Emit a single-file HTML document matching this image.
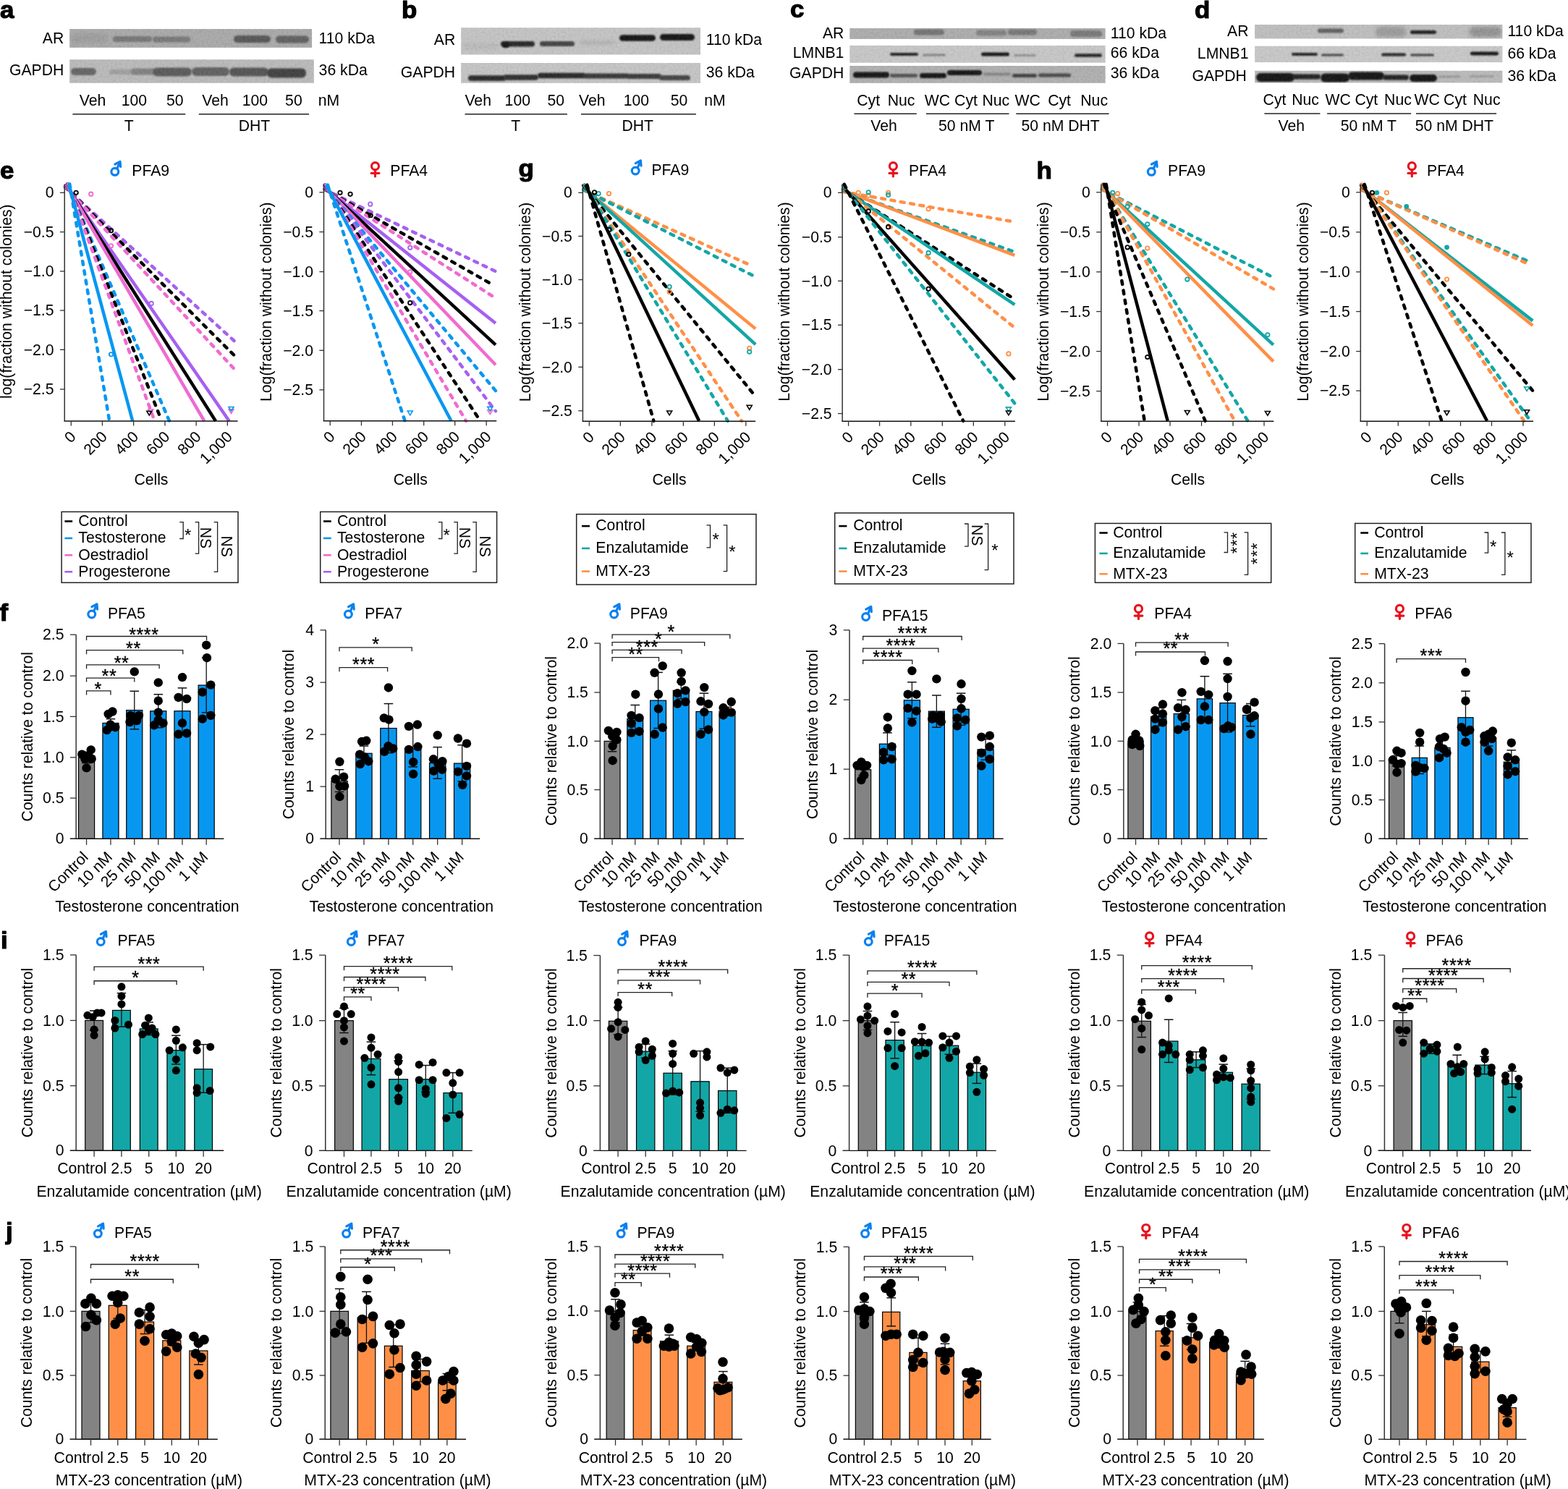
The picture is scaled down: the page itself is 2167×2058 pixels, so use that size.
<!DOCTYPE html>
<html><head><meta charset="utf-8"><title>Figure</title>
<style>html,body{margin:0;padding:0;background:#fff;}svg{display:block;}</style>
</head><body>
<svg xmlns="http://www.w3.org/2000/svg" width="2167" height="2058" viewBox="0 0 2167 2058" font-family="'Liberation Sans', Arial, Helvetica, sans-serif" font-size="20.5" fill="#000">
<rect width="100%" height="100%" fill="#fff"/>
<defs><filter id="b1" x="-30%" y="-80%" width="160%" height="260%"><feGaussianBlur stdDeviation="1.2"/></filter><filter id="b2" x="-30%" y="-80%" width="160%" height="260%"><feGaussianBlur stdDeviation="2.6"/></filter><filter id="nz" x="0" y="0" width="100%" height="100%"><feTurbulence type="fractalNoise" baseFrequency="0.35" numOctaves="2" seed="3"/><feColorMatrix type="matrix" values="1 0 0 0 0  1 0 0 0 0  1 0 0 0 0  0 0 0 0 1"/></filter></defs>
<g>
<rect x="96.2" y="40.1" width="334.9" height="25.7" fill="#a6a6a6"/>
<svg x="96.2" y="40.1" width="334.9" height="25.7" overflow="hidden">
<rect x="59.8" y="9.9" width="54" height="8" rx="4" fill="#6e6e6e" filter="url(#b1)"/>
<rect x="114.8" y="10.4" width="52" height="8" rx="4" fill="#707070" filter="url(#b1)"/>
<rect x="226.8" y="8.9" width="51" height="10" rx="5" fill="#4c4c4c" filter="url(#b1)"/>
<rect x="284.8" y="9.4" width="46" height="10" rx="5" fill="#555" filter="url(#b1)"/>
<rect x="1.8" y="5.9" width="51" height="14" rx="6" fill="#9a9a9a" filter="url(#b2)"/>
<rect width="100%" height="100%" filter="url(#nz)" opacity="0.14"/>
</svg></g>
<g>
<rect x="96.2" y="82.3" width="337.6" height="32.4" fill="#b9b9b9"/>
<svg x="96.2" y="82.3" width="337.6" height="32.4" overflow="hidden">
<rect x="1.8" y="11.7" width="35" height="10" rx="5" fill="#5a5a5a" filter="url(#b1)"/>
<rect x="54.8" y="13.7" width="38" height="7" rx="3.5" fill="#9a9a9a" filter="url(#b1)"/>
<rect x="84.8" y="12.2" width="34" height="9" rx="4.5" fill="#7a7a7a" filter="url(#b1)"/>
<rect x="114.8" y="11.2" width="54" height="12" rx="6" fill="#505050" filter="url(#b1)"/>
<rect x="168.8" y="10.7" width="52" height="12" rx="6" fill="#555" filter="url(#b1)"/>
<rect x="220.8" y="11.2" width="54" height="12" rx="6" fill="#474747" filter="url(#b1)"/>
<rect x="272.8" y="12.2" width="54" height="13" rx="6" fill="#333" filter="url(#b1)"/>
<rect width="100%" height="100%" filter="url(#nz)" opacity="0.14"/>
</svg></g>
<text x="88.3" y="60.2" font-size="21.2" text-anchor="end">AR</text>
<text x="440.6" y="60.2" font-size="21.2">110 kDa</text>
<text x="88.3" y="103.9" font-size="21.2" text-anchor="end">GAPDH</text>
<text x="440.6" y="103.9" font-size="21.2">36 kDa</text>
<text x="109.7" y="146.3" font-size="21.2">Veh</text>
<text x="167.7" y="146.3" font-size="21.2">100</text>
<text x="230" y="146.3" font-size="21.2">50</text>
<text x="279.3" y="146.3" font-size="21.2">Veh</text>
<text x="334.8" y="146.3" font-size="21.2">100</text>
<text x="394.1" y="146.3" font-size="21.2">50</text>
<text x="439.8" y="146.3" font-size="21.2">nM</text>
<line x1="100.4" y1="157.8" x2="256.2" y2="157.8" stroke="#222" stroke-width="1.5"/>
<line x1="274.8" y1="157.8" x2="427.1" y2="157.8" stroke="#222" stroke-width="1.5"/>
<text x="178.3" y="180.5" font-size="21.2" text-anchor="middle">T</text>
<text x="351.4" y="180.5" font-size="21.2" text-anchor="middle">DHT</text>
<g>
<rect x="637.1" y="38.3" width="330.9" height="37.2" fill="#c3c3c3"/>
<svg x="637.1" y="38.3" width="330.9" height="37.2" overflow="hidden">
<rect x="3.9" y="21.7" width="48" height="8" rx="4" fill="#b6b6b6" filter="url(#b2)"/>
<rect x="54.9" y="18.75" width="47" height="7.5" rx="3.75" fill="#151515" filter="url(#b1)"/>
<rect x="56.9" y="19.7" width="10" height="8" rx="4" fill="#000" filter="url(#b1)"/>
<rect x="108.9" y="18.7" width="48" height="7" rx="3.5" fill="#363636" filter="url(#b1)"/>
<rect x="163.9" y="18.7" width="48" height="4" rx="2" fill="#a6a6a6" filter="url(#b2)"/>
<rect x="218.9" y="9.95" width="50" height="8.5" rx="4.25" fill="#050505" filter="url(#b1)"/>
<rect x="274.9" y="8.7" width="48" height="9" rx="4.5" fill="#030303" filter="url(#b1)"/>
<rect width="100%" height="100%" filter="url(#nz)" opacity="0.14"/>
</svg></g>
<g>
<rect x="637.1" y="87" width="330.9" height="27.8" fill="#c4c4c4"/>
<svg x="637.1" y="87" width="330.9" height="27.8" overflow="hidden">
<rect x="9.9" y="17.25" width="52" height="7.5" rx="3.75" fill="#141414" filter="url(#b1)"/>
<rect x="58.9" y="16.25" width="48" height="7.5" rx="3.75" fill="#1c1c1c" filter="url(#b1)"/>
<rect x="105.9" y="13.75" width="66" height="7.5" rx="3.75" fill="#151515" filter="url(#b1)"/>
<rect x="168.9" y="14.5" width="63" height="7" rx="3.5" fill="#262626" filter="url(#b1)"/>
<rect x="228.9" y="15" width="48" height="7" rx="3.5" fill="#2a2a2a" filter="url(#b1)"/>
<rect x="273.9" y="17" width="43" height="7" rx="3.5" fill="#363636" filter="url(#b1)"/>
<rect width="100%" height="100%" filter="url(#nz)" opacity="0.14"/>
</svg></g>
<text x="629.2" y="61.5" font-size="21.2" text-anchor="end">AR</text>
<text x="975.7" y="61.5" font-size="21.2">110 kDa</text>
<text x="629.2" y="106.6" font-size="21.2" text-anchor="end">GAPDH</text>
<text x="975.7" y="106.6" font-size="21.2">36 kDa</text>
<text x="642.4" y="146.3" font-size="21.2">Veh</text>
<text x="697.6" y="146.3" font-size="21.2">100</text>
<text x="756.4" y="146.3" font-size="21.2">50</text>
<text x="800.1" y="146.3" font-size="21.2">Veh</text>
<text x="861.7" y="146.3" font-size="21.2">100</text>
<text x="926.7" y="146.3" font-size="21.2">50</text>
<text x="973.2" y="146.3" font-size="21.2">nM</text>
<line x1="642.5" y1="157.8" x2="783.9" y2="157.8" stroke="#222" stroke-width="1.5"/>
<line x1="803" y1="157.8" x2="961.9" y2="157.8" stroke="#222" stroke-width="1.5"/>
<text x="712.8" y="180.5" font-size="21.2" text-anchor="middle">T</text>
<text x="881.3" y="180.5" font-size="21.2" text-anchor="middle">DHT</text>
<g>
<rect x="1174.3" y="39.1" width="353.3" height="14.8" fill="#a9a9a9"/>
<svg x="1174.3" y="39.1" width="353.3" height="14.8" overflow="hidden">
<rect x="88.7" y="1.4" width="42" height="8" rx="4" fill="#6a6a6a" filter="url(#b1)"/>
<rect x="174.7" y="2.4" width="42" height="8" rx="4" fill="#7a7a7a" filter="url(#b1)"/>
<rect x="218.7" y="1.4" width="40" height="8" rx="4" fill="#6e6e6e" filter="url(#b1)"/>
<rect x="304.7" y="2.9" width="44" height="9" rx="4.5" fill="#707070" filter="url(#b1)"/>
<rect width="100%" height="100%" filter="url(#nz)" opacity="0.14"/>
</svg></g>
<g>
<rect x="1174.3" y="62.9" width="353.3" height="23.8" fill="#c6c6c6"/>
<svg x="1174.3" y="62.9" width="353.3" height="23.8" overflow="hidden">
<rect x="55.7" y="10.1" width="39" height="4" rx="2" fill="#0a0a0a" filter="url(#b1)"/>
<rect x="100.7" y="11.6" width="32" height="3" rx="1.5" fill="#7a7a7a" filter="url(#b1)"/>
<rect x="181.7" y="9.6" width="39" height="5" rx="2.5" fill="#000" filter="url(#b1)"/>
<rect x="226.7" y="12.1" width="31" height="3" rx="1.5" fill="#8a8a8a" filter="url(#b1)"/>
<rect x="310.7" y="11.35" width="38" height="4.5" rx="2.25" fill="#0d0d0d" filter="url(#b1)"/>
<rect width="100%" height="100%" filter="url(#nz)" opacity="0.14"/>
</svg></g>
<g>
<rect x="1174.3" y="91" width="353.3" height="23.8" fill="#adadad"/>
<svg x="1174.3" y="91" width="353.3" height="23.8" overflow="hidden">
<rect x="4.7" y="8.5" width="50" height="8" rx="4" fill="#000" filter="url(#b1)"/>
<rect x="55.7" y="11" width="38" height="5" rx="2.5" fill="#444" filter="url(#b1)"/>
<rect x="96.7" y="10" width="37" height="7" rx="3.5" fill="#050505" filter="url(#b1)"/>
<rect x="134.7" y="6" width="48" height="7" rx="3.5" fill="#000" filter="url(#b1)"/>
<rect x="184.7" y="9.5" width="38" height="4" rx="2" fill="#7a7a7a" filter="url(#b1)"/>
<rect x="224.7" y="11" width="34" height="5" rx="2.5" fill="#333" filter="url(#b1)"/>
<rect x="260.7" y="10.5" width="45" height="5" rx="2.5" fill="#3a3a3a" filter="url(#b1)"/>
<rect width="100%" height="100%" filter="url(#nz)" opacity="0.14"/>
</svg></g>
<text x="1166.4" y="52.8" font-size="21.2" text-anchor="end">AR</text>
<text x="1166.4" y="80.1" font-size="21.2" text-anchor="end">LMNB1</text>
<text x="1166.4" y="108" font-size="21.2" text-anchor="end">GAPDH</text>
<text x="1534.8" y="52.8" font-size="21.2">110 kDa</text>
<text x="1534.8" y="80.1" font-size="21.2">66 kDa</text>
<text x="1534.8" y="108" font-size="21.2">36 kDa</text>
<text x="1184.3" y="145.7" font-size="21.2">Cyt</text>
<text x="1226.7" y="145.7" font-size="21.2">Nuc</text>
<text x="1277.8" y="145.7" font-size="21.2">WC</text>
<text x="1319.1" y="145.7" font-size="21.2">Cyt</text>
<text x="1357.4" y="145.7" font-size="21.2">Nuc</text>
<text x="1402.5" y="145.7" font-size="21.2">WC</text>
<text x="1448.2" y="145.7" font-size="21.2">Cyt</text>
<text x="1493.3" y="145.7" font-size="21.2">Nuc</text>
<line x1="1180.4" y1="157.2" x2="1266.8" y2="157.2" stroke="#222" stroke-width="1.5"/>
<line x1="1279.9" y1="157.2" x2="1394.5" y2="157.2" stroke="#222" stroke-width="1.5"/>
<line x1="1404.3" y1="157.2" x2="1532.6" y2="157.2" stroke="#222" stroke-width="1.5"/>
<text x="1221.6" y="180.5" font-size="21.2" text-anchor="middle">Veh</text>
<text x="1335.7" y="180.5" font-size="21.2" text-anchor="middle">50 nM T</text>
<text x="1465.6" y="180.5" font-size="21.2" text-anchor="middle">50 nM DHT</text>
<g>
<rect x="1734.1" y="34.1" width="342.3" height="19.3" fill="#bdbdbd"/>
<svg x="1734.1" y="34.1" width="342.3" height="19.3" overflow="hidden">
<rect x="86.9" y="5.4" width="36" height="6" rx="3" fill="#555" filter="url(#b1)"/>
<rect x="166.9" y="2.9" width="42" height="14" rx="6" fill="#959595" filter="url(#b2)"/>
<rect x="214.9" y="7.9" width="36" height="5" rx="2.5" fill="#111" filter="url(#b1)"/>
<rect x="296.9" y="2.9" width="44" height="14" rx="6" fill="#8c8c8c" filter="url(#b2)"/>
<rect width="100%" height="100%" filter="url(#nz)" opacity="0.14"/>
</svg></g>
<g>
<rect x="1734.1" y="63.7" width="342.3" height="22.4" fill="#c8c8c8"/>
<svg x="1734.1" y="63.7" width="342.3" height="22.4" overflow="hidden">
<rect x="50.9" y="9.3" width="36" height="4" rx="2" fill="#0c0c0c" filter="url(#b1)"/>
<rect x="91.9" y="10.8" width="31" height="3" rx="1.5" fill="#333" filter="url(#b1)"/>
<rect x="174.9" y="9.8" width="34" height="4" rx="2" fill="#0c0c0c" filter="url(#b1)"/>
<rect x="214.9" y="10.8" width="33" height="3" rx="1.5" fill="#2a2a2a" filter="url(#b1)"/>
<rect x="297.9" y="7.8" width="39" height="5" rx="2.5" fill="#050505" filter="url(#b1)"/>
<rect width="100%" height="100%" filter="url(#nz)" opacity="0.14"/>
</svg></g>
<g>
<rect x="1734.1" y="97.8" width="342.3" height="16.6" fill="#b9b9b9"/>
<svg x="1734.1" y="97.8" width="342.3" height="16.6" overflow="hidden">
<rect x="1.9" y="3.2" width="53" height="12" rx="6" fill="#000" filter="url(#b1)"/>
<rect x="50.9" y="4.7" width="40" height="7" rx="3.5" fill="#080808" filter="url(#b1)"/>
<rect x="90.9" y="3.7" width="40" height="12" rx="6" fill="#000" filter="url(#b1)"/>
<rect x="128.9" y="1.7" width="50" height="11" rx="5.5" fill="#000" filter="url(#b1)"/>
<rect x="176.9" y="5.7" width="36" height="7" rx="3.5" fill="#0a0a0a" filter="url(#b1)"/>
<rect x="213.9" y="5.2" width="38" height="10" rx="5" fill="#000" filter="url(#b1)"/>
<rect x="253.9" y="6.95" width="31" height="2.5" rx="1.25" fill="#8a8a8a" filter="url(#b1)"/>
<rect x="296.9" y="6.45" width="34" height="2.5" rx="1.25" fill="#909090" filter="url(#b1)"/>
<rect width="100%" height="100%" filter="url(#nz)" opacity="0.14"/>
</svg></g>
<text x="1725.5" y="49.8" font-size="21.2" text-anchor="end">AR</text>
<text x="1725.5" y="80.9" font-size="21.2" text-anchor="end">LMNB1</text>
<text x="1722.8" y="111.6" font-size="21.2" text-anchor="end">GAPDH</text>
<text x="2083.4" y="49.8" font-size="21.2">110 kDa</text>
<text x="2083.4" y="80.9" font-size="21.2">66 kDa</text>
<text x="2083.4" y="111.6" font-size="21.2">36 kDa</text>
<text x="1745.6" y="145.4" font-size="21.2">Cyt</text>
<text x="1785.2" y="145.4" font-size="21.2">Nuc</text>
<text x="1831.4" y="145.4" font-size="21.2">WC</text>
<text x="1872.4" y="145.4" font-size="21.2">Cyt</text>
<text x="1913.1" y="145.4" font-size="21.2">Nuc</text>
<text x="1954.6" y="145.4" font-size="21.2">WC</text>
<text x="1995.1" y="145.4" font-size="21.2">Cyt</text>
<text x="2035.8" y="145.4" font-size="21.2">Nuc</text>
<line x1="1747.4" y1="157" x2="1824.4" y2="157" stroke="#222" stroke-width="1.5"/>
<line x1="1834.1" y1="157" x2="1950.1" y2="157" stroke="#222" stroke-width="1.5"/>
<line x1="1957" y1="157" x2="2068.1" y2="157" stroke="#222" stroke-width="1.5"/>
<text x="1784.8" y="180.8" font-size="21.2" text-anchor="middle">Veh</text>
<text x="1891.4" y="180.8" font-size="21.2" text-anchor="middle">50 nM T</text>
<text x="2009.9" y="180.8" font-size="21.2" text-anchor="middle">50 nM DHT</text>
<g fill="none" stroke-width="4.5">
<line x1="90.03" y1="258.82" x2="325.47" y2="472.78" stroke="#a660f0" stroke-dasharray="5.0 8.5" stroke-linecap="round"/>
<line x1="90.03" y1="258.09" x2="323.55" y2="491.01" stroke="#000" stroke-dasharray="5.0 8.5" stroke-linecap="round"/>
<line x1="90.03" y1="257.41" x2="323.55" y2="509.81" stroke="#f06ad0" stroke-dasharray="5.0 8.5" stroke-linecap="round"/>
<line x1="90.03" y1="254.42" x2="316.83" y2="581.97" stroke="#a660f0"/>
<line x1="90.72" y1="254.39" x2="298.02" y2="581.97" stroke="#000"/>
<line x1="91.32" y1="254.39" x2="282.29" y2="581.97" stroke="#f06ad0"/>
<line x1="93.13" y1="254.39" x2="234.12" y2="581.97" stroke="#0897f0" stroke-dasharray="5.0 8.5" stroke-linecap="round"/>
<line x1="93.53" y1="254.39" x2="220.69" y2="574.68" stroke="#000" stroke-dasharray="5.0 8.5" stroke-linecap="round"/>
<line x1="93.9" y1="254.39" x2="212.44" y2="578.32" stroke="#f06ad0" stroke-dasharray="5.0 8.5" stroke-linecap="round"/>
<line x1="95.05" y1="254.39" x2="183.27" y2="581.97" stroke="#0897f0"/>
<line x1="96.26" y1="254.39" x2="151.22" y2="581.97" stroke="#0897f0" stroke-dasharray="5.0 8.5" stroke-linecap="round"/>
</g>
<circle cx="105.16" cy="266.29" r="2.7" fill="none" stroke="#000" stroke-width="1.8"/>
<circle cx="153.52" cy="318.68" r="2.7" fill="none" stroke="#000" stroke-width="1.8"/>
<circle cx="125.7" cy="268.21" r="2.7" fill="none" stroke="#f06ad0" stroke-width="1.8"/>
<circle cx="153.52" cy="339.79" r="2.7" fill="none" stroke="#f06ad0" stroke-width="1.8"/>
<circle cx="209.17" cy="419.43" r="2.7" fill="none" stroke="#a660f0" stroke-width="1.8"/>
<circle cx="153.52" cy="489.86" r="2.7" fill="none" stroke="#0897f0" stroke-width="1.8"/>
<polygon points="204.71,565.74 211.71,565.74 208.21,571.54" fill="none" stroke="#f06ad0" stroke-width="1.6"/>
<polygon points="202.79,568.23 209.79,568.23 206.29,574.03" fill="none" stroke="#000" stroke-width="1.6"/>
<polygon points="316.02,565.74 323.02,565.74 319.52,571.54" fill="none" stroke="#f06ad0" stroke-width="1.6"/>
<polygon points="316.02,562.47 323.02,562.47 319.52,568.27" fill="none" stroke="#0897f0" stroke-width="1.6"/>
<line x1="89.23" y1="254.39" x2="89.23" y2="581.97" stroke="#333" stroke-width="1.5"/>
<line x1="88.53" y1="581.97" x2="328.54" y2="581.97" stroke="#111" stroke-width="1.5"/>
<line x1="82.9" y1="266.29" x2="89.23" y2="266.29" stroke="#333" stroke-width="1.3"/>
<text x="74.5" y="273.49" font-size="21.2" text-anchor="end">0</text>
<line x1="82.9" y1="320.6" x2="89.23" y2="320.6" stroke="#333" stroke-width="1.3"/>
<text x="74.5" y="327.8" font-size="21.2" text-anchor="end">−0.5</text>
<line x1="82.9" y1="374.91" x2="89.23" y2="374.91" stroke="#333" stroke-width="1.3"/>
<text x="74.5" y="382.11" font-size="21.2" text-anchor="end">−1.0</text>
<line x1="82.9" y1="429.02" x2="89.23" y2="429.02" stroke="#333" stroke-width="1.3"/>
<text x="74.5" y="436.22" font-size="21.2" text-anchor="end">−1.5</text>
<line x1="82.9" y1="483.33" x2="89.23" y2="483.33" stroke="#333" stroke-width="1.3"/>
<text x="74.5" y="490.53" font-size="21.2" text-anchor="end">−2.0</text>
<line x1="82.9" y1="538.02" x2="89.23" y2="538.02" stroke="#333" stroke-width="1.3"/>
<text x="74.5" y="545.22" font-size="21.2" text-anchor="end">−2.5</text>
<line x1="98.25" y1="581.97" x2="98.25" y2="588.47" stroke="#333" stroke-width="1.3"/>
<text x="106.15" y="604.97" font-size="21.2" text-anchor="end" transform="rotate(-45 106.15 604.97)">0</text>
<line x1="141.43" y1="581.97" x2="141.43" y2="588.47" stroke="#333" stroke-width="1.3"/>
<text x="149.33" y="604.97" font-size="21.2" text-anchor="end" transform="rotate(-45 149.33 604.97)">200</text>
<line x1="184.61" y1="581.97" x2="184.61" y2="588.47" stroke="#333" stroke-width="1.3"/>
<text x="192.51" y="604.97" font-size="21.2" text-anchor="end" transform="rotate(-45 192.51 604.97)">400</text>
<line x1="227.98" y1="581.97" x2="227.98" y2="588.47" stroke="#333" stroke-width="1.3"/>
<text x="235.88" y="604.97" font-size="21.2" text-anchor="end" transform="rotate(-45 235.88 604.97)">600</text>
<line x1="271.16" y1="581.97" x2="271.16" y2="588.47" stroke="#333" stroke-width="1.3"/>
<text x="279.06" y="604.97" font-size="21.2" text-anchor="end" transform="rotate(-45 279.06 604.97)">800</text>
<line x1="314.34" y1="581.97" x2="314.34" y2="588.47" stroke="#333" stroke-width="1.3"/>
<text x="322.24" y="604.97" font-size="21.2" text-anchor="end" transform="rotate(-45 322.24 604.97)">1,000</text>
<text x="208.93" y="669.5" font-size="21.2" text-anchor="middle">Cells</text>
<text x="16.43" y="416.68" font-size="21.2" text-anchor="middle" transform="rotate(-90 16.43 416.68)">log(fraction without colonies)</text>
<g fill="none" stroke="#0a80ef" stroke-width="3.2" stroke-linecap="round" stroke-linejoin="round">
<circle cx="158.8" cy="237.3" r="4.9"/>
<polyline points="161.8,233.1 165.6,223.8"/>
<polyline points="159,227 166,223.3 166.6,230.4"/>
</g>
<text x="182.3" y="242.8" font-size="21.2">PFA9</text>
<g fill="none" stroke-width="4.5">
<line x1="448.31" y1="262.01" x2="684.97" y2="375.05" stroke="#a660f0" stroke-dasharray="5.0 8.5" stroke-linecap="round"/>
<line x1="448.31" y1="261.29" x2="679.86" y2="392.96" stroke="#000" stroke-dasharray="5.0 8.5" stroke-linecap="round"/>
<line x1="448.31" y1="260.73" x2="684.97" y2="412.15" stroke="#f06ad0" stroke-dasharray="5.0 8.5" stroke-linecap="round"/>
<line x1="448.31" y1="259.54" x2="684.97" y2="446.69" stroke="#a660f0"/>
<line x1="448.31" y1="258.5" x2="684.97" y2="476.63" stroke="#000"/>
<line x1="448.31" y1="257.55" x2="684.97" y2="504.27" stroke="#f06ad0"/>
<line x1="448.31" y1="256.31" x2="684.97" y2="540.09" stroke="#0897f0" stroke-dasharray="5.0 8.5" stroke-linecap="round"/>
<line x1="448.47" y1="255.55" x2="684.97" y2="568.24" stroke="#a660f0" stroke-dasharray="5.0 8.5" stroke-linecap="round"/>
<line x1="449.49" y1="255.55" x2="659.9" y2="575.92" stroke="#000" stroke-dasharray="5.0 8.5" stroke-linecap="round"/>
<line x1="450.13" y1="255.55" x2="644.03" y2="581.8" stroke="#f06ad0" stroke-dasharray="5.0 8.5" stroke-linecap="round"/>
<line x1="450.79" y1="255.55" x2="623.56" y2="581.8" stroke="#0897f0"/>
<line x1="452.86" y1="255.55" x2="559.59" y2="581.8" stroke="#0897f0" stroke-dasharray="5.0 8.5" stroke-linecap="round"/>
</g>
<circle cx="470.03" cy="266.29" r="2.7" fill="none" stroke="#000" stroke-width="1.8"/>
<circle cx="484.1" cy="268.34" r="2.7" fill="none" stroke="#000" stroke-width="1.8"/>
<circle cx="566.76" cy="418.55" r="2.7" fill="none" stroke="#000" stroke-width="1.8"/>
<circle cx="511.74" cy="282.16" r="2.7" fill="none" stroke="#a660f0" stroke-width="1.8"/>
<circle cx="566.76" cy="342.29" r="2.7" fill="none" stroke="#a660f0" stroke-width="1.8"/>
<circle cx="566.76" cy="375.81" r="2.7" fill="none" stroke="#f06ad0" stroke-width="1.8"/>
<circle cx="512.25" cy="297.77" r="2.7" fill="none" stroke="#000" stroke-width="1.8"/>
<polygon points="563.26,568 570.26,568 566.76,573.8" fill="none" stroke="#0897f0" stroke-width="1.6"/>
<polygon points="673.8,566.72 680.8,566.72 677.3,572.52" fill="none" stroke="#f06ad0" stroke-width="1.6"/>
<polygon points="673.8,562.37 680.8,562.37 677.3,568.17" fill="none" stroke="#0897f0" stroke-width="1.6"/>
<line x1="447.51" y1="255.55" x2="447.51" y2="581.8" stroke="#333" stroke-width="1.5"/>
<line x1="446.81" y1="581.8" x2="686.25" y2="581.8" stroke="#111" stroke-width="1.5"/>
<line x1="441.37" y1="265.78" x2="447.51" y2="265.78" stroke="#333" stroke-width="1.3"/>
<text x="432.97" y="272.98" font-size="21.2" text-anchor="end">0</text>
<line x1="441.37" y1="320.54" x2="447.51" y2="320.54" stroke="#333" stroke-width="1.3"/>
<text x="432.97" y="327.74" font-size="21.2" text-anchor="end">−0.5</text>
<line x1="441.37" y1="375.56" x2="447.51" y2="375.56" stroke="#333" stroke-width="1.3"/>
<text x="432.97" y="382.76" font-size="21.2" text-anchor="end">−1.0</text>
<line x1="441.37" y1="429.55" x2="447.51" y2="429.55" stroke="#333" stroke-width="1.3"/>
<text x="432.97" y="436.75" font-size="21.2" text-anchor="end">−1.5</text>
<line x1="441.37" y1="484.31" x2="447.51" y2="484.31" stroke="#333" stroke-width="1.3"/>
<text x="432.97" y="491.51" font-size="21.2" text-anchor="end">−2.0</text>
<line x1="441.37" y1="538.81" x2="447.51" y2="538.81" stroke="#333" stroke-width="1.3"/>
<text x="432.97" y="546.01" font-size="21.2" text-anchor="end">−2.5</text>
<line x1="456.21" y1="581.8" x2="456.21" y2="588.3" stroke="#333" stroke-width="1.3"/>
<text x="464.11" y="604.8" font-size="21.2" text-anchor="end" transform="rotate(-45 464.11 604.8)">0</text>
<line x1="499.46" y1="581.8" x2="499.46" y2="588.3" stroke="#333" stroke-width="1.3"/>
<text x="507.36" y="604.8" font-size="21.2" text-anchor="end" transform="rotate(-45 507.36 604.8)">200</text>
<line x1="542.45" y1="581.8" x2="542.45" y2="588.3" stroke="#333" stroke-width="1.3"/>
<text x="550.35" y="604.8" font-size="21.2" text-anchor="end" transform="rotate(-45 550.35 604.8)">400</text>
<line x1="585.69" y1="581.8" x2="585.69" y2="588.3" stroke="#333" stroke-width="1.3"/>
<text x="593.59" y="604.8" font-size="21.2" text-anchor="end" transform="rotate(-45 593.59 604.8)">600</text>
<line x1="628.68" y1="581.8" x2="628.68" y2="588.3" stroke="#333" stroke-width="1.3"/>
<text x="636.58" y="604.8" font-size="21.2" text-anchor="end" transform="rotate(-45 636.58 604.8)">800</text>
<line x1="672.18" y1="581.8" x2="672.18" y2="588.3" stroke="#333" stroke-width="1.3"/>
<text x="680.08" y="604.8" font-size="21.2" text-anchor="end" transform="rotate(-45 680.08 604.8)">1,000</text>
<text x="567.21" y="669.5" font-size="21.2" text-anchor="middle">Cells</text>
<text x="374.71" y="417.17" font-size="21.2" text-anchor="middle" transform="rotate(-90 374.71 417.17)">Log(fraction without colonies)</text>
<g fill="none" stroke="#e8121e" stroke-width="3.2" stroke-linecap="round">
<circle cx="518.5" cy="229.7" r="5.0"/>
<line x1="518.5" y1="236.2" x2="518.5" y2="243.8"/>
<line x1="513.2" y1="239.4" x2="523.9" y2="239.4"/>
</g>
<text x="539.3" y="242.8" font-size="21.2">PFA4</text>
<g fill="none" stroke-width="4.5">
<line x1="806.22" y1="262.62" x2="1037.26" y2="366.6" stroke="#ff8f46" stroke-dasharray="5.0 8.5" stroke-linecap="round"/>
<line x1="806.22" y1="262.16" x2="1044.17" y2="382.72" stroke="#13a6a6" stroke-dasharray="5.0 8.5" stroke-linecap="round"/>
<line x1="806.22" y1="259.62" x2="1044.17" y2="454.37" stroke="#ff8f46"/>
<line x1="806.22" y1="258.85" x2="1044.17" y2="476.12" stroke="#13a6a6"/>
<line x1="806.22" y1="256.3" x2="1039.82" y2="542.65" stroke="#000" stroke-dasharray="5.0 8.5" stroke-linecap="round"/>
<line x1="807.21" y1="255.55" x2="1024.97" y2="581.8" stroke="#ff8f46" stroke-dasharray="5.0 8.5" stroke-linecap="round"/>
<line x1="807.86" y1="255.55" x2="1005.78" y2="581.8" stroke="#13a6a6" stroke-dasharray="5.0 8.5" stroke-linecap="round"/>
<line x1="809.21" y1="255.55" x2="966.12" y2="581.8" stroke="#000"/>
<line x1="811.35" y1="255.55" x2="903.43" y2="581.8" stroke="#000" stroke-dasharray="5.0 8.5" stroke-linecap="round"/>
</g>
<circle cx="841.5" cy="267.57" r="2.7" fill="none" stroke="#ff8f46" stroke-width="1.8"/>
<circle cx="827.18" cy="267.57" r="2.7" fill="none" stroke="#13a6a6" stroke-width="1.8"/>
<circle cx="821.55" cy="265.78" r="2.7" fill="none" stroke="#000" stroke-width="1.8"/>
<circle cx="842.02" cy="317.47" r="2.7" fill="none" stroke="#000" stroke-width="1.8"/>
<circle cx="868.88" cy="351.5" r="2.7" fill="none" stroke="#000" stroke-width="1.8"/>
<circle cx="925.18" cy="396.28" r="2.7" fill="none" stroke="#13a6a6" stroke-width="1.8"/>
<circle cx="925.18" cy="403.19" r="2.7" fill="none" stroke="#ff8f46" stroke-width="1.8"/>
<circle cx="1035.72" cy="481.24" r="2.7" fill="none" stroke="#ff8f46" stroke-width="1.8"/>
<circle cx="1035.72" cy="486.36" r="2.7" fill="none" stroke="#13a6a6" stroke-width="1.8"/>
<polygon points="921.68,568 928.68,568 925.18,573.8" fill="none" stroke="#000" stroke-width="1.6"/>
<polygon points="1032.22,560.32 1039.22,560.32 1035.72,566.12" fill="none" stroke="#000" stroke-width="1.6"/>
<line x1="805.42" y1="255.55" x2="805.42" y2="582.31" stroke="#333" stroke-width="1.5"/>
<line x1="804.72" y1="582.31" x2="1044.17" y2="582.31" stroke="#111" stroke-width="1.5"/>
<line x1="799.28" y1="266.29" x2="805.42" y2="266.29" stroke="#333" stroke-width="1.3"/>
<text x="790.88" y="273.49" font-size="21.2" text-anchor="end">0</text>
<line x1="799.28" y1="326.43" x2="805.42" y2="326.43" stroke="#333" stroke-width="1.3"/>
<text x="790.88" y="333.63" font-size="21.2" text-anchor="end">−0.5</text>
<line x1="799.28" y1="386.56" x2="805.42" y2="386.56" stroke="#333" stroke-width="1.3"/>
<text x="790.88" y="393.76" font-size="21.2" text-anchor="end">−1.0</text>
<line x1="799.28" y1="446.69" x2="805.42" y2="446.69" stroke="#333" stroke-width="1.3"/>
<text x="790.88" y="453.89" font-size="21.2" text-anchor="end">−1.5</text>
<line x1="799.28" y1="507.34" x2="805.42" y2="507.34" stroke="#333" stroke-width="1.3"/>
<text x="790.88" y="514.54" font-size="21.2" text-anchor="end">−2.0</text>
<line x1="799.28" y1="567.73" x2="805.42" y2="567.73" stroke="#333" stroke-width="1.3"/>
<text x="790.88" y="574.93" font-size="21.2" text-anchor="end">−2.5</text>
<line x1="814.38" y1="582.31" x2="814.38" y2="588.81" stroke="#333" stroke-width="1.3"/>
<text x="822.28" y="605.31" font-size="21.2" text-anchor="end" transform="rotate(-45 822.28 605.31)">0</text>
<line x1="857.37" y1="582.31" x2="857.37" y2="588.81" stroke="#333" stroke-width="1.3"/>
<text x="865.27" y="605.31" font-size="21.2" text-anchor="end" transform="rotate(-45 865.27 605.31)">200</text>
<line x1="900.87" y1="582.31" x2="900.87" y2="588.81" stroke="#333" stroke-width="1.3"/>
<text x="908.77" y="605.31" font-size="21.2" text-anchor="end" transform="rotate(-45 908.77 605.31)">400</text>
<line x1="944.37" y1="582.31" x2="944.37" y2="588.81" stroke="#333" stroke-width="1.3"/>
<text x="952.27" y="605.31" font-size="21.2" text-anchor="end" transform="rotate(-45 952.27 605.31)">600</text>
<line x1="987.36" y1="582.31" x2="987.36" y2="588.81" stroke="#333" stroke-width="1.3"/>
<text x="995.26" y="605.31" font-size="21.2" text-anchor="end" transform="rotate(-45 995.26 605.31)">800</text>
<line x1="1030.86" y1="582.31" x2="1030.86" y2="588.81" stroke="#333" stroke-width="1.3"/>
<text x="1038.76" y="605.31" font-size="21.2" text-anchor="end" transform="rotate(-45 1038.76 605.31)">1,000</text>
<text x="925.12" y="669.5" font-size="21.2" text-anchor="middle">Cells</text>
<text x="732.62" y="417.43" font-size="21.2" text-anchor="middle" transform="rotate(-90 732.62 417.43)">Log(fraction without colonies)</text>
<g fill="none" stroke="#0a80ef" stroke-width="3.2" stroke-linecap="round" stroke-linejoin="round">
<circle cx="878.2" cy="236" r="4.9"/>
<polyline points="881.2,231.8 885,222.5"/>
<polyline points="878.4,225.7 885.4,222 886,229.1"/>
</g>
<text x="900.4" y="241.5" font-size="21.2">PFA9</text>
<g fill="none" stroke-width="4.5">
<line x1="1164.95" y1="264.95" x2="1402.37" y2="306.72" stroke="#ff8f46" stroke-dasharray="5.0 8.5" stroke-linecap="round"/>
<line x1="1164.95" y1="263.57" x2="1402.37" y2="348.18" stroke="#13a6a6" stroke-dasharray="5.0 8.5" stroke-linecap="round"/>
<line x1="1164.95" y1="263.42" x2="1402.37" y2="352.78" stroke="#ff8f46"/>
<line x1="1164.95" y1="261.39" x2="1399.82" y2="412.15" stroke="#000" stroke-dasharray="5.0 8.5" stroke-linecap="round"/>
<line x1="1164.95" y1="261.14" x2="1402.37" y2="421.11" stroke="#13a6a6"/>
<line x1="1164.95" y1="260.08" x2="1402.37" y2="453.09" stroke="#ff8f46" stroke-dasharray="5.0 8.5" stroke-linecap="round"/>
<line x1="1164.95" y1="257.7" x2="1402.37" y2="524.74" stroke="#000"/>
<line x1="1164.95" y1="256.61" x2="1402.37" y2="557.49" stroke="#13a6a6" stroke-dasharray="5.0 8.5" stroke-linecap="round"/>
<line x1="1166.8" y1="254.78" x2="1331.24" y2="581.8" stroke="#000" stroke-dasharray="5.0 8.5" stroke-linecap="round"/>
</g>
<circle cx="1186.15" cy="266.29" r="2.7" fill="none" stroke="#ff8f46" stroke-width="1.8"/>
<circle cx="1200.23" cy="270.13" r="2.7" fill="none" stroke="#ff8f46" stroke-width="1.8"/>
<circle cx="1227.6" cy="266.29" r="2.7" fill="none" stroke="#ff8f46" stroke-width="1.8"/>
<circle cx="1283.13" cy="288.81" r="2.7" fill="none" stroke="#ff8f46" stroke-width="1.8"/>
<circle cx="1393.93" cy="488.92" r="2.7" fill="none" stroke="#ff8f46" stroke-width="1.8"/>
<circle cx="1200.23" cy="265.78" r="2.7" fill="none" stroke="#13a6a6" stroke-width="1.8"/>
<circle cx="1227.6" cy="269.37" r="2.7" fill="none" stroke="#13a6a6" stroke-width="1.8"/>
<circle cx="1283.13" cy="349.46" r="2.7" fill="none" stroke="#13a6a6" stroke-width="1.8"/>
<circle cx="1200.23" cy="291.88" r="2.7" fill="none" stroke="#000" stroke-width="1.8"/>
<circle cx="1227.6" cy="313.63" r="2.7" fill="none" stroke="#000" stroke-width="1.8"/>
<circle cx="1283.13" cy="399.36" r="2.7" fill="none" stroke="#000" stroke-width="1.8"/>
<polygon points="1390.43,562.88 1397.43,562.88 1393.93,568.68" fill="none" stroke="#13a6a6" stroke-width="1.6"/>
<polygon points="1390.43,568 1397.43,568 1393.93,573.8" fill="none" stroke="#000" stroke-width="1.6"/>
<line x1="1164.15" y1="254.78" x2="1164.15" y2="582.31" stroke="#333" stroke-width="1.5"/>
<line x1="1163.45" y1="582.31" x2="1402.89" y2="582.31" stroke="#111" stroke-width="1.5"/>
<line x1="1158" y1="266.29" x2="1164.15" y2="266.29" stroke="#333" stroke-width="1.3"/>
<text x="1149.6" y="273.49" font-size="21.2" text-anchor="end">0</text>
<line x1="1158" y1="327.71" x2="1164.15" y2="327.71" stroke="#333" stroke-width="1.3"/>
<text x="1149.6" y="334.91" font-size="21.2" text-anchor="end">−0.5</text>
<line x1="1158" y1="388.35" x2="1164.15" y2="388.35" stroke="#333" stroke-width="1.3"/>
<text x="1149.6" y="395.55" font-size="21.2" text-anchor="end">−1.0</text>
<line x1="1158" y1="449.25" x2="1164.15" y2="449.25" stroke="#333" stroke-width="1.3"/>
<text x="1149.6" y="456.45" font-size="21.2" text-anchor="end">−1.5</text>
<line x1="1158" y1="510.67" x2="1164.15" y2="510.67" stroke="#333" stroke-width="1.3"/>
<text x="1149.6" y="517.87" font-size="21.2" text-anchor="end">−2.0</text>
<line x1="1158" y1="571.57" x2="1164.15" y2="571.57" stroke="#333" stroke-width="1.3"/>
<text x="1149.6" y="578.77" font-size="21.2" text-anchor="end">−2.5</text>
<line x1="1172.59" y1="582.31" x2="1172.59" y2="588.81" stroke="#333" stroke-width="1.3"/>
<text x="1180.49" y="605.31" font-size="21.2" text-anchor="end" transform="rotate(-45 1180.49 605.31)">0</text>
<line x1="1215.58" y1="582.31" x2="1215.58" y2="588.81" stroke="#333" stroke-width="1.3"/>
<text x="1223.48" y="605.31" font-size="21.2" text-anchor="end" transform="rotate(-45 1223.48 605.31)">200</text>
<line x1="1258.82" y1="582.31" x2="1258.82" y2="588.81" stroke="#333" stroke-width="1.3"/>
<text x="1266.72" y="605.31" font-size="21.2" text-anchor="end" transform="rotate(-45 1266.72 605.31)">400</text>
<line x1="1302.32" y1="582.31" x2="1302.32" y2="588.81" stroke="#333" stroke-width="1.3"/>
<text x="1310.22" y="605.31" font-size="21.2" text-anchor="end" transform="rotate(-45 1310.22 605.31)">600</text>
<line x1="1345.31" y1="582.31" x2="1345.31" y2="588.81" stroke="#333" stroke-width="1.3"/>
<text x="1353.21" y="605.31" font-size="21.2" text-anchor="end" transform="rotate(-45 1353.21 605.31)">800</text>
<line x1="1388.81" y1="582.31" x2="1388.81" y2="588.81" stroke="#333" stroke-width="1.3"/>
<text x="1396.71" y="605.31" font-size="21.2" text-anchor="end" transform="rotate(-45 1396.71 605.31)">1,000</text>
<text x="1283.85" y="669.5" font-size="21.2" text-anchor="middle">Cells</text>
<text x="1091.35" y="417.05" font-size="21.2" text-anchor="middle" transform="rotate(-90 1091.35 417.05)">Log(fraction without colonies)</text>
<g fill="none" stroke="#e8121e" stroke-width="3.2" stroke-linecap="round">
<circle cx="1234.4" cy="229.7" r="5.0"/>
<line x1="1234.4" y1="236.2" x2="1234.4" y2="243.8"/>
<line x1="1229.1" y1="239.4" x2="1239.8" y2="239.4"/>
</g>
<text x="1256.1" y="242.8" font-size="21.2">PFA4</text>
<g fill="none" stroke-width="4.5">
<line x1="1522.64" y1="261.73" x2="1759.82" y2="383.49" stroke="#13a6a6" stroke-dasharray="5.0 8.5" stroke-linecap="round"/>
<line x1="1522.64" y1="261.18" x2="1759.82" y2="399.36" stroke="#ff8f46" stroke-dasharray="5.0 8.5" stroke-linecap="round"/>
<line x1="1522.64" y1="258.52" x2="1759.82" y2="476.63" stroke="#13a6a6"/>
<line x1="1522.64" y1="257.72" x2="1759.82" y2="499.66" stroke="#ff8f46"/>
<line x1="1523.79" y1="254.78" x2="1724.5" y2="581.8" stroke="#13a6a6" stroke-dasharray="5.0 8.5" stroke-linecap="round"/>
<line x1="1524.42" y1="254.78" x2="1704.54" y2="578.47" stroke="#ff8f46" stroke-dasharray="5.0 8.5" stroke-linecap="round"/>
<line x1="1525.84" y1="254.78" x2="1665.65" y2="581.8" stroke="#000" stroke-dasharray="5.0 8.5" stroke-linecap="round"/>
<line x1="1527.65" y1="254.78" x2="1613.71" y2="581.8" stroke="#000"/>
<line x1="1528.76" y1="254.78" x2="1581.72" y2="581.8" stroke="#000" stroke-dasharray="5.0 8.5" stroke-linecap="round"/>
</g>
<circle cx="1537.71" cy="266.29" r="2.7" fill="none" stroke="#13a6a6" stroke-width="1.8"/>
<circle cx="1544.62" cy="267.57" r="2.7" fill="none" stroke="#ff8f46" stroke-width="1.8"/>
<circle cx="1558.18" cy="285.49" r="2.7" fill="none" stroke="#13a6a6" stroke-width="1.8"/>
<circle cx="1585.81" cy="309.8" r="2.7" fill="none" stroke="#13a6a6" stroke-width="1.8"/>
<circle cx="1585.81" cy="343.06" r="2.7" fill="none" stroke="#ff8f46" stroke-width="1.8"/>
<circle cx="1558.18" cy="341.78" r="2.7" fill="none" stroke="#000" stroke-width="1.8"/>
<circle cx="1585.81" cy="493.52" r="2.7" fill="none" stroke="#000" stroke-width="1.8"/>
<circle cx="1640.83" cy="386.05" r="2.7" fill="none" stroke="#13a6a6" stroke-width="1.8"/>
<circle cx="1751.88" cy="462.81" r="2.7" fill="none" stroke="#13a6a6" stroke-width="1.8"/>
<polygon points="1637.33,567.49 1644.33,567.49 1640.83,573.29" fill="none" stroke="#000" stroke-width="1.6"/>
<polygon points="1748.38,568.51 1755.38,568.51 1751.88,574.31" fill="none" stroke="#000" stroke-width="1.6"/>
<line x1="1521.84" y1="254.78" x2="1521.84" y2="582.31" stroke="#333" stroke-width="1.5"/>
<line x1="1521.14" y1="582.31" x2="1760.33" y2="582.31" stroke="#111" stroke-width="1.5"/>
<line x1="1515.19" y1="265.78" x2="1521.84" y2="265.78" stroke="#333" stroke-width="1.3"/>
<text x="1506.79" y="272.98" font-size="21.2" text-anchor="end">0</text>
<line x1="1515.19" y1="320.8" x2="1521.84" y2="320.8" stroke="#333" stroke-width="1.3"/>
<text x="1506.79" y="328" font-size="21.2" text-anchor="end">−0.5</text>
<line x1="1515.19" y1="375.81" x2="1521.84" y2="375.81" stroke="#333" stroke-width="1.3"/>
<text x="1506.79" y="383.01" font-size="21.2" text-anchor="end">−1.0</text>
<line x1="1515.19" y1="430.57" x2="1521.84" y2="430.57" stroke="#333" stroke-width="1.3"/>
<text x="1506.79" y="437.77" font-size="21.2" text-anchor="end">−1.5</text>
<line x1="1515.19" y1="485.59" x2="1521.84" y2="485.59" stroke="#333" stroke-width="1.3"/>
<text x="1506.79" y="492.79" font-size="21.2" text-anchor="end">−2.0</text>
<line x1="1515.19" y1="540.6" x2="1521.84" y2="540.6" stroke="#333" stroke-width="1.3"/>
<text x="1506.79" y="547.8" font-size="21.2" text-anchor="end">−2.5</text>
<line x1="1530.54" y1="582.31" x2="1530.54" y2="588.81" stroke="#333" stroke-width="1.3"/>
<text x="1538.44" y="605.31" font-size="21.2" text-anchor="end" transform="rotate(-45 1538.44 605.31)">0</text>
<line x1="1574.04" y1="582.31" x2="1574.04" y2="588.81" stroke="#333" stroke-width="1.3"/>
<text x="1581.94" y="605.31" font-size="21.2" text-anchor="end" transform="rotate(-45 1581.94 605.31)">200</text>
<line x1="1617.03" y1="582.31" x2="1617.03" y2="588.81" stroke="#333" stroke-width="1.3"/>
<text x="1624.93" y="605.31" font-size="21.2" text-anchor="end" transform="rotate(-45 1624.93 605.31)">400</text>
<line x1="1660.53" y1="582.31" x2="1660.53" y2="588.81" stroke="#333" stroke-width="1.3"/>
<text x="1668.43" y="605.31" font-size="21.2" text-anchor="end" transform="rotate(-45 1668.43 605.31)">600</text>
<line x1="1704.03" y1="582.31" x2="1704.03" y2="588.81" stroke="#333" stroke-width="1.3"/>
<text x="1711.93" y="605.31" font-size="21.2" text-anchor="end" transform="rotate(-45 1711.93 605.31)">800</text>
<line x1="1747.02" y1="582.31" x2="1747.02" y2="588.81" stroke="#333" stroke-width="1.3"/>
<text x="1754.92" y="605.31" font-size="21.2" text-anchor="end" transform="rotate(-45 1754.92 605.31)">1,000</text>
<text x="1641.54" y="669.5" font-size="21.2" text-anchor="middle">Cells</text>
<text x="1449.04" y="417.05" font-size="21.2" text-anchor="middle" transform="rotate(-90 1449.04 417.05)">Log(fraction without colonies)</text>
<g fill="none" stroke="#0a80ef" stroke-width="3.2" stroke-linecap="round" stroke-linejoin="round">
<circle cx="1591.3" cy="237.3" r="4.9"/>
<polyline points="1594.3,233.1 1598.1,223.8"/>
<polyline points="1591.5,227 1598.5,223.3 1599.1,230.4"/>
</g>
<text x="1614.1" y="242.8" font-size="21.2">PFA9</text>
<g fill="none" stroke-width="4.5">
<line x1="1881.11" y1="262.29" x2="2116.49" y2="363.02" stroke="#13a6a6" stroke-dasharray="5.0 8.5" stroke-linecap="round"/>
<line x1="1881.11" y1="262.16" x2="2112.14" y2="364.81" stroke="#ff8f46" stroke-dasharray="5.0 8.5" stroke-linecap="round"/>
<line x1="1881.11" y1="259.46" x2="2118.28" y2="443.37" stroke="#13a6a6"/>
<line x1="1881.11" y1="259.22" x2="2118.28" y2="450.02" stroke="#ff8f46"/>
<line x1="1881.11" y1="256.01" x2="2118.28" y2="540.09" stroke="#000" stroke-dasharray="5.0 8.5" stroke-linecap="round"/>
<line x1="1881.4" y1="254.78" x2="2112.65" y2="578.47" stroke="#13a6a6" stroke-dasharray="5.0 8.5" stroke-linecap="round"/>
<line x1="1881.71" y1="254.78" x2="2106.25" y2="581.8" stroke="#ff8f46" stroke-dasharray="5.0 8.5" stroke-linecap="round"/>
<line x1="1883.49" y1="254.78" x2="2055.08" y2="581.8" stroke="#000"/>
<line x1="1885.67" y1="254.78" x2="1992.38" y2="581.8" stroke="#000" stroke-dasharray="5.0 8.5" stroke-linecap="round"/>
</g>
<circle cx="1902.82" cy="266.29" r="3.4" fill="#13a6a6"/>
<circle cx="1943.77" cy="285.49" r="3.4" fill="#13a6a6"/>
<circle cx="1999.55" cy="341.78" r="3.4" fill="#13a6a6"/>
<circle cx="1916.39" cy="266.29" r="2.7" fill="none" stroke="#ff8f46" stroke-width="1.8"/>
<circle cx="1999.55" cy="386.05" r="2.7" fill="none" stroke="#ff8f46" stroke-width="1.8"/>
<circle cx="1896.43" cy="266.29" r="2.7" fill="none" stroke="#000" stroke-width="1.8"/>
<polygon points="1996.05,568 2003.05,568 1999.55,573.8" fill="none" stroke="#000" stroke-width="1.6"/>
<polygon points="2106.59,566.72 2113.59,566.72 2110.09,572.52" fill="none" stroke="#000" stroke-width="1.6"/>
<polygon points="2106.59,534.73 2113.59,534.73 2110.09,540.53" fill="none" stroke="#13a6a6" stroke-width="1.6"/>
<line x1="1880.31" y1="254.78" x2="1880.31" y2="582.31" stroke="#333" stroke-width="1.5"/>
<line x1="1879.61" y1="582.31" x2="2119.05" y2="582.31" stroke="#111" stroke-width="1.5"/>
<line x1="1874.17" y1="265.78" x2="1880.31" y2="265.78" stroke="#333" stroke-width="1.3"/>
<text x="1865.77" y="272.98" font-size="21.2" text-anchor="end">0</text>
<line x1="1874.17" y1="320.8" x2="1880.31" y2="320.8" stroke="#333" stroke-width="1.3"/>
<text x="1865.77" y="328" font-size="21.2" text-anchor="end">−0.5</text>
<line x1="1874.17" y1="375.81" x2="1880.31" y2="375.81" stroke="#333" stroke-width="1.3"/>
<text x="1865.77" y="383.01" font-size="21.2" text-anchor="end">−1.0</text>
<line x1="1874.17" y1="430.57" x2="1880.31" y2="430.57" stroke="#333" stroke-width="1.3"/>
<text x="1865.77" y="437.77" font-size="21.2" text-anchor="end">−1.5</text>
<line x1="1874.17" y1="485.59" x2="1880.31" y2="485.59" stroke="#333" stroke-width="1.3"/>
<text x="1865.77" y="492.79" font-size="21.2" text-anchor="end">−2.0</text>
<line x1="1874.17" y1="540.09" x2="1880.31" y2="540.09" stroke="#333" stroke-width="1.3"/>
<text x="1865.77" y="547.29" font-size="21.2" text-anchor="end">−2.5</text>
<line x1="1889.26" y1="582.31" x2="1889.26" y2="588.81" stroke="#333" stroke-width="1.3"/>
<text x="1897.16" y="605.31" font-size="21.2" text-anchor="end" transform="rotate(-45 1897.16 605.31)">0</text>
<line x1="1932.25" y1="582.31" x2="1932.25" y2="588.81" stroke="#333" stroke-width="1.3"/>
<text x="1940.15" y="605.31" font-size="21.2" text-anchor="end" transform="rotate(-45 1940.15 605.31)">200</text>
<line x1="1975.24" y1="582.31" x2="1975.24" y2="588.81" stroke="#333" stroke-width="1.3"/>
<text x="1983.14" y="605.31" font-size="21.2" text-anchor="end" transform="rotate(-45 1983.14 605.31)">400</text>
<line x1="2018.49" y1="582.31" x2="2018.49" y2="588.81" stroke="#333" stroke-width="1.3"/>
<text x="2026.39" y="605.31" font-size="21.2" text-anchor="end" transform="rotate(-45 2026.39 605.31)">600</text>
<line x1="2061.47" y1="582.31" x2="2061.47" y2="588.81" stroke="#333" stroke-width="1.3"/>
<text x="2069.37" y="605.31" font-size="21.2" text-anchor="end" transform="rotate(-45 2069.37 605.31)">800</text>
<line x1="2104.97" y1="582.31" x2="2104.97" y2="588.81" stroke="#333" stroke-width="1.3"/>
<text x="2112.87" y="605.31" font-size="21.2" text-anchor="end" transform="rotate(-45 2112.87 605.31)">1,000</text>
<text x="2000.01" y="669.5" font-size="21.2" text-anchor="middle">Cells</text>
<text x="1807.51" y="417.05" font-size="21.2" text-anchor="middle" transform="rotate(-90 1807.51 417.05)">Log(fraction without colonies)</text>
<g fill="none" stroke="#e8121e" stroke-width="3.2" stroke-linecap="round">
<circle cx="1951.3" cy="229.7" r="5.0"/>
<line x1="1951.3" y1="236.2" x2="1951.3" y2="243.8"/>
<line x1="1946" y1="239.4" x2="1956.7" y2="239.4"/>
</g>
<text x="1972" y="242.8" font-size="21.2">PFA4</text>
<rect x="85.1" y="707.4" width="243.9" height="97.9" fill="none" stroke="#222" stroke-width="1.5"/>
<line x1="89.4" y1="720.5" x2="100.1" y2="720.5" stroke="#000" stroke-width="2.6"/>
<text x="108.3" y="726.8" font-size="21.2">Control</text>
<line x1="89.4" y1="743.9" x2="100.1" y2="743.9" stroke="#0897f0" stroke-width="2.6"/>
<text x="108.3" y="750.2" font-size="21.2">Testosterone</text>
<line x1="89.4" y1="767.3" x2="100.1" y2="767.3" stroke="#f06ad0" stroke-width="2.6"/>
<text x="108.3" y="773.6" font-size="21.2">Oestradiol</text>
<line x1="89.4" y1="790.3" x2="100.1" y2="790.3" stroke="#a660f0" stroke-width="2.6"/>
<text x="108.3" y="796.6" font-size="21.2">Progesterone</text>
<polyline points="248.2,721.7 253.2,721.7 253.2,744.5 248.2,744.5" fill="none" stroke="#222" stroke-width="1.3"/>
<text x="254.9" y="747.5" font-size="24">*</text>
<polyline points="269.6,721.7 274.6,721.7 274.6,765.2 269.6,765.2" fill="none" stroke="#222" stroke-width="1.3"/>
<text x="277.1" y="743.4" font-size="21.2" text-anchor="middle" transform="rotate(90 277.1 743.4)">NS</text>
<polyline points="295.6,721.7 300.6,721.7 300.6,790.3 295.6,790.3" fill="none" stroke="#222" stroke-width="1.3"/>
<text x="305.7" y="755.2" font-size="21.2" text-anchor="middle" transform="rotate(90 305.7 755.2)">NS</text>
<rect x="442.7" y="707.4" width="243.9" height="97.9" fill="none" stroke="#222" stroke-width="1.5"/>
<line x1="447" y1="720.5" x2="457.7" y2="720.5" stroke="#000" stroke-width="2.6"/>
<text x="465.9" y="726.8" font-size="21.2">Control</text>
<line x1="447" y1="743.9" x2="457.7" y2="743.9" stroke="#0897f0" stroke-width="2.6"/>
<text x="465.9" y="750.2" font-size="21.2">Testosterone</text>
<line x1="447" y1="767.3" x2="457.7" y2="767.3" stroke="#f06ad0" stroke-width="2.6"/>
<text x="465.9" y="773.6" font-size="21.2">Oestradiol</text>
<line x1="447" y1="790.3" x2="457.7" y2="790.3" stroke="#a660f0" stroke-width="2.6"/>
<text x="465.9" y="796.6" font-size="21.2">Progesterone</text>
<polyline points="605.8,721.7 610.8,721.7 610.8,744.5 605.8,744.5" fill="none" stroke="#222" stroke-width="1.3"/>
<text x="612.5" y="747.5" font-size="24">*</text>
<polyline points="627.2,721.7 632.2,721.7 632.2,765.2 627.2,765.2" fill="none" stroke="#222" stroke-width="1.3"/>
<text x="634.7" y="743.4" font-size="21.2" text-anchor="middle" transform="rotate(90 634.7 743.4)">NS</text>
<polyline points="653.2,721.7 658.2,721.7 658.2,790.3 653.2,790.3" fill="none" stroke="#222" stroke-width="1.3"/>
<text x="663.3" y="755.2" font-size="21.2" text-anchor="middle" transform="rotate(90 663.3 755.2)">NS</text>
<rect x="796.7" y="710.7" width="248.3" height="97.3" fill="none" stroke="#222" stroke-width="1.5"/>
<line x1="804" y1="727.1" x2="815" y2="727.1" stroke="#000" stroke-width="2.6"/>
<text x="823.3" y="733.4" font-size="21.2">Control</text>
<line x1="804" y1="757.9" x2="815" y2="757.9" stroke="#13a6a6" stroke-width="2.6"/>
<text x="823.3" y="764.2" font-size="21.2">Enzalutamide</text>
<line x1="804" y1="789.7" x2="815" y2="789.7" stroke="#ff8f46" stroke-width="2.6"/>
<text x="823.3" y="796" font-size="21.2">MTX-23</text>
<polyline points="976.5,725.8 981.5,725.8 981.5,756.8 976.5,756.8" fill="none" stroke="#222" stroke-width="1.3"/>
<text x="984.5" y="754.1" font-size="24">*</text>
<polyline points="999.6,725.8 1004.6,725.8 1004.6,789.6 999.6,789.6" fill="none" stroke="#222" stroke-width="1.3"/>
<text x="1007.3" y="770.8" font-size="24">*</text>
<rect x="1153.7" y="709" width="247.3" height="98" fill="none" stroke="#222" stroke-width="1.5"/>
<line x1="1159.3" y1="727.1" x2="1170.4" y2="727.1" stroke="#000" stroke-width="2.6"/>
<text x="1179.2" y="733.4" font-size="21.2">Control</text>
<line x1="1159.3" y1="757.9" x2="1170.4" y2="757.9" stroke="#13a6a6" stroke-width="2.6"/>
<text x="1179.2" y="764.2" font-size="21.2">Enzalutamide</text>
<line x1="1159.3" y1="789.7" x2="1170.4" y2="789.7" stroke="#ff8f46" stroke-width="2.6"/>
<text x="1179.2" y="796" font-size="21.2">MTX-23</text>
<polyline points="1333,724 1338,724 1338,755.2 1333,755.2" fill="none" stroke="#222" stroke-width="1.3"/>
<text x="1342.8" y="739.6" font-size="21.2" text-anchor="middle" transform="rotate(90 1342.8 739.6)">NS</text>
<polyline points="1360.6,724 1365.6,724 1365.6,787.6 1360.6,787.6" fill="none" stroke="#222" stroke-width="1.3"/>
<text x="1370.2" y="769.1" font-size="24">*</text>
<rect x="1513.4" y="723.4" width="243.3" height="81.9" fill="none" stroke="#222" stroke-width="1.5"/>
<line x1="1519.4" y1="736.5" x2="1530.7" y2="736.5" stroke="#000" stroke-width="2.6"/>
<text x="1538.2" y="742.8" font-size="21.2">Control</text>
<line x1="1519.4" y1="764.9" x2="1530.7" y2="764.9" stroke="#13a6a6" stroke-width="2.6"/>
<text x="1538.2" y="771.2" font-size="21.2">Enzalutamide</text>
<line x1="1519.4" y1="793.3" x2="1530.7" y2="793.3" stroke="#ff8f46" stroke-width="2.6"/>
<text x="1538.2" y="799.6" font-size="21.2">MTX-23</text>
<polyline points="1691.5,735.8 1696.5,735.8 1696.5,763.5 1691.5,763.5" fill="none" stroke="#222" stroke-width="1.3"/>
<text x="1705.4" y="752.9" font-size="24" text-anchor="middle" transform="rotate(-90 1705.4 740.6)">*</text>
<text x="1705.4" y="762.7" font-size="24" text-anchor="middle" transform="rotate(-90 1705.4 750.4)">*</text>
<text x="1705.4" y="772.9" font-size="24" text-anchor="middle" transform="rotate(-90 1705.4 760.6)">*</text>
<polyline points="1719.6,735.8 1724.6,735.8 1724.6,794.3 1719.6,794.3" fill="none" stroke="#222" stroke-width="1.3"/>
<text x="1733.4" y="767.3" font-size="24" text-anchor="middle" transform="rotate(-90 1733.4 755)">*</text>
<text x="1733.4" y="777.3" font-size="24" text-anchor="middle" transform="rotate(-90 1733.4 765)">*</text>
<text x="1733.4" y="787.9" font-size="24" text-anchor="middle" transform="rotate(-90 1733.4 775.6)">*</text>
<rect x="1872.7" y="723.4" width="243.3" height="81.9" fill="none" stroke="#222" stroke-width="1.5"/>
<line x1="1880.3" y1="736.5" x2="1891" y2="736.5" stroke="#000" stroke-width="2.6"/>
<text x="1899.2" y="742.8" font-size="21.2">Control</text>
<line x1="1880.3" y1="764.9" x2="1891" y2="764.9" stroke="#13a6a6" stroke-width="2.6"/>
<text x="1899.2" y="771.2" font-size="21.2">Enzalutamide</text>
<line x1="1880.3" y1="793.3" x2="1891" y2="793.3" stroke="#ff8f46" stroke-width="2.6"/>
<text x="1899.2" y="799.6" font-size="21.2">MTX-23</text>
<polyline points="2051.5,736 2056.5,736 2056.5,764.2 2051.5,764.2" fill="none" stroke="#222" stroke-width="1.3"/>
<text x="2059" y="764.1" font-size="24">*</text>
<polyline points="2074.9,736 2079.9,736 2079.9,794.3 2074.9,794.3" fill="none" stroke="#222" stroke-width="1.3"/>
<text x="2082.4" y="778.5" font-size="24">*</text>
<rect x="108.52" y="1047.02" width="22.07" height="112.26" fill="#838383" stroke="#000" stroke-width="1.2"/>
<rect x="141.91" y="999.43" width="22.07" height="159.85" fill="#0897f0" stroke="#000" stroke-width="1.2"/>
<rect x="174.73" y="981.58" width="22.07" height="177.7" fill="#0897f0" stroke="#000" stroke-width="1.2"/>
<rect x="207.73" y="982.73" width="22.07" height="176.55" fill="#0897f0" stroke="#000" stroke-width="1.2"/>
<rect x="240.93" y="982.73" width="22.07" height="176.55" fill="#0897f0" stroke="#000" stroke-width="1.2"/>
<rect x="274.13" y="947.04" width="22.07" height="212.24" fill="#0897f0" stroke="#000" stroke-width="1.2"/>
<line x1="119.55" y1="1039.34" x2="119.55" y2="1054.7" stroke="#111" stroke-width="1.3"/>
<line x1="113.25" y1="1039.34" x2="125.85" y2="1039.34" stroke="#111" stroke-width="1.5"/>
<line x1="113.25" y1="1054.7" x2="125.85" y2="1054.7" stroke="#111" stroke-width="1.5"/>
<line x1="152.95" y1="993.67" x2="152.95" y2="1005.19" stroke="#111" stroke-width="1.3"/>
<line x1="146.65" y1="993.67" x2="159.25" y2="993.67" stroke="#111" stroke-width="1.5"/>
<line x1="146.65" y1="1005.19" x2="159.25" y2="1005.19" stroke="#111" stroke-width="1.5"/>
<line x1="185.76" y1="955.29" x2="185.76" y2="1007.87" stroke="#111" stroke-width="1.3"/>
<line x1="179.46" y1="955.29" x2="192.06" y2="955.29" stroke="#111" stroke-width="1.5"/>
<line x1="179.46" y1="1007.87" x2="192.06" y2="1007.87" stroke="#111" stroke-width="1.5"/>
<line x1="218.77" y1="959.7" x2="218.77" y2="1005.76" stroke="#111" stroke-width="1.3"/>
<line x1="212.47" y1="959.7" x2="225.07" y2="959.7" stroke="#111" stroke-width="1.5"/>
<line x1="212.47" y1="1005.76" x2="225.07" y2="1005.76" stroke="#111" stroke-width="1.5"/>
<line x1="251.97" y1="950.88" x2="251.97" y2="1014.59" stroke="#111" stroke-width="1.3"/>
<line x1="245.67" y1="950.88" x2="258.27" y2="950.88" stroke="#111" stroke-width="1.5"/>
<line x1="245.67" y1="1014.59" x2="258.27" y2="1014.59" stroke="#111" stroke-width="1.5"/>
<line x1="285.17" y1="909.23" x2="285.17" y2="984.84" stroke="#111" stroke-width="1.3"/>
<line x1="278.87" y1="909.23" x2="291.47" y2="909.23" stroke="#111" stroke-width="1.5"/>
<line x1="278.87" y1="984.84" x2="291.47" y2="984.84" stroke="#111" stroke-width="1.5"/>
<g fill="#000">
<circle cx="113.22" cy="1042.61" r="6.2"/>
<circle cx="125.7" cy="1036.47" r="6.2"/>
<circle cx="117.44" cy="1048.75" r="6.2"/>
<circle cx="126.66" cy="1048.75" r="6.2"/>
<circle cx="119.55" cy="1061.41" r="6.2"/>
<circle cx="122.82" cy="1045.48" r="6.2"/>
<circle cx="149.68" cy="986.95" r="6.2"/>
<circle cx="155.44" cy="983.5" r="6.2"/>
<circle cx="147.76" cy="1009.02" r="6.2"/>
<circle cx="153.52" cy="1004.23" r="6.2"/>
<circle cx="159.28" cy="1005.19" r="6.2"/>
<circle cx="152.56" cy="1001.35" r="6.2"/>
<circle cx="185.76" cy="928.42" r="6.2"/>
<circle cx="180.39" cy="988.87" r="6.2"/>
<circle cx="191.9" cy="988.87" r="6.2"/>
<circle cx="179.43" cy="998.08" r="6.2"/>
<circle cx="189.02" cy="996.17" r="6.2"/>
<circle cx="184.23" cy="992.71" r="6.2"/>
<circle cx="218.77" cy="943.39" r="6.2"/>
<circle cx="218.77" cy="968.72" r="6.2"/>
<circle cx="218.77" cy="984.65" r="6.2"/>
<circle cx="213.01" cy="1002.31" r="6.2"/>
<circle cx="225.48" cy="999.43" r="6.2"/>
<circle cx="218.77" cy="995.01" r="6.2"/>
<circle cx="251.97" cy="936.1" r="6.2"/>
<circle cx="246.59" cy="963.93" r="6.2"/>
<circle cx="258.11" cy="965.85" r="6.2"/>
<circle cx="251.97" cy="999.43" r="6.2"/>
<circle cx="246.59" cy="1014.78" r="6.2"/>
<circle cx="258.11" cy="1013.44" r="6.2"/>
<circle cx="285.17" cy="891.58" r="6.2"/>
<circle cx="285.93" cy="909.23" r="6.2"/>
<circle cx="279.79" cy="956.63" r="6.2"/>
<circle cx="291.31" cy="946.66" r="6.2"/>
<circle cx="279.79" cy="993.67" r="6.2"/>
<circle cx="291.31" cy="988.87" r="6.2"/>
</g>
<line x1="105.16" y1="877.19" x2="105.16" y2="1159.28" stroke="#333" stroke-width="1.5"/>
<line x1="96.91" y1="1159.28" x2="309.35" y2="1159.28" stroke="#111" stroke-width="1.4"/>
<line x1="96.91" y1="877.19" x2="105.16" y2="877.19" stroke="#333" stroke-width="1.3"/>
<text x="88.51" y="884.39" font-size="21.2" text-anchor="end">2.5</text>
<line x1="96.91" y1="934.18" x2="105.16" y2="934.18" stroke="#333" stroke-width="1.3"/>
<text x="88.51" y="941.38" font-size="21.2" text-anchor="end">2.0</text>
<line x1="96.91" y1="990.41" x2="105.16" y2="990.41" stroke="#333" stroke-width="1.3"/>
<text x="88.51" y="997.61" font-size="21.2" text-anchor="end">1.5</text>
<line x1="96.91" y1="1046.83" x2="105.16" y2="1046.83" stroke="#333" stroke-width="1.3"/>
<text x="88.51" y="1054.03" font-size="21.2" text-anchor="end">1.0</text>
<line x1="96.91" y1="1103.06" x2="105.16" y2="1103.06" stroke="#333" stroke-width="1.3"/>
<text x="88.51" y="1110.26" font-size="21.2" text-anchor="end">0.5</text>
<line x1="96.91" y1="1159.28" x2="105.16" y2="1159.28" stroke="#333" stroke-width="1.3"/>
<text x="88.51" y="1166.48" font-size="21.2" text-anchor="end">0</text>
<line x1="119.55" y1="1159.28" x2="119.55" y2="1167.78" stroke="#333" stroke-width="1.3"/>
<line x1="152.95" y1="1159.28" x2="152.95" y2="1167.78" stroke="#333" stroke-width="1.3"/>
<line x1="185.76" y1="1159.28" x2="185.76" y2="1167.78" stroke="#333" stroke-width="1.3"/>
<line x1="218.77" y1="1159.28" x2="218.77" y2="1167.78" stroke="#333" stroke-width="1.3"/>
<line x1="251.97" y1="1159.28" x2="251.97" y2="1167.78" stroke="#333" stroke-width="1.3"/>
<line x1="285.17" y1="1159.28" x2="285.17" y2="1167.78" stroke="#333" stroke-width="1.3"/>
<polyline points="119.55,960.41 119.55,954.91 152.95,954.91 152.95,960.41" fill="none" stroke="#222" stroke-width="1.3"/>
<text x="135.55" y="961.31" font-size="25" text-anchor="middle" letter-spacing="0.6" stroke="#000" stroke-width="0.35">*</text>
<polyline points="119.55,942.56 119.55,937.06 185.76,937.06 185.76,942.56" fill="none" stroke="#222" stroke-width="1.3"/>
<text x="150.96" y="943.46" font-size="25" text-anchor="middle" letter-spacing="0.6" stroke="#000" stroke-width="0.35">**</text>
<polyline points="119.55,924.33 119.55,918.83 220.11,918.83 220.11,924.33" fill="none" stroke="#222" stroke-width="1.3"/>
<text x="168.13" y="925.23" font-size="25" text-anchor="middle" letter-spacing="0.6" stroke="#000" stroke-width="0.35">**</text>
<polyline points="119.55,904.18 119.55,898.68 252.73,898.68 252.73,904.18" fill="none" stroke="#222" stroke-width="1.3"/>
<text x="184.44" y="905.08" font-size="25" text-anchor="middle" letter-spacing="0.6" stroke="#000" stroke-width="0.35">**</text>
<polyline points="119.55,884.99 119.55,879.49 285.55,879.49 285.55,884.99" fill="none" stroke="#222" stroke-width="1.3"/>
<text x="198.85" y="885.89" font-size="25" text-anchor="middle" letter-spacing="0.6" stroke="#000" stroke-width="0.35">****</text>
<g fill="none" stroke="#0a80ef" stroke-width="3.2" stroke-linecap="round" stroke-linejoin="round">
<circle cx="126.74" cy="849" r="4.9"/>
<polyline points="129.74,844.8 133.54,835.5"/>
<polyline points="126.94,838.7 133.94,835 134.54,842.1"/>
</g>
<text x="148.94" y="854.5" font-size="21.2">PFA5</text>
<text x="44.66" y="1018.23" font-size="21.2" text-anchor="middle" transform="rotate(-90 44.66 1018.23)">Counts relative to control</text>
<text x="123.15" y="1185.88" font-size="21.2" text-anchor="end" transform="rotate(-45 123.15 1185.88)">Control</text>
<text x="156.55" y="1185.88" font-size="21.2" text-anchor="end" transform="rotate(-45 156.55 1185.88)">10 nM</text>
<text x="189.36" y="1185.88" font-size="21.2" text-anchor="end" transform="rotate(-45 189.36 1185.88)">25 nM</text>
<text x="222.37" y="1185.88" font-size="21.2" text-anchor="end" transform="rotate(-45 222.37 1185.88)">50 nM</text>
<text x="255.57" y="1185.88" font-size="21.2" text-anchor="end" transform="rotate(-45 255.57 1185.88)">100 nM</text>
<text x="288.77" y="1185.88" font-size="21.2" text-anchor="end" transform="rotate(-45 288.77 1185.88)">1 µM</text>
<text x="203.36" y="1259.5" font-size="21.2" text-anchor="middle">Testosterone concentration</text>
<rect x="457.87" y="1079.45" width="22.26" height="79.83" fill="#838383" stroke="#000" stroke-width="1.2"/>
<rect x="491.84" y="1041.26" width="22.26" height="118.02" fill="#0897f0" stroke="#000" stroke-width="1.2"/>
<rect x="525.8" y="1006.53" width="22.26" height="152.75" fill="#0897f0" stroke="#000" stroke-width="1.2"/>
<rect x="559.58" y="1035.31" width="22.26" height="123.97" fill="#0897f0" stroke="#000" stroke-width="1.2"/>
<rect x="593.54" y="1054.5" width="22.26" height="104.78" fill="#0897f0" stroke="#000" stroke-width="1.2"/>
<rect x="627.51" y="1055.08" width="22.26" height="104.2" fill="#0897f0" stroke="#000" stroke-width="1.2"/>
<line x1="469" y1="1063.72" x2="469" y2="1094.42" stroke="#111" stroke-width="1.3"/>
<line x1="462.7" y1="1063.72" x2="475.3" y2="1063.72" stroke="#111" stroke-width="1.5"/>
<line x1="462.7" y1="1094.42" x2="475.3" y2="1094.42" stroke="#111" stroke-width="1.5"/>
<line x1="502.97" y1="1031.09" x2="502.97" y2="1052.2" stroke="#111" stroke-width="1.3"/>
<line x1="496.67" y1="1031.09" x2="509.27" y2="1031.09" stroke="#111" stroke-width="1.5"/>
<line x1="496.67" y1="1052.2" x2="509.27" y2="1052.2" stroke="#111" stroke-width="1.5"/>
<line x1="536.93" y1="972.56" x2="536.93" y2="1040.69" stroke="#111" stroke-width="1.3"/>
<line x1="530.63" y1="972.56" x2="543.23" y2="972.56" stroke="#111" stroke-width="1.5"/>
<line x1="530.63" y1="1040.69" x2="543.23" y2="1040.69" stroke="#111" stroke-width="1.5"/>
<line x1="570.71" y1="1002.31" x2="570.71" y2="1059.88" stroke="#111" stroke-width="1.3"/>
<line x1="564.41" y1="1002.31" x2="577.01" y2="1002.31" stroke="#111" stroke-width="1.5"/>
<line x1="564.41" y1="1059.88" x2="577.01" y2="1059.88" stroke="#111" stroke-width="1.5"/>
<line x1="604.67" y1="1032.63" x2="604.67" y2="1076.19" stroke="#111" stroke-width="1.3"/>
<line x1="598.37" y1="1032.63" x2="610.97" y2="1032.63" stroke="#111" stroke-width="1.5"/>
<line x1="598.37" y1="1076.19" x2="610.97" y2="1076.19" stroke="#111" stroke-width="1.5"/>
<line x1="638.64" y1="1029.75" x2="638.64" y2="1080.03" stroke="#111" stroke-width="1.3"/>
<line x1="632.34" y1="1029.75" x2="644.94" y2="1029.75" stroke="#111" stroke-width="1.5"/>
<line x1="632.34" y1="1080.03" x2="644.94" y2="1080.03" stroke="#111" stroke-width="1.5"/>
<g fill="#000">
<circle cx="469.38" cy="1052.78" r="6.2"/>
<circle cx="463.63" cy="1076.76" r="6.2"/>
<circle cx="475.14" cy="1073.69" r="6.2"/>
<circle cx="469.38" cy="1086.74" r="6.2"/>
<circle cx="476.1" cy="1086.36" r="6.2"/>
<circle cx="469.38" cy="1101.14" r="6.2"/>
<circle cx="500.09" cy="1024.95" r="6.2"/>
<circle cx="506.23" cy="1023.8" r="6.2"/>
<circle cx="497.21" cy="1042.61" r="6.2"/>
<circle cx="503.93" cy="1046.44" r="6.2"/>
<circle cx="509.3" cy="1052.2" r="6.2"/>
<circle cx="497.79" cy="1056.04" r="6.2"/>
<circle cx="536.93" cy="950.49" r="6.2"/>
<circle cx="530.79" cy="992.33" r="6.2"/>
<circle cx="537.51" cy="994.63" r="6.2"/>
<circle cx="536.55" cy="1031.09" r="6.2"/>
<circle cx="531.18" cy="1038.77" r="6.2"/>
<circle cx="543.27" cy="1034.55" r="6.2"/>
<circle cx="564.95" cy="1003.84" r="6.2"/>
<circle cx="576.85" cy="1001.54" r="6.2"/>
<circle cx="564.95" cy="1035.89" r="6.2"/>
<circle cx="577.42" cy="1032.05" r="6.2"/>
<circle cx="571.09" cy="1053.16" r="6.2"/>
<circle cx="571.09" cy="1069.86" r="6.2"/>
<circle cx="604.67" cy="1016.12" r="6.2"/>
<circle cx="598.92" cy="1049.32" r="6.2"/>
<circle cx="611.39" cy="1052.2" r="6.2"/>
<circle cx="605.63" cy="1056.04" r="6.2"/>
<circle cx="599.3" cy="1065.63" r="6.2"/>
<circle cx="611.01" cy="1063.72" r="6.2"/>
<circle cx="632.88" cy="1020.54" r="6.2"/>
<circle cx="644.97" cy="1027.64" r="6.2"/>
<circle cx="644.97" cy="1058.92" r="6.2"/>
<circle cx="632.88" cy="1066.59" r="6.2"/>
<circle cx="644.97" cy="1072.35" r="6.2"/>
<circle cx="639.22" cy="1084.82" r="6.2"/>
</g>
<line x1="450.19" y1="870.85" x2="450.19" y2="1159.28" stroke="#333" stroke-width="1.5"/>
<line x1="442.52" y1="1159.28" x2="663.2" y2="1159.28" stroke="#111" stroke-width="1.4"/>
<line x1="442.52" y1="870.85" x2="450.19" y2="870.85" stroke="#333" stroke-width="1.3"/>
<text x="434.12" y="878.05" font-size="21.2" text-anchor="end">4</text>
<line x1="442.52" y1="943.2" x2="450.19" y2="943.2" stroke="#333" stroke-width="1.3"/>
<text x="434.12" y="950.4" font-size="21.2" text-anchor="end">3</text>
<line x1="442.52" y1="1015.16" x2="450.19" y2="1015.16" stroke="#333" stroke-width="1.3"/>
<text x="434.12" y="1022.36" font-size="21.2" text-anchor="end">2</text>
<line x1="442.52" y1="1087.13" x2="450.19" y2="1087.13" stroke="#333" stroke-width="1.3"/>
<text x="434.12" y="1094.33" font-size="21.2" text-anchor="end">1</text>
<line x1="442.52" y1="1159.28" x2="450.19" y2="1159.28" stroke="#333" stroke-width="1.3"/>
<text x="434.12" y="1166.48" font-size="21.2" text-anchor="end">0</text>
<line x1="469" y1="1159.28" x2="469" y2="1167.78" stroke="#333" stroke-width="1.3"/>
<line x1="502.97" y1="1159.28" x2="502.97" y2="1167.78" stroke="#333" stroke-width="1.3"/>
<line x1="536.93" y1="1159.28" x2="536.93" y2="1167.78" stroke="#333" stroke-width="1.3"/>
<line x1="570.71" y1="1159.28" x2="570.71" y2="1167.78" stroke="#333" stroke-width="1.3"/>
<line x1="604.67" y1="1159.28" x2="604.67" y2="1167.78" stroke="#333" stroke-width="1.3"/>
<line x1="638.64" y1="1159.28" x2="638.64" y2="1167.78" stroke="#333" stroke-width="1.3"/>
<polyline points="469,928.17 469,922.67 535.59,922.67 535.59,928.17" fill="none" stroke="#222" stroke-width="1.3"/>
<text x="502.6" y="927.12" font-size="25" text-anchor="middle" letter-spacing="0.6" stroke="#000" stroke-width="0.35">***</text>
<polyline points="469,900.34 469,894.84 569.17,894.84 569.17,900.34" fill="none" stroke="#222" stroke-width="1.3"/>
<text x="519.39" y="899.29" font-size="25" text-anchor="middle" letter-spacing="0.6" stroke="#000" stroke-width="0.35">*</text>
<g fill="none" stroke="#0a80ef" stroke-width="3.2" stroke-linecap="round" stroke-linejoin="round">
<circle cx="481.37" cy="849" r="4.9"/>
<polyline points="484.37,844.8 488.17,835.5"/>
<polyline points="481.57,838.7 488.57,835 489.17,842.1"/>
</g>
<text x="504.15" y="854.5" font-size="21.2">PFA7</text>
<text x="406.39" y="1015.07" font-size="21.2" text-anchor="middle" transform="rotate(-90 406.39 1015.07)">Counts relative to control</text>
<text x="472.6" y="1185.88" font-size="21.2" text-anchor="end" transform="rotate(-45 472.6 1185.88)">Control</text>
<text x="506.57" y="1185.88" font-size="21.2" text-anchor="end" transform="rotate(-45 506.57 1185.88)">10 nM</text>
<text x="540.53" y="1185.88" font-size="21.2" text-anchor="end" transform="rotate(-45 540.53 1185.88)">25 nM</text>
<text x="574.31" y="1185.88" font-size="21.2" text-anchor="end" transform="rotate(-45 574.31 1185.88)">50 nM</text>
<text x="608.27" y="1185.88" font-size="21.2" text-anchor="end" transform="rotate(-45 608.27 1185.88)">100 nM</text>
<text x="642.24" y="1185.88" font-size="21.2" text-anchor="end" transform="rotate(-45 642.24 1185.88)">1 µM</text>
<text x="554.82" y="1259.5" font-size="21.2" text-anchor="middle">Testosterone concentration</text>
<rect x="835.14" y="1024.38" width="21.88" height="134.91" fill="#838383" stroke="#000" stroke-width="1.2"/>
<rect x="866.8" y="993.67" width="21.88" height="165.61" fill="#0897f0" stroke="#000" stroke-width="1.2"/>
<rect x="898.66" y="968.15" width="21.88" height="191.13" fill="#0897f0" stroke="#000" stroke-width="1.2"/>
<rect x="930.32" y="954.33" width="21.88" height="204.95" fill="#0897f0" stroke="#000" stroke-width="1.2"/>
<rect x="961.99" y="983.5" width="21.88" height="175.78" fill="#0897f0" stroke="#000" stroke-width="1.2"/>
<rect x="994.04" y="983.12" width="21.88" height="176.17" fill="#0897f0" stroke="#000" stroke-width="1.2"/>
<line x1="846.08" y1="1011.9" x2="846.08" y2="1038.77" stroke="#111" stroke-width="1.3"/>
<line x1="839.78" y1="1011.9" x2="852.38" y2="1011.9" stroke="#111" stroke-width="1.5"/>
<line x1="839.78" y1="1038.77" x2="852.38" y2="1038.77" stroke="#111" stroke-width="1.5"/>
<line x1="877.74" y1="974.48" x2="877.74" y2="1011.9" stroke="#111" stroke-width="1.3"/>
<line x1="871.44" y1="974.48" x2="884.04" y2="974.48" stroke="#111" stroke-width="1.5"/>
<line x1="871.44" y1="1011.9" x2="884.04" y2="1011.9" stroke="#111" stroke-width="1.5"/>
<line x1="909.6" y1="929.38" x2="909.6" y2="1006.53" stroke="#111" stroke-width="1.3"/>
<line x1="903.3" y1="929.38" x2="915.9" y2="929.38" stroke="#111" stroke-width="1.5"/>
<line x1="903.3" y1="1006.53" x2="915.9" y2="1006.53" stroke="#111" stroke-width="1.5"/>
<line x1="941.26" y1="942.82" x2="941.26" y2="965.85" stroke="#111" stroke-width="1.3"/>
<line x1="934.96" y1="942.82" x2="947.56" y2="942.82" stroke="#111" stroke-width="1.5"/>
<line x1="934.96" y1="965.85" x2="947.56" y2="965.85" stroke="#111" stroke-width="1.5"/>
<line x1="972.93" y1="958.17" x2="972.93" y2="1007.1" stroke="#111" stroke-width="1.3"/>
<line x1="966.63" y1="958.17" x2="979.23" y2="958.17" stroke="#111" stroke-width="1.5"/>
<line x1="966.63" y1="1007.1" x2="979.23" y2="1007.1" stroke="#111" stroke-width="1.5"/>
<line x1="1004.97" y1="977.36" x2="1004.97" y2="988.87" stroke="#111" stroke-width="1.3"/>
<line x1="998.67" y1="977.36" x2="1011.27" y2="977.36" stroke="#111" stroke-width="1.5"/>
<line x1="998.67" y1="988.87" x2="1011.27" y2="988.87" stroke="#111" stroke-width="1.5"/>
<g fill="#000">
<circle cx="840.9" cy="1009.98" r="6.2"/>
<circle cx="852.41" cy="1011.9" r="6.2"/>
<circle cx="846.27" cy="1017.66" r="6.2"/>
<circle cx="852.41" cy="1022.46" r="6.2"/>
<circle cx="846.66" cy="1031.09" r="6.2"/>
<circle cx="846.66" cy="1051.24" r="6.2"/>
<circle cx="878.32" cy="959.7" r="6.2"/>
<circle cx="872.56" cy="988.87" r="6.2"/>
<circle cx="883.5" cy="992.14" r="6.2"/>
<circle cx="872.56" cy="1000" r="6.2"/>
<circle cx="872.56" cy="1012.86" r="6.2"/>
<circle cx="883.5" cy="1010.94" r="6.2"/>
<circle cx="904.61" cy="929.77" r="6.2"/>
<circle cx="915.74" cy="920.36" r="6.2"/>
<circle cx="909.98" cy="959.51" r="6.2"/>
<circle cx="909.98" cy="979.66" r="6.2"/>
<circle cx="915.74" cy="1005.57" r="6.2"/>
<circle cx="904.61" cy="1014.78" r="6.2"/>
<circle cx="941.65" cy="929.77" r="6.2"/>
<circle cx="941.65" cy="941.86" r="6.2"/>
<circle cx="936.27" cy="958.17" r="6.2"/>
<circle cx="947.4" cy="954.33" r="6.2"/>
<circle cx="936.27" cy="972.56" r="6.2"/>
<circle cx="947.4" cy="970.07" r="6.2"/>
<circle cx="973.31" cy="950.11" r="6.2"/>
<circle cx="968.51" cy="969.3" r="6.2"/>
<circle cx="979.07" cy="972.95" r="6.2"/>
<circle cx="973.31" cy="984.08" r="6.2"/>
<circle cx="979.07" cy="1008.45" r="6.2"/>
<circle cx="968.51" cy="1014.78" r="6.2"/>
<circle cx="1010.73" cy="970.07" r="6.2"/>
<circle cx="999.6" cy="978.32" r="6.2"/>
<circle cx="1004.97" cy="984.08" r="6.2"/>
<circle cx="1010.73" cy="984.65" r="6.2"/>
<circle cx="999.6" cy="988.49" r="6.2"/>
<circle cx="1001.14" cy="981.2" r="6.2"/>
</g>
<line x1="829.38" y1="889.08" x2="829.38" y2="1159.28" stroke="#333" stroke-width="1.5"/>
<line x1="821.32" y1="1159.28" x2="1028" y2="1159.28" stroke="#111" stroke-width="1.4"/>
<line x1="821.32" y1="889.08" x2="829.38" y2="889.08" stroke="#333" stroke-width="1.3"/>
<text x="812.92" y="896.28" font-size="21.2" text-anchor="end">2.0</text>
<line x1="821.32" y1="957.02" x2="829.38" y2="957.02" stroke="#333" stroke-width="1.3"/>
<text x="812.92" y="964.22" font-size="21.2" text-anchor="end">1.5</text>
<line x1="821.32" y1="1024.38" x2="829.38" y2="1024.38" stroke="#333" stroke-width="1.3"/>
<text x="812.92" y="1031.58" font-size="21.2" text-anchor="end">1.0</text>
<line x1="821.32" y1="1091.54" x2="829.38" y2="1091.54" stroke="#333" stroke-width="1.3"/>
<text x="812.92" y="1098.74" font-size="21.2" text-anchor="end">0.5</text>
<line x1="821.32" y1="1159.28" x2="829.38" y2="1159.28" stroke="#333" stroke-width="1.3"/>
<text x="812.92" y="1166.48" font-size="21.2" text-anchor="end">0</text>
<line x1="846.08" y1="1159.28" x2="846.08" y2="1167.78" stroke="#333" stroke-width="1.3"/>
<line x1="877.74" y1="1159.28" x2="877.74" y2="1167.78" stroke="#333" stroke-width="1.3"/>
<line x1="909.6" y1="1159.28" x2="909.6" y2="1167.78" stroke="#333" stroke-width="1.3"/>
<line x1="941.26" y1="1159.28" x2="941.26" y2="1167.78" stroke="#333" stroke-width="1.3"/>
<line x1="972.93" y1="1159.28" x2="972.93" y2="1167.78" stroke="#333" stroke-width="1.3"/>
<line x1="1004.97" y1="1159.28" x2="1004.97" y2="1167.78" stroke="#333" stroke-width="1.3"/>
<polyline points="846.08,914.16 846.08,908.66 910.56,908.66 910.56,914.16" fill="none" stroke="#222" stroke-width="1.3"/>
<text x="878.62" y="913.11" font-size="25" text-anchor="middle" letter-spacing="0.6" stroke="#000" stroke-width="0.35">**</text>
<polyline points="846.08,903.8 846.08,898.3 942.03,898.3 942.03,903.8" fill="none" stroke="#222" stroke-width="1.3"/>
<text x="894.35" y="902.75" font-size="25" text-anchor="middle" letter-spacing="0.6" stroke="#000" stroke-width="0.35">***</text>
<polyline points="846.08,893.05 846.08,887.55 973.69,887.55 973.69,893.05" fill="none" stroke="#222" stroke-width="1.3"/>
<text x="910.19" y="892" font-size="25" text-anchor="middle" letter-spacing="0.6" stroke="#000" stroke-width="0.35">*</text>
<polyline points="846.08,882.69 846.08,877.19 1008.81,877.19 1008.81,882.69" fill="none" stroke="#222" stroke-width="1.3"/>
<text x="927.75" y="881.64" font-size="25" text-anchor="middle" letter-spacing="0.6" stroke="#000" stroke-width="0.35">*</text>
<g fill="none" stroke="#0a80ef" stroke-width="3.2" stroke-linecap="round" stroke-linejoin="round">
<circle cx="848.66" cy="849" r="4.9"/>
<polyline points="851.66,844.8 855.46,835.5"/>
<polyline points="848.86,838.7 855.86,835 856.46,842.1"/>
</g>
<text x="870.86" y="854.5" font-size="21.2">PFA9</text>
<text x="768.88" y="1024.18" font-size="21.2" text-anchor="middle" transform="rotate(-90 768.88 1024.18)">Counts relative to control</text>
<text x="849.68" y="1185.88" font-size="21.2" text-anchor="end" transform="rotate(-45 849.68 1185.88)">Control</text>
<text x="881.34" y="1185.88" font-size="21.2" text-anchor="end" transform="rotate(-45 881.34 1185.88)">10 nM</text>
<text x="913.2" y="1185.88" font-size="21.2" text-anchor="end" transform="rotate(-45 913.2 1185.88)">25 nM</text>
<text x="944.86" y="1185.88" font-size="21.2" text-anchor="end" transform="rotate(-45 944.86 1185.88)">50 nM</text>
<text x="976.53" y="1185.88" font-size="21.2" text-anchor="end" transform="rotate(-45 976.53 1185.88)">100 nM</text>
<text x="1008.57" y="1185.88" font-size="21.2" text-anchor="end" transform="rotate(-45 1008.57 1185.88)">1 µM</text>
<text x="926.53" y="1259.5" font-size="21.2" text-anchor="middle">Testosterone concentration</text>
<rect x="1181.61" y="1063.72" width="22.07" height="95.57" fill="#838383" stroke="#000" stroke-width="1.2"/>
<rect x="1215.39" y="1028.21" width="22.07" height="131.07" fill="#0897f0" stroke="#000" stroke-width="1.2"/>
<rect x="1249.35" y="967.76" width="22.07" height="191.52" fill="#0897f0" stroke="#000" stroke-width="1.2"/>
<rect x="1283.32" y="983.12" width="22.07" height="176.17" fill="#0897f0" stroke="#000" stroke-width="1.2"/>
<rect x="1317.09" y="980.24" width="22.07" height="179.04" fill="#0897f0" stroke="#000" stroke-width="1.2"/>
<rect x="1351.06" y="1035.89" width="22.07" height="123.39" fill="#0897f0" stroke="#000" stroke-width="1.2"/>
<line x1="1192.65" y1="1056.04" x2="1192.65" y2="1071.39" stroke="#111" stroke-width="1.3"/>
<line x1="1186.35" y1="1056.04" x2="1198.95" y2="1056.04" stroke="#111" stroke-width="1.5"/>
<line x1="1186.35" y1="1071.39" x2="1198.95" y2="1071.39" stroke="#111" stroke-width="1.5"/>
<line x1="1226.42" y1="1012.86" x2="1226.42" y2="1043.57" stroke="#111" stroke-width="1.3"/>
<line x1="1220.12" y1="1012.86" x2="1232.72" y2="1012.86" stroke="#111" stroke-width="1.5"/>
<line x1="1220.12" y1="1043.57" x2="1232.72" y2="1043.57" stroke="#111" stroke-width="1.5"/>
<line x1="1260.39" y1="942.82" x2="1260.39" y2="992.71" stroke="#111" stroke-width="1.3"/>
<line x1="1254.09" y1="942.82" x2="1266.69" y2="942.82" stroke="#111" stroke-width="1.5"/>
<line x1="1254.09" y1="992.71" x2="1266.69" y2="992.71" stroke="#111" stroke-width="1.5"/>
<line x1="1294.35" y1="961.05" x2="1294.35" y2="1005.19" stroke="#111" stroke-width="1.3"/>
<line x1="1288.05" y1="961.05" x2="1300.65" y2="961.05" stroke="#111" stroke-width="1.5"/>
<line x1="1288.05" y1="1005.19" x2="1300.65" y2="1005.19" stroke="#111" stroke-width="1.5"/>
<line x1="1328.13" y1="958.17" x2="1328.13" y2="1002.31" stroke="#111" stroke-width="1.3"/>
<line x1="1321.83" y1="958.17" x2="1334.43" y2="958.17" stroke="#111" stroke-width="1.5"/>
<line x1="1321.83" y1="1002.31" x2="1334.43" y2="1002.31" stroke="#111" stroke-width="1.5"/>
<line x1="1362.1" y1="1021.5" x2="1362.1" y2="1050.28" stroke="#111" stroke-width="1.3"/>
<line x1="1355.8" y1="1021.5" x2="1368.4" y2="1021.5" stroke="#111" stroke-width="1.5"/>
<line x1="1355.8" y1="1050.28" x2="1368.4" y2="1050.28" stroke="#111" stroke-width="1.5"/>
<g fill="#000">
<circle cx="1190.34" cy="1053.16" r="6.2"/>
<circle cx="1184.59" cy="1057.96" r="6.2"/>
<circle cx="1198.02" cy="1057.96" r="6.2"/>
<circle cx="1194.18" cy="1071.39" r="6.2"/>
<circle cx="1190.34" cy="1078.11" r="6.2"/>
<circle cx="1193.22" cy="1059.88" r="6.2"/>
<circle cx="1226.8" cy="991.18" r="6.2"/>
<circle cx="1226.8" cy="1006.53" r="6.2"/>
<circle cx="1232.56" cy="1032.05" r="6.2"/>
<circle cx="1221.05" cy="1039.73" r="6.2"/>
<circle cx="1221.05" cy="1050.28" r="6.2"/>
<circle cx="1232.56" cy="1049.32" r="6.2"/>
<circle cx="1260.39" cy="927.08" r="6.2"/>
<circle cx="1254.63" cy="959.7" r="6.2"/>
<circle cx="1266.53" cy="959.7" r="6.2"/>
<circle cx="1254.63" cy="978.89" r="6.2"/>
<circle cx="1266.53" cy="982.73" r="6.2"/>
<circle cx="1260.39" cy="998.47" r="6.2"/>
<circle cx="1294.35" cy="938.4" r="6.2"/>
<circle cx="1289.17" cy="988.87" r="6.2"/>
<circle cx="1299.73" cy="988.87" r="6.2"/>
<circle cx="1288.21" cy="993.67" r="6.2"/>
<circle cx="1300.69" cy="997.51" r="6.2"/>
<circle cx="1294.35" cy="992.71" r="6.2"/>
<circle cx="1328.51" cy="945.31" r="6.2"/>
<circle cx="1328.51" cy="965.85" r="6.2"/>
<circle cx="1328.51" cy="979.28" r="6.2"/>
<circle cx="1322.76" cy="992.33" r="6.2"/>
<circle cx="1334.27" cy="995.01" r="6.2"/>
<circle cx="1322.76" cy="1003.27" r="6.2"/>
<circle cx="1356.34" cy="1018.62" r="6.2"/>
<circle cx="1367.85" cy="1016.7" r="6.2"/>
<circle cx="1367.85" cy="1032.05" r="6.2"/>
<circle cx="1356.34" cy="1040.69" r="6.2"/>
<circle cx="1367.85" cy="1049.32" r="6.2"/>
<circle cx="1356.34" cy="1058.53" r="6.2"/>
</g>
<line x1="1174.03" y1="870.85" x2="1174.03" y2="1159.28" stroke="#333" stroke-width="1.5"/>
<line x1="1165.78" y1="1159.28" x2="1386.66" y2="1159.28" stroke="#111" stroke-width="1.4"/>
<line x1="1165.78" y1="870.85" x2="1174.03" y2="870.85" stroke="#333" stroke-width="1.3"/>
<text x="1157.38" y="878.05" font-size="21.2" text-anchor="end">3</text>
<line x1="1165.78" y1="967.19" x2="1174.03" y2="967.19" stroke="#333" stroke-width="1.3"/>
<text x="1157.38" y="974.39" font-size="21.2" text-anchor="end">2</text>
<line x1="1165.78" y1="1063.14" x2="1174.03" y2="1063.14" stroke="#333" stroke-width="1.3"/>
<text x="1157.38" y="1070.34" font-size="21.2" text-anchor="end">1</text>
<line x1="1165.78" y1="1159.28" x2="1174.03" y2="1159.28" stroke="#333" stroke-width="1.3"/>
<text x="1157.38" y="1166.48" font-size="21.2" text-anchor="end">0</text>
<line x1="1192.65" y1="1159.28" x2="1192.65" y2="1167.78" stroke="#333" stroke-width="1.3"/>
<line x1="1226.42" y1="1159.28" x2="1226.42" y2="1167.78" stroke="#333" stroke-width="1.3"/>
<line x1="1260.39" y1="1159.28" x2="1260.39" y2="1167.78" stroke="#333" stroke-width="1.3"/>
<line x1="1294.35" y1="1159.28" x2="1294.35" y2="1167.78" stroke="#333" stroke-width="1.3"/>
<line x1="1328.13" y1="1159.28" x2="1328.13" y2="1167.78" stroke="#333" stroke-width="1.3"/>
<line x1="1362.1" y1="1159.28" x2="1362.1" y2="1167.78" stroke="#333" stroke-width="1.3"/>
<polyline points="1192.65,918 1192.65,912.5 1260.77,912.5 1260.77,918" fill="none" stroke="#222" stroke-width="1.3"/>
<text x="1227.01" y="916.95" font-size="25" text-anchor="middle" letter-spacing="0.6" stroke="#000" stroke-width="0.35">****</text>
<polyline points="1192.65,901.68 1192.65,896.18 1296.85,896.18 1296.85,901.68" fill="none" stroke="#222" stroke-width="1.3"/>
<text x="1245.05" y="900.63" font-size="25" text-anchor="middle" letter-spacing="0.6" stroke="#000" stroke-width="0.35">****</text>
<polyline points="1192.65,884.99 1192.65,879.49 1329.09,879.49 1329.09,884.99" fill="none" stroke="#222" stroke-width="1.3"/>
<text x="1261.17" y="883.94" font-size="25" text-anchor="middle" letter-spacing="0.6" stroke="#000" stroke-width="0.35">****</text>
<g fill="none" stroke="#0a80ef" stroke-width="3.2" stroke-linecap="round" stroke-linejoin="round">
<circle cx="1196.57" cy="852.5" r="4.9"/>
<polyline points="1199.57,848.3 1203.37,839"/>
<polyline points="1196.77,842.2 1203.77,838.5 1204.37,845.6"/>
</g>
<text x="1218.96" y="858" font-size="21.2">PFA15</text>
<text x="1130.23" y="1015.07" font-size="21.2" text-anchor="middle" transform="rotate(-90 1130.23 1015.07)">Counts relative to control</text>
<text x="1196.25" y="1185.88" font-size="21.2" text-anchor="end" transform="rotate(-45 1196.25 1185.88)">Control</text>
<text x="1230.02" y="1185.88" font-size="21.2" text-anchor="end" transform="rotate(-45 1230.02 1185.88)">10 nM</text>
<text x="1263.99" y="1185.88" font-size="21.2" text-anchor="end" transform="rotate(-45 1263.99 1185.88)">25 nM</text>
<text x="1297.95" y="1185.88" font-size="21.2" text-anchor="end" transform="rotate(-45 1297.95 1185.88)">50 nM</text>
<text x="1331.73" y="1185.88" font-size="21.2" text-anchor="end" transform="rotate(-45 1331.73 1185.88)">100 nM</text>
<text x="1365.7" y="1185.88" font-size="21.2" text-anchor="end" transform="rotate(-45 1365.7 1185.88)">1 µM</text>
<text x="1278.37" y="1259.5" font-size="21.2" text-anchor="middle">Testosterone concentration</text>
<rect x="1558.88" y="1024.38" width="21.3" height="134.91" fill="#838383" stroke="#000" stroke-width="1.2"/>
<rect x="1590.55" y="990.79" width="21.3" height="168.49" fill="#0897f0" stroke="#000" stroke-width="1.2"/>
<rect x="1622.21" y="986.57" width="21.3" height="172.71" fill="#0897f0" stroke="#000" stroke-width="1.2"/>
<rect x="1654.26" y="965.85" width="21.3" height="193.44" fill="#0897f0" stroke="#000" stroke-width="1.2"/>
<rect x="1685.92" y="971.6" width="21.3" height="187.68" fill="#0897f0" stroke="#000" stroke-width="1.2"/>
<rect x="1717.59" y="988.49" width="21.3" height="170.79" fill="#0897f0" stroke="#000" stroke-width="1.2"/>
<line x1="1569.53" y1="1019.58" x2="1569.53" y2="1029.17" stroke="#111" stroke-width="1.3"/>
<line x1="1563.23" y1="1019.58" x2="1575.83" y2="1019.58" stroke="#111" stroke-width="1.5"/>
<line x1="1563.23" y1="1029.17" x2="1575.83" y2="1029.17" stroke="#111" stroke-width="1.5"/>
<line x1="1601.2" y1="978.32" x2="1601.2" y2="1003.27" stroke="#111" stroke-width="1.3"/>
<line x1="1594.9" y1="978.32" x2="1607.5" y2="978.32" stroke="#111" stroke-width="1.5"/>
<line x1="1594.9" y1="1003.27" x2="1607.5" y2="1003.27" stroke="#111" stroke-width="1.5"/>
<line x1="1632.86" y1="967.38" x2="1632.86" y2="1006.14" stroke="#111" stroke-width="1.3"/>
<line x1="1626.56" y1="967.38" x2="1639.16" y2="967.38" stroke="#111" stroke-width="1.5"/>
<line x1="1626.56" y1="1006.14" x2="1639.16" y2="1006.14" stroke="#111" stroke-width="1.5"/>
<line x1="1664.91" y1="934.76" x2="1664.91" y2="996.55" stroke="#111" stroke-width="1.3"/>
<line x1="1658.61" y1="934.76" x2="1671.21" y2="934.76" stroke="#111" stroke-width="1.5"/>
<line x1="1658.61" y1="996.55" x2="1671.21" y2="996.55" stroke="#111" stroke-width="1.5"/>
<line x1="1696.57" y1="931.3" x2="1696.57" y2="1011.9" stroke="#111" stroke-width="1.3"/>
<line x1="1690.27" y1="931.3" x2="1702.87" y2="931.3" stroke="#111" stroke-width="1.5"/>
<line x1="1690.27" y1="1011.9" x2="1702.87" y2="1011.9" stroke="#111" stroke-width="1.5"/>
<line x1="1728.24" y1="972.56" x2="1728.24" y2="1003.84" stroke="#111" stroke-width="1.3"/>
<line x1="1721.94" y1="972.56" x2="1734.54" y2="972.56" stroke="#111" stroke-width="1.5"/>
<line x1="1721.94" y1="1003.84" x2="1734.54" y2="1003.84" stroke="#111" stroke-width="1.5"/>
<g fill="#000">
<circle cx="1569.53" cy="1014.78" r="6.2"/>
<circle cx="1564.74" cy="1022.46" r="6.2"/>
<circle cx="1574.33" cy="1023.42" r="6.2"/>
<circle cx="1564.74" cy="1029.17" r="6.2"/>
<circle cx="1575.29" cy="1031.09" r="6.2"/>
<circle cx="1568.57" cy="1027.25" r="6.2"/>
<circle cx="1596.4" cy="982.16" r="6.2"/>
<circle cx="1606.95" cy="973.52" r="6.2"/>
<circle cx="1596.4" cy="993.67" r="6.2"/>
<circle cx="1606.95" cy="986.57" r="6.2"/>
<circle cx="1596.4" cy="1008.45" r="6.2"/>
<circle cx="1606.95" cy="998.47" r="6.2"/>
<circle cx="1633.44" cy="957.21" r="6.2"/>
<circle cx="1628.06" cy="978.32" r="6.2"/>
<circle cx="1638.62" cy="980.81" r="6.2"/>
<circle cx="1633.44" cy="990.79" r="6.2"/>
<circle cx="1628.06" cy="1008.45" r="6.2"/>
<circle cx="1638.62" cy="1004.23" r="6.2"/>
<circle cx="1659.73" cy="955.87" r="6.2"/>
<circle cx="1670.28" cy="960.09" r="6.2"/>
<circle cx="1664.91" cy="976.4" r="6.2"/>
<circle cx="1659.73" cy="995.01" r="6.2"/>
<circle cx="1670.28" cy="995.01" r="6.2"/>
<circle cx="1664.91" cy="913.07" r="6.2"/>
<circle cx="1696.57" cy="914.03" r="6.2"/>
<circle cx="1696.57" cy="938.02" r="6.2"/>
<circle cx="1696.57" cy="962.97" r="6.2"/>
<circle cx="1691.39" cy="1007.1" r="6.2"/>
<circle cx="1697.15" cy="1003.27" r="6.2"/>
<circle cx="1701.95" cy="1005.19" r="6.2"/>
<circle cx="1733.61" cy="970.64" r="6.2"/>
<circle cx="1723.06" cy="980.81" r="6.2"/>
<circle cx="1728.43" cy="992.33" r="6.2"/>
<circle cx="1733.61" cy="989.26" r="6.2"/>
<circle cx="1728.43" cy="1014.78" r="6.2"/>
<circle cx="1723.06" cy="980.24" r="6.2"/>
</g>
<line x1="1552.84" y1="889.47" x2="1552.84" y2="1159.28" stroke="#333" stroke-width="1.5"/>
<line x1="1544.59" y1="1159.28" x2="1751.26" y2="1159.28" stroke="#111" stroke-width="1.4"/>
<line x1="1544.59" y1="889.47" x2="1552.84" y2="889.47" stroke="#333" stroke-width="1.3"/>
<text x="1536.19" y="896.67" font-size="21.2" text-anchor="end">2.0</text>
<line x1="1544.59" y1="957.02" x2="1552.84" y2="957.02" stroke="#333" stroke-width="1.3"/>
<text x="1536.19" y="964.22" font-size="21.2" text-anchor="end">1.5</text>
<line x1="1544.59" y1="1024.38" x2="1552.84" y2="1024.38" stroke="#333" stroke-width="1.3"/>
<text x="1536.19" y="1031.58" font-size="21.2" text-anchor="end">1.0</text>
<line x1="1544.59" y1="1091.54" x2="1552.84" y2="1091.54" stroke="#333" stroke-width="1.3"/>
<text x="1536.19" y="1098.74" font-size="21.2" text-anchor="end">0.5</text>
<line x1="1544.59" y1="1159.28" x2="1552.84" y2="1159.28" stroke="#333" stroke-width="1.3"/>
<text x="1536.19" y="1166.48" font-size="21.2" text-anchor="end">0</text>
<line x1="1569.53" y1="1159.28" x2="1569.53" y2="1167.78" stroke="#333" stroke-width="1.3"/>
<line x1="1601.2" y1="1159.28" x2="1601.2" y2="1167.78" stroke="#333" stroke-width="1.3"/>
<line x1="1632.86" y1="1159.28" x2="1632.86" y2="1167.78" stroke="#333" stroke-width="1.3"/>
<line x1="1664.91" y1="1159.28" x2="1664.91" y2="1167.78" stroke="#333" stroke-width="1.3"/>
<line x1="1696.57" y1="1159.28" x2="1696.57" y2="1167.78" stroke="#333" stroke-width="1.3"/>
<line x1="1728.24" y1="1159.28" x2="1728.24" y2="1167.78" stroke="#333" stroke-width="1.3"/>
<polyline points="1569.53,906.48 1569.53,900.98 1665.48,900.98 1665.48,906.48" fill="none" stroke="#222" stroke-width="1.3"/>
<text x="1617.81" y="905.43" font-size="25" text-anchor="middle" letter-spacing="0.6" stroke="#000" stroke-width="0.35">**</text>
<polyline points="1569.53,893.63 1569.53,888.13 1697.15,888.13 1697.15,893.63" fill="none" stroke="#222" stroke-width="1.3"/>
<text x="1633.64" y="892.58" font-size="25" text-anchor="middle" letter-spacing="0.6" stroke="#000" stroke-width="0.35">**</text>
<g fill="none" stroke="#e8121e" stroke-width="3.2" stroke-linecap="round">
<circle cx="1573.46" cy="841.4" r="5.0"/>
<line x1="1573.46" y1="847.9" x2="1573.46" y2="855.5"/>
<line x1="1568.16" y1="851.1" x2="1578.86" y2="851.1"/>
</g>
<text x="1595.28" y="854.5" font-size="21.2">PFA4</text>
<text x="1492.34" y="1024.38" font-size="21.2" text-anchor="middle" transform="rotate(-90 1492.34 1024.38)">Counts relative to control</text>
<text x="1573.13" y="1185.88" font-size="21.2" text-anchor="end" transform="rotate(-45 1573.13 1185.88)">Control</text>
<text x="1604.8" y="1185.88" font-size="21.2" text-anchor="end" transform="rotate(-45 1604.8 1185.88)">10 nM</text>
<text x="1636.46" y="1185.88" font-size="21.2" text-anchor="end" transform="rotate(-45 1636.46 1185.88)">25 nM</text>
<text x="1668.51" y="1185.88" font-size="21.2" text-anchor="end" transform="rotate(-45 1668.51 1185.88)">50 nM</text>
<text x="1700.17" y="1185.88" font-size="21.2" text-anchor="end" transform="rotate(-45 1700.17 1185.88)">100 nM</text>
<text x="1731.84" y="1185.88" font-size="21.2" text-anchor="end" transform="rotate(-45 1731.84 1185.88)">1 µM</text>
<text x="1649.89" y="1259.5" font-size="21.2" text-anchor="middle">Testosterone concentration</text>
<rect x="1919.55" y="1051.63" width="21.11" height="107.66" fill="#838383" stroke="#000" stroke-width="1.2"/>
<rect x="1951.22" y="1047.4" width="21.11" height="111.88" fill="#0897f0" stroke="#000" stroke-width="1.2"/>
<rect x="1982.88" y="1033.39" width="21.11" height="125.89" fill="#0897f0" stroke="#000" stroke-width="1.2"/>
<rect x="2014.93" y="991.75" width="21.11" height="167.53" fill="#0897f0" stroke="#000" stroke-width="1.2"/>
<rect x="2046.59" y="1019.58" width="21.11" height="139.7" fill="#0897f0" stroke="#000" stroke-width="1.2"/>
<rect x="2078.26" y="1053.16" width="21.11" height="106.12" fill="#0897f0" stroke="#000" stroke-width="1.2"/>
<line x1="1930.11" y1="1044.53" x2="1930.11" y2="1058.92" stroke="#111" stroke-width="1.3"/>
<line x1="1923.81" y1="1044.53" x2="1936.41" y2="1044.53" stroke="#111" stroke-width="1.5"/>
<line x1="1923.81" y1="1058.92" x2="1936.41" y2="1058.92" stroke="#111" stroke-width="1.5"/>
<line x1="1961.77" y1="1031.09" x2="1961.77" y2="1069.47" stroke="#111" stroke-width="1.3"/>
<line x1="1955.47" y1="1031.09" x2="1968.07" y2="1031.09" stroke="#111" stroke-width="1.5"/>
<line x1="1955.47" y1="1069.47" x2="1968.07" y2="1069.47" stroke="#111" stroke-width="1.5"/>
<line x1="1993.44" y1="1021.5" x2="1993.44" y2="1044.53" stroke="#111" stroke-width="1.3"/>
<line x1="1987.14" y1="1021.5" x2="1999.74" y2="1021.5" stroke="#111" stroke-width="1.5"/>
<line x1="1987.14" y1="1044.53" x2="1999.74" y2="1044.53" stroke="#111" stroke-width="1.5"/>
<line x1="2025.48" y1="955.29" x2="2025.48" y2="1028.21" stroke="#111" stroke-width="1.3"/>
<line x1="2019.18" y1="955.29" x2="2031.78" y2="955.29" stroke="#111" stroke-width="1.5"/>
<line x1="2019.18" y1="1028.21" x2="2031.78" y2="1028.21" stroke="#111" stroke-width="1.5"/>
<line x1="2057.15" y1="1011.9" x2="2057.15" y2="1031.09" stroke="#111" stroke-width="1.3"/>
<line x1="2050.85" y1="1011.9" x2="2063.45" y2="1011.9" stroke="#111" stroke-width="1.5"/>
<line x1="2050.85" y1="1031.09" x2="2063.45" y2="1031.09" stroke="#111" stroke-width="1.5"/>
<line x1="2088.81" y1="1036.85" x2="2088.81" y2="1069.47" stroke="#111" stroke-width="1.3"/>
<line x1="2082.51" y1="1036.85" x2="2095.11" y2="1036.85" stroke="#111" stroke-width="1.5"/>
<line x1="2082.51" y1="1069.47" x2="2095.11" y2="1069.47" stroke="#111" stroke-width="1.5"/>
<g fill="#000">
<circle cx="1930.49" cy="1037.81" r="6.2"/>
<circle cx="1936.63" cy="1040.69" r="6.2"/>
<circle cx="1924.74" cy="1050.28" r="6.2"/>
<circle cx="1936.63" cy="1055.08" r="6.2"/>
<circle cx="1930.49" cy="1056.04" r="6.2"/>
<circle cx="1930.49" cy="1067.55" r="6.2"/>
<circle cx="1962.16" cy="1012.86" r="6.2"/>
<circle cx="1962.16" cy="1025.72" r="6.2"/>
<circle cx="1956.4" cy="1057.96" r="6.2"/>
<circle cx="1962.16" cy="1060.84" r="6.2"/>
<circle cx="1968.49" cy="1061.8" r="6.2"/>
<circle cx="1956.4" cy="1066.59" r="6.2"/>
<circle cx="1989.98" cy="1021.11" r="6.2"/>
<circle cx="1996.7" cy="1018.62" r="6.2"/>
<circle cx="1989.02" cy="1032.05" r="6.2"/>
<circle cx="1999.58" cy="1040.69" r="6.2"/>
<circle cx="1989.02" cy="1047.4" r="6.2"/>
<circle cx="1994.78" cy="1034.93" r="6.2"/>
<circle cx="2025.48" cy="929" r="6.2"/>
<circle cx="2025.48" cy="968.72" r="6.2"/>
<circle cx="2019.73" cy="1005.19" r="6.2"/>
<circle cx="2031.24" cy="1009.02" r="6.2"/>
<circle cx="2025.48" cy="1011.9" r="6.2"/>
<circle cx="2025.48" cy="1025.72" r="6.2"/>
<circle cx="2051.39" cy="1017.27" r="6.2"/>
<circle cx="2062.91" cy="1010.56" r="6.2"/>
<circle cx="2057.15" cy="1014.78" r="6.2"/>
<circle cx="2061.95" cy="1021.11" r="6.2"/>
<circle cx="2051.39" cy="1025.72" r="6.2"/>
<circle cx="2057.15" cy="1037.81" r="6.2"/>
<circle cx="2088.81" cy="1026.68" r="6.2"/>
<circle cx="2083.63" cy="1046.44" r="6.2"/>
<circle cx="2094.19" cy="1050.28" r="6.2"/>
<circle cx="2083.63" cy="1058.92" r="6.2"/>
<circle cx="2094.19" cy="1066.21" r="6.2"/>
<circle cx="2083.63" cy="1070.43" r="6.2"/>
</g>
<line x1="1913.61" y1="889.66" x2="1913.61" y2="1159.28" stroke="#333" stroke-width="1.5"/>
<line x1="1905.55" y1="1159.28" x2="2111.84" y2="1159.28" stroke="#111" stroke-width="1.4"/>
<line x1="1905.55" y1="889.66" x2="1913.61" y2="889.66" stroke="#333" stroke-width="1.3"/>
<text x="1897.15" y="896.86" font-size="21.2" text-anchor="end">2.5</text>
<line x1="1905.55" y1="943.78" x2="1913.61" y2="943.78" stroke="#333" stroke-width="1.3"/>
<text x="1897.15" y="950.98" font-size="21.2" text-anchor="end">2.0</text>
<line x1="1905.55" y1="997.89" x2="1913.61" y2="997.89" stroke="#333" stroke-width="1.3"/>
<text x="1897.15" y="1005.09" font-size="21.2" text-anchor="end">1.5</text>
<line x1="1905.55" y1="1051.63" x2="1913.61" y2="1051.63" stroke="#333" stroke-width="1.3"/>
<text x="1897.15" y="1058.83" font-size="21.2" text-anchor="end">1.0</text>
<line x1="1905.55" y1="1105.55" x2="1913.61" y2="1105.55" stroke="#333" stroke-width="1.3"/>
<text x="1897.15" y="1112.75" font-size="21.2" text-anchor="end">0.5</text>
<line x1="1905.55" y1="1159.28" x2="1913.61" y2="1159.28" stroke="#333" stroke-width="1.3"/>
<text x="1897.15" y="1166.48" font-size="21.2" text-anchor="end">0</text>
<line x1="1930.11" y1="1159.28" x2="1930.11" y2="1167.78" stroke="#333" stroke-width="1.3"/>
<line x1="1961.77" y1="1159.28" x2="1961.77" y2="1167.78" stroke="#333" stroke-width="1.3"/>
<line x1="1993.44" y1="1159.28" x2="1993.44" y2="1167.78" stroke="#333" stroke-width="1.3"/>
<line x1="2025.48" y1="1159.28" x2="2025.48" y2="1167.78" stroke="#333" stroke-width="1.3"/>
<line x1="2057.15" y1="1159.28" x2="2057.15" y2="1167.78" stroke="#333" stroke-width="1.3"/>
<line x1="2088.81" y1="1159.28" x2="2088.81" y2="1167.78" stroke="#333" stroke-width="1.3"/>
<polyline points="1930.11,916.08 1930.11,910.58 2025.48,910.58 2025.48,916.08" fill="none" stroke="#222" stroke-width="1.3"/>
<text x="1978.1" y="915.03" font-size="25" text-anchor="middle" letter-spacing="0.6" stroke="#000" stroke-width="0.35">***</text>
<g fill="none" stroke="#e8121e" stroke-width="3.2" stroke-linecap="round">
<circle cx="1934.41" cy="841.4" r="5.0"/>
<line x1="1934.41" y1="847.9" x2="1934.41" y2="855.5"/>
<line x1="1929.11" y1="851.1" x2="1939.81" y2="851.1"/>
</g>
<text x="1955.28" y="854.5" font-size="21.2">PFA6</text>
<text x="1853.11" y="1024.47" font-size="21.2" text-anchor="middle" transform="rotate(-90 1853.11 1024.47)">Counts relative to control</text>
<text x="1933.71" y="1185.88" font-size="21.2" text-anchor="end" transform="rotate(-45 1933.71 1185.88)">Control</text>
<text x="1965.37" y="1185.88" font-size="21.2" text-anchor="end" transform="rotate(-45 1965.37 1185.88)">10 nM</text>
<text x="1997.04" y="1185.88" font-size="21.2" text-anchor="end" transform="rotate(-45 1997.04 1185.88)">25 nM</text>
<text x="2029.08" y="1185.88" font-size="21.2" text-anchor="end" transform="rotate(-45 2029.08 1185.88)">50 nM</text>
<text x="2060.75" y="1185.88" font-size="21.2" text-anchor="end" transform="rotate(-45 2060.75 1185.88)">100 nM</text>
<text x="2092.41" y="1185.88" font-size="21.2" text-anchor="end" transform="rotate(-45 2092.41 1185.88)">1 µM</text>
<text x="2010.46" y="1259.5" font-size="21.2" text-anchor="middle">Testosterone concentration</text>
<rect x="117.73" y="1410.43" width="24.76" height="179.81" fill="#838383" stroke="#000" stroke-width="1.2"/>
<rect x="155.54" y="1396.42" width="24.76" height="193.82" fill="#13a6a6" stroke="#000" stroke-width="1.2"/>
<rect x="193.34" y="1421.95" width="24.76" height="168.3" fill="#13a6a6" stroke="#000" stroke-width="1.2"/>
<rect x="230.95" y="1451.69" width="24.76" height="138.55" fill="#13a6a6" stroke="#000" stroke-width="1.2"/>
<rect x="268.76" y="1477.6" width="24.76" height="112.65" fill="#13a6a6" stroke="#000" stroke-width="1.2"/>
<line x1="130.11" y1="1397" x2="130.11" y2="1423.86" stroke="#111" stroke-width="1.3"/>
<line x1="123.81" y1="1397" x2="136.41" y2="1397" stroke="#111" stroke-width="1.5"/>
<line x1="123.81" y1="1423.86" x2="136.41" y2="1423.86" stroke="#111" stroke-width="1.5"/>
<line x1="167.91" y1="1372.63" x2="167.91" y2="1419.07" stroke="#111" stroke-width="1.3"/>
<line x1="161.61" y1="1372.63" x2="174.21" y2="1372.63" stroke="#111" stroke-width="1.5"/>
<line x1="161.61" y1="1419.07" x2="174.21" y2="1419.07" stroke="#111" stroke-width="1.5"/>
<line x1="205.72" y1="1412.93" x2="205.72" y2="1430.58" stroke="#111" stroke-width="1.3"/>
<line x1="199.42" y1="1412.93" x2="212.02" y2="1412.93" stroke="#111" stroke-width="1.5"/>
<line x1="199.42" y1="1430.58" x2="212.02" y2="1430.58" stroke="#111" stroke-width="1.5"/>
<line x1="243.33" y1="1431.16" x2="243.33" y2="1470.88" stroke="#111" stroke-width="1.3"/>
<line x1="237.03" y1="1431.16" x2="249.63" y2="1431.16" stroke="#111" stroke-width="1.5"/>
<line x1="237.03" y1="1470.88" x2="249.63" y2="1470.88" stroke="#111" stroke-width="1.5"/>
<line x1="281.14" y1="1443.63" x2="281.14" y2="1510.22" stroke="#111" stroke-width="1.3"/>
<line x1="274.84" y1="1443.63" x2="287.44" y2="1443.63" stroke="#111" stroke-width="1.5"/>
<line x1="274.84" y1="1510.22" x2="287.44" y2="1510.22" stroke="#111" stroke-width="1.5"/>
<g fill="#000">
<circle cx="120.9" cy="1403.33" r="5.5"/>
<circle cx="128.19" cy="1405.63" r="5.5"/>
<circle cx="134.33" cy="1399.88" r="5.5"/>
<circle cx="140.09" cy="1399.88" r="5.5"/>
<circle cx="130.11" cy="1422.91" r="5.5"/>
<circle cx="130.11" cy="1430.97" r="5.5"/>
<circle cx="167.91" cy="1363.8" r="5.5"/>
<circle cx="167.91" cy="1376.85" r="5.5"/>
<circle cx="167.91" cy="1387.98" r="5.5"/>
<circle cx="158.89" cy="1410.43" r="5.5"/>
<circle cx="177.51" cy="1416.19" r="5.5"/>
<circle cx="158.89" cy="1420.99" r="5.5"/>
<circle cx="205.33" cy="1406.98" r="5.5"/>
<circle cx="200.54" cy="1417.15" r="5.5"/>
<circle cx="210.13" cy="1420.99" r="5.5"/>
<circle cx="196.7" cy="1429.62" r="5.5"/>
<circle cx="214.93" cy="1429.62" r="5.5"/>
<circle cx="205.33" cy="1424.82" r="5.5"/>
<circle cx="243.33" cy="1422.91" r="5.5"/>
<circle cx="243.33" cy="1438.26" r="5.5"/>
<circle cx="234.12" cy="1451.69" r="5.5"/>
<circle cx="252.35" cy="1447.85" r="5.5"/>
<circle cx="243.33" cy="1464.16" r="5.5"/>
<circle cx="243.33" cy="1479.52" r="5.5"/>
<circle cx="272.12" cy="1441.71" r="5.5"/>
<circle cx="290.73" cy="1446.89" r="5.5"/>
<circle cx="272.12" cy="1451.69" r="5.5"/>
<circle cx="272.12" cy="1503.7" r="5.5"/>
<circle cx="290.16" cy="1507.53" r="5.5"/>
<circle cx="272.12" cy="1510.41" r="5.5"/>
</g>
<line x1="105.16" y1="1319.85" x2="105.16" y2="1590.24" stroke="#333" stroke-width="1.5"/>
<line x1="96.91" y1="1590.24" x2="309.15" y2="1590.24" stroke="#111" stroke-width="1.4"/>
<line x1="96.91" y1="1319.85" x2="105.16" y2="1319.85" stroke="#333" stroke-width="1.3"/>
<text x="88.51" y="1327.05" font-size="21.2" text-anchor="end">1.5</text>
<line x1="96.91" y1="1410.43" x2="105.16" y2="1410.43" stroke="#333" stroke-width="1.3"/>
<text x="88.51" y="1417.63" font-size="21.2" text-anchor="end">1.0</text>
<line x1="96.91" y1="1500.63" x2="105.16" y2="1500.63" stroke="#333" stroke-width="1.3"/>
<text x="88.51" y="1507.83" font-size="21.2" text-anchor="end">0.5</text>
<line x1="96.91" y1="1590.24" x2="105.16" y2="1590.24" stroke="#333" stroke-width="1.3"/>
<text x="88.51" y="1597.44" font-size="21.2" text-anchor="end">0</text>
<line x1="130.11" y1="1590.24" x2="130.11" y2="1598.74" stroke="#333" stroke-width="1.3"/>
<line x1="167.91" y1="1590.24" x2="167.91" y2="1598.74" stroke="#333" stroke-width="1.3"/>
<line x1="205.72" y1="1590.24" x2="205.72" y2="1598.74" stroke="#333" stroke-width="1.3"/>
<line x1="243.33" y1="1590.24" x2="243.33" y2="1598.74" stroke="#333" stroke-width="1.3"/>
<line x1="281.14" y1="1590.24" x2="281.14" y2="1598.74" stroke="#333" stroke-width="1.3"/>
<polyline points="130.11,1361.24 130.11,1355.74 244.1,1355.74 244.1,1361.24" fill="none" stroke="#222" stroke-width="1.3"/>
<text x="187.4" y="1360.19" font-size="25" text-anchor="middle" letter-spacing="0.6" stroke="#000" stroke-width="0.35">*</text>
<polyline points="130.11,1341.67 130.11,1336.17 281.14,1336.17 281.14,1341.67" fill="none" stroke="#222" stroke-width="1.3"/>
<text x="205.92" y="1340.62" font-size="25" text-anchor="middle" letter-spacing="0.6" stroke="#000" stroke-width="0.35">***</text>
<g fill="none" stroke="#0a80ef" stroke-width="3.2" stroke-linecap="round" stroke-linejoin="round">
<circle cx="139.21" cy="1301.5" r="4.9"/>
<polyline points="142.21,1297.3 146.01,1288"/>
<polyline points="139.41,1291.2 146.41,1287.5 147.01,1294.6"/>
</g>
<text x="162.38" y="1307" font-size="21.2">PFA5</text>
<text x="44.66" y="1455.05" font-size="21.2" text-anchor="middle" transform="rotate(-90 44.66 1455.05)">Counts relative to control</text>
<text x="147.51" y="1622.3" font-size="21.2" text-anchor="end">Control</text>
<text x="167.91" y="1622.3" font-size="21.2" text-anchor="middle">2.5</text>
<text x="205.72" y="1622.3" font-size="21.2" text-anchor="middle">5</text>
<text x="243.33" y="1622.3" font-size="21.2" text-anchor="middle">10</text>
<text x="281.14" y="1622.3" font-size="21.2" text-anchor="middle">20</text>
<text x="206.12" y="1653.6" font-size="21.2" text-anchor="middle">Enzalutamide concentration (µM)</text>
<rect x="462.61" y="1410.67" width="25.73" height="179.7" fill="#838383" stroke="#000" stroke-width="1.2"/>
<rect x="500.09" y="1463.35" width="25.73" height="127.03" fill="#13a6a6" stroke="#000" stroke-width="1.2"/>
<rect x="537.78" y="1491.71" width="25.73" height="98.66" fill="#13a6a6" stroke="#000" stroke-width="1.2"/>
<rect x="575.46" y="1491.71" width="25.73" height="98.66" fill="#13a6a6" stroke="#000" stroke-width="1.2"/>
<rect x="612.94" y="1510.55" width="25.73" height="79.82" fill="#13a6a6" stroke="#000" stroke-width="1.2"/>
<line x1="475.48" y1="1393.45" x2="475.48" y2="1427.49" stroke="#111" stroke-width="1.3"/>
<line x1="469.18" y1="1393.45" x2="481.78" y2="1393.45" stroke="#111" stroke-width="1.5"/>
<line x1="469.18" y1="1427.49" x2="481.78" y2="1427.49" stroke="#111" stroke-width="1.5"/>
<line x1="512.96" y1="1440.05" x2="512.96" y2="1485.63" stroke="#111" stroke-width="1.3"/>
<line x1="506.66" y1="1440.05" x2="519.26" y2="1440.05" stroke="#111" stroke-width="1.5"/>
<line x1="506.66" y1="1485.63" x2="519.26" y2="1485.63" stroke="#111" stroke-width="1.5"/>
<line x1="550.64" y1="1465.98" x2="550.64" y2="1517.03" stroke="#111" stroke-width="1.3"/>
<line x1="544.34" y1="1465.98" x2="556.94" y2="1465.98" stroke="#111" stroke-width="1.5"/>
<line x1="544.34" y1="1517.03" x2="556.94" y2="1517.03" stroke="#111" stroke-width="1.5"/>
<line x1="588.32" y1="1472.46" x2="588.32" y2="1508.93" stroke="#111" stroke-width="1.3"/>
<line x1="582.02" y1="1472.46" x2="594.62" y2="1472.46" stroke="#111" stroke-width="1.5"/>
<line x1="582.02" y1="1508.93" x2="594.62" y2="1508.93" stroke="#111" stroke-width="1.5"/>
<line x1="625.8" y1="1482.59" x2="625.8" y2="1538.31" stroke="#111" stroke-width="1.3"/>
<line x1="619.5" y1="1482.59" x2="632.1" y2="1482.59" stroke="#111" stroke-width="1.5"/>
<line x1="619.5" y1="1538.31" x2="632.1" y2="1538.31" stroke="#111" stroke-width="1.5"/>
<g fill="#000">
<circle cx="475.48" cy="1391.02" r="5.5"/>
<circle cx="465.75" cy="1401.56" r="5.5"/>
<circle cx="485.2" cy="1401.56" r="5.5"/>
<circle cx="475.48" cy="1410.67" r="5.5"/>
<circle cx="475.48" cy="1419.79" r="5.5"/>
<circle cx="475.48" cy="1439.04" r="5.5"/>
<circle cx="512.96" cy="1433.97" r="5.5"/>
<circle cx="512.96" cy="1448.15" r="5.5"/>
<circle cx="503.84" cy="1462.33" r="5.5"/>
<circle cx="522.07" cy="1457.27" r="5.5"/>
<circle cx="512.96" cy="1475.5" r="5.5"/>
<circle cx="512.96" cy="1498.8" r="5.5"/>
<circle cx="550.64" cy="1461.32" r="5.5"/>
<circle cx="550.64" cy="1467.4" r="5.5"/>
<circle cx="550.64" cy="1481.58" r="5.5"/>
<circle cx="550.64" cy="1503.87" r="5.5"/>
<circle cx="550.64" cy="1517.03" r="5.5"/>
<circle cx="550.64" cy="1522.1" r="5.5"/>
<circle cx="579.21" cy="1471.45" r="5.5"/>
<circle cx="598.05" cy="1468.41" r="5.5"/>
<circle cx="579.21" cy="1492.72" r="5.5"/>
<circle cx="598.05" cy="1492.72" r="5.5"/>
<circle cx="588.32" cy="1504.88" r="5.5"/>
<circle cx="588.32" cy="1511.97" r="5.5"/>
<circle cx="616.89" cy="1482.59" r="5.5"/>
<circle cx="635.12" cy="1482.59" r="5.5"/>
<circle cx="625.8" cy="1496.77" r="5.5"/>
<circle cx="625.8" cy="1512.98" r="5.5"/>
<circle cx="616.89" cy="1545.4" r="5.5"/>
<circle cx="635.12" cy="1540.33" r="5.5"/>
</g>
<line x1="449.75" y1="1320.11" x2="449.75" y2="1590.37" stroke="#333" stroke-width="1.5"/>
<line x1="441.04" y1="1590.37" x2="652.75" y2="1590.37" stroke="#111" stroke-width="1.4"/>
<line x1="441.04" y1="1320.11" x2="449.75" y2="1320.11" stroke="#333" stroke-width="1.3"/>
<text x="432.64" y="1327.31" font-size="21.2" text-anchor="end">1.5</text>
<line x1="441.04" y1="1410.67" x2="449.75" y2="1410.67" stroke="#333" stroke-width="1.3"/>
<text x="432.64" y="1417.87" font-size="21.2" text-anchor="end">1.0</text>
<line x1="441.04" y1="1500.83" x2="449.75" y2="1500.83" stroke="#333" stroke-width="1.3"/>
<text x="432.64" y="1508.03" font-size="21.2" text-anchor="end">0.5</text>
<line x1="441.04" y1="1590.37" x2="449.75" y2="1590.37" stroke="#333" stroke-width="1.3"/>
<text x="432.64" y="1597.57" font-size="21.2" text-anchor="end">0</text>
<line x1="475.48" y1="1590.37" x2="475.48" y2="1598.87" stroke="#333" stroke-width="1.3"/>
<line x1="512.96" y1="1590.37" x2="512.96" y2="1598.87" stroke="#333" stroke-width="1.3"/>
<line x1="550.64" y1="1590.37" x2="550.64" y2="1598.87" stroke="#333" stroke-width="1.3"/>
<line x1="588.32" y1="1590.37" x2="588.32" y2="1598.87" stroke="#333" stroke-width="1.3"/>
<line x1="625.8" y1="1590.37" x2="625.8" y2="1598.87" stroke="#333" stroke-width="1.3"/>
<polyline points="475.48,1383.35 475.48,1377.85 512.96,1377.85 512.96,1383.35" fill="none" stroke="#222" stroke-width="1.3"/>
<text x="494.52" y="1382.3" font-size="25" text-anchor="middle" letter-spacing="0.6" stroke="#000" stroke-width="0.35">**</text>
<polyline points="475.48,1370.18 475.48,1364.68 550.44,1364.68 550.44,1370.18" fill="none" stroke="#222" stroke-width="1.3"/>
<text x="513.26" y="1369.13" font-size="25" text-anchor="middle" letter-spacing="0.6" stroke="#000" stroke-width="0.35">****</text>
<polyline points="475.48,1356 475.48,1350.5 587.92,1350.5 587.92,1356" fill="none" stroke="#222" stroke-width="1.3"/>
<text x="532" y="1354.95" font-size="25" text-anchor="middle" letter-spacing="0.6" stroke="#000" stroke-width="0.35">****</text>
<polyline points="475.48,1341.21 475.48,1335.71 624.79,1335.71 624.79,1341.21" fill="none" stroke="#222" stroke-width="1.3"/>
<text x="550.43" y="1340.16" font-size="25" text-anchor="middle" letter-spacing="0.6" stroke="#000" stroke-width="0.35">****</text>
<g fill="none" stroke="#0a80ef" stroke-width="3.2" stroke-linecap="round" stroke-linejoin="round">
<circle cx="485.32" cy="1301.5" r="4.9"/>
<polyline points="488.32,1297.3 492.12,1288"/>
<polyline points="485.52,1291.2 492.52,1287.5 493.12,1294.6"/>
</g>
<text x="507.81" y="1307" font-size="21.2">PFA7</text>
<text x="389.25" y="1455.24" font-size="21.2" text-anchor="middle" transform="rotate(-90 389.25 1455.24)">Counts relative to control</text>
<text x="492.88" y="1622.3" font-size="21.2" text-anchor="end">Control</text>
<text x="512.96" y="1622.3" font-size="21.2" text-anchor="middle">2.5</text>
<text x="550.64" y="1622.3" font-size="21.2" text-anchor="middle">5</text>
<text x="588.32" y="1622.3" font-size="21.2" text-anchor="middle">10</text>
<text x="625.8" y="1622.3" font-size="21.2" text-anchor="middle">20</text>
<text x="551.14" y="1653.6" font-size="21.2" text-anchor="middle">Enzalutamide concentration (µM)</text>
<rect x="841.45" y="1411.28" width="25.32" height="179.09" fill="#838383" stroke="#000" stroke-width="1.2"/>
<rect x="879.54" y="1453.22" width="25.32" height="137.16" fill="#13a6a6" stroke="#000" stroke-width="1.2"/>
<rect x="917.02" y="1483.2" width="25.32" height="107.17" fill="#13a6a6" stroke="#000" stroke-width="1.2"/>
<rect x="954.91" y="1494.75" width="25.32" height="95.62" fill="#13a6a6" stroke="#000" stroke-width="1.2"/>
<rect x="992.59" y="1507.51" width="25.32" height="82.86" fill="#13a6a6" stroke="#000" stroke-width="1.2"/>
<line x1="854.12" y1="1392.44" x2="854.12" y2="1429.92" stroke="#111" stroke-width="1.3"/>
<line x1="847.82" y1="1392.44" x2="860.42" y2="1392.44" stroke="#111" stroke-width="1.5"/>
<line x1="847.82" y1="1429.92" x2="860.42" y2="1429.92" stroke="#111" stroke-width="1.5"/>
<line x1="892.2" y1="1443.09" x2="892.2" y2="1462.33" stroke="#111" stroke-width="1.3"/>
<line x1="885.9" y1="1443.09" x2="898.5" y2="1443.09" stroke="#111" stroke-width="1.5"/>
<line x1="885.9" y1="1462.33" x2="898.5" y2="1462.33" stroke="#111" stroke-width="1.5"/>
<line x1="929.68" y1="1452.61" x2="929.68" y2="1512.98" stroke="#111" stroke-width="1.3"/>
<line x1="923.38" y1="1452.61" x2="935.98" y2="1452.61" stroke="#111" stroke-width="1.5"/>
<line x1="923.38" y1="1512.98" x2="935.98" y2="1512.98" stroke="#111" stroke-width="1.5"/>
<line x1="967.57" y1="1452.61" x2="967.57" y2="1536.28" stroke="#111" stroke-width="1.3"/>
<line x1="961.27" y1="1452.61" x2="973.87" y2="1452.61" stroke="#111" stroke-width="1.5"/>
<line x1="961.27" y1="1536.28" x2="973.87" y2="1536.28" stroke="#111" stroke-width="1.5"/>
<line x1="1005.25" y1="1476.11" x2="1005.25" y2="1538.31" stroke="#111" stroke-width="1.3"/>
<line x1="998.95" y1="1476.11" x2="1011.55" y2="1476.11" stroke="#111" stroke-width="1.5"/>
<line x1="998.95" y1="1538.31" x2="1011.55" y2="1538.31" stroke="#111" stroke-width="1.5"/>
<g fill="#000">
<circle cx="854.12" cy="1385.35" r="5.5"/>
<circle cx="854.12" cy="1392.44" r="5.5"/>
<circle cx="854.12" cy="1412.7" r="5.5"/>
<circle cx="844.59" cy="1421.82" r="5.5"/>
<circle cx="863.84" cy="1423.44" r="5.5"/>
<circle cx="854.12" cy="1432.96" r="5.5"/>
<circle cx="892.2" cy="1439.04" r="5.5"/>
<circle cx="883.09" cy="1447.14" r="5.5"/>
<circle cx="901.32" cy="1450.18" r="5.5"/>
<circle cx="883.09" cy="1453.82" r="5.5"/>
<circle cx="901.32" cy="1459.29" r="5.5"/>
<circle cx="892.2" cy="1465.37" r="5.5"/>
<circle cx="929.68" cy="1442.48" r="5.5"/>
<circle cx="929.68" cy="1456.26" r="5.5"/>
<circle cx="929.68" cy="1470.44" r="5.5"/>
<circle cx="920.57" cy="1510.96" r="5.5"/>
<circle cx="929.68" cy="1507.92" r="5.5"/>
<circle cx="938.8" cy="1509.94" r="5.5"/>
<circle cx="958.65" cy="1456.26" r="5.5"/>
<circle cx="976.89" cy="1453.82" r="5.5"/>
<circle cx="976.89" cy="1460.92" r="5.5"/>
<circle cx="967.57" cy="1524.12" r="5.5"/>
<circle cx="967.57" cy="1531.62" r="5.5"/>
<circle cx="967.57" cy="1541.75" r="5.5"/>
<circle cx="995.93" cy="1476.11" r="5.5"/>
<circle cx="1014.77" cy="1478.95" r="5.5"/>
<circle cx="1005.25" cy="1482.59" r="5.5"/>
<circle cx="995.93" cy="1538.31" r="5.5"/>
<circle cx="1005.25" cy="1533.24" r="5.5"/>
<circle cx="1014.77" cy="1534.86" r="5.5"/>
</g>
<line x1="829.4" y1="1320.52" x2="829.4" y2="1590.37" stroke="#333" stroke-width="1.5"/>
<line x1="820.28" y1="1590.37" x2="1031.59" y2="1590.37" stroke="#111" stroke-width="1.4"/>
<line x1="820.28" y1="1320.52" x2="829.4" y2="1320.52" stroke="#333" stroke-width="1.3"/>
<text x="811.88" y="1327.72" font-size="21.2" text-anchor="end">1.5</text>
<line x1="820.28" y1="1410.67" x2="829.4" y2="1410.67" stroke="#333" stroke-width="1.3"/>
<text x="811.88" y="1417.87" font-size="21.2" text-anchor="end">1.0</text>
<line x1="820.28" y1="1500.83" x2="829.4" y2="1500.83" stroke="#333" stroke-width="1.3"/>
<text x="811.88" y="1508.03" font-size="21.2" text-anchor="end">0.5</text>
<line x1="820.28" y1="1590.37" x2="829.4" y2="1590.37" stroke="#333" stroke-width="1.3"/>
<text x="811.88" y="1597.57" font-size="21.2" text-anchor="end">0</text>
<line x1="854.12" y1="1590.37" x2="854.12" y2="1598.87" stroke="#333" stroke-width="1.3"/>
<line x1="892.2" y1="1590.37" x2="892.2" y2="1598.87" stroke="#333" stroke-width="1.3"/>
<line x1="929.68" y1="1590.37" x2="929.68" y2="1598.87" stroke="#333" stroke-width="1.3"/>
<line x1="967.57" y1="1590.37" x2="967.57" y2="1598.87" stroke="#333" stroke-width="1.3"/>
<line x1="1005.25" y1="1590.37" x2="1005.25" y2="1598.87" stroke="#333" stroke-width="1.3"/>
<polyline points="854.12,1377.07 854.12,1371.57 928.67,1371.57 928.67,1377.07" fill="none" stroke="#222" stroke-width="1.3"/>
<text x="891.69" y="1376.02" font-size="25" text-anchor="middle" letter-spacing="0.6" stroke="#000" stroke-width="0.35">**</text>
<polyline points="854.12,1360.46 854.12,1354.96 967.57,1354.96 967.57,1360.46" fill="none" stroke="#222" stroke-width="1.3"/>
<text x="911.14" y="1359.41" font-size="25" text-anchor="middle" letter-spacing="0.6" stroke="#000" stroke-width="0.35">***</text>
<polyline points="854.12,1345.67 854.12,1340.17 1005.66,1340.17 1005.66,1345.67" fill="none" stroke="#222" stroke-width="1.3"/>
<text x="930.19" y="1344.62" font-size="25" text-anchor="middle" letter-spacing="0.6" stroke="#000" stroke-width="0.35">****</text>
<g fill="none" stroke="#0a80ef" stroke-width="3.2" stroke-linecap="round" stroke-linejoin="round">
<circle cx="859.5" cy="1301.5" r="4.9"/>
<polyline points="862.5,1297.3 866.3,1288"/>
<polyline points="859.7,1291.2 866.7,1287.5 867.3,1294.6"/>
</g>
<text x="883.41" y="1307" font-size="21.2">PFA9</text>
<text x="768.9" y="1455.45" font-size="21.2" text-anchor="middle" transform="rotate(-90 768.9 1455.45)">Counts relative to control</text>
<text x="871.52" y="1622.3" font-size="21.2" text-anchor="end">Control</text>
<text x="892.2" y="1622.3" font-size="21.2" text-anchor="middle">2.5</text>
<text x="929.68" y="1622.3" font-size="21.2" text-anchor="middle">5</text>
<text x="967.57" y="1622.3" font-size="21.2" text-anchor="middle">10</text>
<text x="1005.25" y="1622.3" font-size="21.2" text-anchor="middle">20</text>
<text x="930.18" y="1653.6" font-size="21.2" text-anchor="middle">Enzalutamide concentration (µM)</text>
<rect x="1186.26" y="1410.67" width="25.32" height="179.7" fill="#838383" stroke="#000" stroke-width="1.2"/>
<rect x="1223.94" y="1437.62" width="25.32" height="152.76" fill="#13a6a6" stroke="#000" stroke-width="1.2"/>
<rect x="1261.42" y="1445.11" width="25.32" height="145.26" fill="#13a6a6" stroke="#000" stroke-width="1.2"/>
<rect x="1299.31" y="1445.11" width="25.32" height="145.26" fill="#13a6a6" stroke="#000" stroke-width="1.2"/>
<rect x="1337.19" y="1482.19" width="25.32" height="108.18" fill="#13a6a6" stroke="#000" stroke-width="1.2"/>
<line x1="1198.92" y1="1397.5" x2="1198.92" y2="1423.44" stroke="#111" stroke-width="1.3"/>
<line x1="1192.62" y1="1397.5" x2="1205.22" y2="1397.5" stroke="#111" stroke-width="1.5"/>
<line x1="1192.62" y1="1423.44" x2="1205.22" y2="1423.44" stroke="#111" stroke-width="1.5"/>
<line x1="1236.6" y1="1412.7" x2="1236.6" y2="1462.74" stroke="#111" stroke-width="1.3"/>
<line x1="1230.3" y1="1412.7" x2="1242.9" y2="1412.7" stroke="#111" stroke-width="1.5"/>
<line x1="1230.3" y1="1462.74" x2="1242.9" y2="1462.74" stroke="#111" stroke-width="1.5"/>
<line x1="1274.08" y1="1428.5" x2="1274.08" y2="1458.28" stroke="#111" stroke-width="1.3"/>
<line x1="1267.78" y1="1428.5" x2="1280.38" y2="1428.5" stroke="#111" stroke-width="1.5"/>
<line x1="1267.78" y1="1458.28" x2="1280.38" y2="1458.28" stroke="#111" stroke-width="1.5"/>
<line x1="1311.97" y1="1432.35" x2="1311.97" y2="1457.27" stroke="#111" stroke-width="1.3"/>
<line x1="1305.67" y1="1432.35" x2="1318.27" y2="1432.35" stroke="#111" stroke-width="1.5"/>
<line x1="1305.67" y1="1457.27" x2="1318.27" y2="1457.27" stroke="#111" stroke-width="1.5"/>
<line x1="1349.85" y1="1470.03" x2="1349.85" y2="1497.38" stroke="#111" stroke-width="1.3"/>
<line x1="1343.55" y1="1470.03" x2="1356.15" y2="1470.03" stroke="#111" stroke-width="1.5"/>
<line x1="1343.55" y1="1497.38" x2="1356.15" y2="1497.38" stroke="#111" stroke-width="1.5"/>
<g fill="#000">
<circle cx="1198.92" cy="1391.02" r="5.5"/>
<circle cx="1189.4" cy="1409.05" r="5.5"/>
<circle cx="1198.92" cy="1403.99" r="5.5"/>
<circle cx="1208.65" cy="1410.67" r="5.5"/>
<circle cx="1198.92" cy="1417.76" r="5.5"/>
<circle cx="1198.92" cy="1427.89" r="5.5"/>
<circle cx="1236.6" cy="1401.56" r="5.5"/>
<circle cx="1226.88" cy="1425.46" r="5.5"/>
<circle cx="1246.13" cy="1426.88" r="5.5"/>
<circle cx="1226.88" cy="1448.56" r="5.5"/>
<circle cx="1246.13" cy="1448.56" r="5.5"/>
<circle cx="1236.6" cy="1473.48" r="5.5"/>
<circle cx="1274.08" cy="1419.38" r="5.5"/>
<circle cx="1264.36" cy="1439.64" r="5.5"/>
<circle cx="1274.08" cy="1440.05" r="5.5"/>
<circle cx="1283.61" cy="1441.06" r="5.5"/>
<circle cx="1269.42" cy="1459.29" r="5.5"/>
<circle cx="1278.95" cy="1455.85" r="5.5"/>
<circle cx="1302.85" cy="1431.94" r="5.5"/>
<circle cx="1321.49" cy="1431.94" r="5.5"/>
<circle cx="1311.97" cy="1441.06" r="5.5"/>
<circle cx="1302.85" cy="1447.75" r="5.5"/>
<circle cx="1321.49" cy="1453.22" r="5.5"/>
<circle cx="1311.97" cy="1462.33" r="5.5"/>
<circle cx="1349.85" cy="1464.76" r="5.5"/>
<circle cx="1340.33" cy="1474.08" r="5.5"/>
<circle cx="1359.58" cy="1477.53" r="5.5"/>
<circle cx="1340.33" cy="1482.59" r="5.5"/>
<circle cx="1359.58" cy="1486.24" r="5.5"/>
<circle cx="1349.85" cy="1509.34" r="5.5"/>
</g>
<line x1="1173.6" y1="1320.11" x2="1173.6" y2="1590.37" stroke="#333" stroke-width="1.5"/>
<line x1="1164.68" y1="1590.37" x2="1376.8" y2="1590.37" stroke="#111" stroke-width="1.4"/>
<line x1="1164.68" y1="1320.11" x2="1173.6" y2="1320.11" stroke="#333" stroke-width="1.3"/>
<text x="1156.28" y="1327.31" font-size="21.2" text-anchor="end">1.5</text>
<line x1="1164.68" y1="1410.67" x2="1173.6" y2="1410.67" stroke="#333" stroke-width="1.3"/>
<text x="1156.28" y="1417.87" font-size="21.2" text-anchor="end">1.0</text>
<line x1="1164.68" y1="1500.83" x2="1173.6" y2="1500.83" stroke="#333" stroke-width="1.3"/>
<text x="1156.28" y="1508.03" font-size="21.2" text-anchor="end">0.5</text>
<line x1="1164.68" y1="1590.37" x2="1173.6" y2="1590.37" stroke="#333" stroke-width="1.3"/>
<text x="1156.28" y="1597.57" font-size="21.2" text-anchor="end">0</text>
<line x1="1198.92" y1="1590.37" x2="1198.92" y2="1598.87" stroke="#333" stroke-width="1.3"/>
<line x1="1236.6" y1="1590.37" x2="1236.6" y2="1598.87" stroke="#333" stroke-width="1.3"/>
<line x1="1274.08" y1="1590.37" x2="1274.08" y2="1598.87" stroke="#333" stroke-width="1.3"/>
<line x1="1311.97" y1="1590.37" x2="1311.97" y2="1598.87" stroke="#333" stroke-width="1.3"/>
<line x1="1349.85" y1="1590.37" x2="1349.85" y2="1598.87" stroke="#333" stroke-width="1.3"/>
<polyline points="1198.92,1378.69 1198.92,1373.19 1274.08,1373.19 1274.08,1378.69" fill="none" stroke="#222" stroke-width="1.3"/>
<text x="1236.8" y="1377.64" font-size="25" text-anchor="middle" letter-spacing="0.6" stroke="#000" stroke-width="0.35">*</text>
<polyline points="1198.92,1362.89 1198.92,1357.39 1311.97,1357.39 1311.97,1362.89" fill="none" stroke="#222" stroke-width="1.3"/>
<text x="1255.75" y="1361.84" font-size="25" text-anchor="middle" letter-spacing="0.6" stroke="#000" stroke-width="0.35">**</text>
<polyline points="1198.92,1347.29 1198.92,1341.79 1349.85,1341.79 1349.85,1347.29" fill="none" stroke="#222" stroke-width="1.3"/>
<text x="1274.69" y="1346.24" font-size="25" text-anchor="middle" letter-spacing="0.6" stroke="#000" stroke-width="0.35">****</text>
<g fill="none" stroke="#0a80ef" stroke-width="3.2" stroke-linecap="round" stroke-linejoin="round">
<circle cx="1200.25" cy="1301.5" r="4.9"/>
<polyline points="1203.25,1297.3 1207.05,1288"/>
<polyline points="1200.45,1291.2 1207.45,1287.5 1208.05,1294.6"/>
</g>
<text x="1221.74" y="1307" font-size="21.2">PFA15</text>
<text x="1113.1" y="1455.24" font-size="21.2" text-anchor="middle" transform="rotate(-90 1113.1 1455.24)">Counts relative to control</text>
<text x="1216.32" y="1622.3" font-size="21.2" text-anchor="end">Control</text>
<text x="1236.6" y="1622.3" font-size="21.2" text-anchor="middle">2.5</text>
<text x="1274.08" y="1622.3" font-size="21.2" text-anchor="middle">5</text>
<text x="1311.97" y="1622.3" font-size="21.2" text-anchor="middle">10</text>
<text x="1349.85" y="1622.3" font-size="21.2" text-anchor="middle">20</text>
<text x="1274.89" y="1653.6" font-size="21.2" text-anchor="middle">Enzalutamide concentration (µM)</text>
<rect x="1565.1" y="1411.28" width="25.32" height="179.09" fill="#838383" stroke="#000" stroke-width="1.2"/>
<rect x="1602.58" y="1439.04" width="25.32" height="151.34" fill="#13a6a6" stroke="#000" stroke-width="1.2"/>
<rect x="1640.47" y="1464.76" width="25.32" height="125.61" fill="#13a6a6" stroke="#000" stroke-width="1.2"/>
<rect x="1678.15" y="1482.19" width="25.32" height="108.18" fill="#13a6a6" stroke="#000" stroke-width="1.2"/>
<rect x="1716.03" y="1498.19" width="25.32" height="92.18" fill="#13a6a6" stroke="#000" stroke-width="1.2"/>
<line x1="1577.76" y1="1388.39" x2="1577.76" y2="1433.57" stroke="#111" stroke-width="1.3"/>
<line x1="1571.46" y1="1388.39" x2="1584.06" y2="1388.39" stroke="#111" stroke-width="1.5"/>
<line x1="1571.46" y1="1433.57" x2="1584.06" y2="1433.57" stroke="#111" stroke-width="1.5"/>
<line x1="1615.24" y1="1409.25" x2="1615.24" y2="1468.41" stroke="#111" stroke-width="1.3"/>
<line x1="1608.94" y1="1409.25" x2="1621.54" y2="1409.25" stroke="#111" stroke-width="1.5"/>
<line x1="1608.94" y1="1468.41" x2="1621.54" y2="1468.41" stroke="#111" stroke-width="1.5"/>
<line x1="1653.13" y1="1453.82" x2="1653.13" y2="1475.5" stroke="#111" stroke-width="1.3"/>
<line x1="1646.83" y1="1453.82" x2="1659.43" y2="1453.82" stroke="#111" stroke-width="1.5"/>
<line x1="1646.83" y1="1475.5" x2="1659.43" y2="1475.5" stroke="#111" stroke-width="1.5"/>
<line x1="1690.81" y1="1471.05" x2="1690.81" y2="1491.71" stroke="#111" stroke-width="1.3"/>
<line x1="1684.51" y1="1471.05" x2="1697.11" y2="1471.05" stroke="#111" stroke-width="1.5"/>
<line x1="1684.51" y1="1491.71" x2="1697.11" y2="1491.71" stroke="#111" stroke-width="1.5"/>
<line x1="1728.7" y1="1476.92" x2="1728.7" y2="1519.06" stroke="#111" stroke-width="1.3"/>
<line x1="1722.4" y1="1476.92" x2="1735" y2="1476.92" stroke="#111" stroke-width="1.5"/>
<line x1="1722.4" y1="1519.06" x2="1735" y2="1519.06" stroke="#111" stroke-width="1.5"/>
<g fill="#000">
<circle cx="1577.76" cy="1384.94" r="5.5"/>
<circle cx="1577.76" cy="1395.88" r="5.5"/>
<circle cx="1568.65" cy="1408.65" r="5.5"/>
<circle cx="1587.49" cy="1403.58" r="5.5"/>
<circle cx="1577.76" cy="1421.41" r="5.5"/>
<circle cx="1577.76" cy="1450.58" r="5.5"/>
<circle cx="1615.24" cy="1379.88" r="5.5"/>
<circle cx="1606.53" cy="1441.06" r="5.5"/>
<circle cx="1615.24" cy="1445.11" r="5.5"/>
<circle cx="1615.24" cy="1451.8" r="5.5"/>
<circle cx="1606.53" cy="1457.27" r="5.5"/>
<circle cx="1624.76" cy="1457.27" r="5.5"/>
<circle cx="1644.21" cy="1457.27" r="5.5"/>
<circle cx="1662.45" cy="1451.8" r="5.5"/>
<circle cx="1644.21" cy="1464.76" r="5.5"/>
<circle cx="1662.45" cy="1459.29" r="5.5"/>
<circle cx="1644.21" cy="1478.54" r="5.5"/>
<circle cx="1662.45" cy="1475.5" r="5.5"/>
<circle cx="1690.81" cy="1462.74" r="5.5"/>
<circle cx="1690.81" cy="1476.92" r="5.5"/>
<circle cx="1681.49" cy="1485.02" r="5.5"/>
<circle cx="1700.33" cy="1489.68" r="5.5"/>
<circle cx="1681.49" cy="1492.72" r="5.5"/>
<circle cx="1690.81" cy="1488.67" r="5.5"/>
<circle cx="1728.7" cy="1471.45" r="5.5"/>
<circle cx="1728.7" cy="1479.55" r="5.5"/>
<circle cx="1728.7" cy="1493.74" r="5.5"/>
<circle cx="1728.7" cy="1503.87" r="5.5"/>
<circle cx="1728.7" cy="1516.02" r="5.5"/>
<circle cx="1728.7" cy="1523.11" r="5.5"/>
</g>
<line x1="1552.44" y1="1320.11" x2="1552.44" y2="1590.37" stroke="#333" stroke-width="1.5"/>
<line x1="1543.73" y1="1590.37" x2="1755.64" y2="1590.37" stroke="#111" stroke-width="1.4"/>
<line x1="1543.73" y1="1320.11" x2="1552.44" y2="1320.11" stroke="#333" stroke-width="1.3"/>
<text x="1535.33" y="1327.31" font-size="21.2" text-anchor="end">1.5</text>
<line x1="1543.73" y1="1410.67" x2="1552.44" y2="1410.67" stroke="#333" stroke-width="1.3"/>
<text x="1535.33" y="1417.87" font-size="21.2" text-anchor="end">1.0</text>
<line x1="1543.73" y1="1500.83" x2="1552.44" y2="1500.83" stroke="#333" stroke-width="1.3"/>
<text x="1535.33" y="1508.03" font-size="21.2" text-anchor="end">0.5</text>
<line x1="1543.73" y1="1590.37" x2="1552.44" y2="1590.37" stroke="#333" stroke-width="1.3"/>
<text x="1535.33" y="1597.57" font-size="21.2" text-anchor="end">0</text>
<line x1="1577.76" y1="1590.37" x2="1577.76" y2="1598.87" stroke="#333" stroke-width="1.3"/>
<line x1="1615.24" y1="1590.37" x2="1615.24" y2="1598.87" stroke="#333" stroke-width="1.3"/>
<line x1="1653.13" y1="1590.37" x2="1653.13" y2="1598.87" stroke="#333" stroke-width="1.3"/>
<line x1="1690.81" y1="1590.37" x2="1690.81" y2="1598.87" stroke="#333" stroke-width="1.3"/>
<line x1="1728.7" y1="1590.37" x2="1728.7" y2="1598.87" stroke="#333" stroke-width="1.3"/>
<polyline points="1577.76,1373.63 1577.76,1368.13 1652.32,1368.13 1652.32,1373.63" fill="none" stroke="#222" stroke-width="1.3"/>
<text x="1615.34" y="1372.58" font-size="25" text-anchor="middle" letter-spacing="0.6" stroke="#000" stroke-width="0.35">***</text>
<polyline points="1577.76,1358.03 1577.76,1352.53 1691.22,1352.53 1691.22,1358.03" fill="none" stroke="#222" stroke-width="1.3"/>
<text x="1634.79" y="1356.98" font-size="25" text-anchor="middle" letter-spacing="0.6" stroke="#000" stroke-width="0.35">****</text>
<polyline points="1577.76,1340.2 1577.76,1334.7 1730.32,1334.7 1730.32,1340.2" fill="none" stroke="#222" stroke-width="1.3"/>
<text x="1654.34" y="1339.15" font-size="25" text-anchor="middle" letter-spacing="0.6" stroke="#000" stroke-width="0.35">****</text>
<g fill="none" stroke="#e8121e" stroke-width="3.2" stroke-linecap="round">
<circle cx="1588.62" cy="1293.9" r="5.0"/>
<line x1="1588.62" y1="1300.4" x2="1588.62" y2="1308"/>
<line x1="1583.32" y1="1303.6" x2="1594.02" y2="1303.6"/>
</g>
<text x="1610.1" y="1307" font-size="21.2">PFA4</text>
<text x="1491.94" y="1455.24" font-size="21.2" text-anchor="middle" transform="rotate(-90 1491.94 1455.24)">Counts relative to control</text>
<text x="1595.16" y="1622.3" font-size="21.2" text-anchor="end">Control</text>
<text x="1615.24" y="1622.3" font-size="21.2" text-anchor="middle">2.5</text>
<text x="1653.13" y="1622.3" font-size="21.2" text-anchor="middle">5</text>
<text x="1690.81" y="1622.3" font-size="21.2" text-anchor="middle">10</text>
<text x="1728.7" y="1622.3" font-size="21.2" text-anchor="middle">20</text>
<text x="1653.73" y="1653.6" font-size="21.2" text-anchor="middle">Enzalutamide concentration (µM)</text>
<rect x="1926.09" y="1410.65" width="25.32" height="179.66" fill="#838383" stroke="#000" stroke-width="1.2"/>
<rect x="1963.56" y="1443.05" width="25.32" height="147.26" fill="#13a6a6" stroke="#000" stroke-width="1.2"/>
<rect x="2001.03" y="1472.02" width="25.32" height="118.29" fill="#13a6a6" stroke="#000" stroke-width="1.2"/>
<rect x="2038.91" y="1472.02" width="25.32" height="118.29" fill="#13a6a6" stroke="#000" stroke-width="1.2"/>
<rect x="2076.99" y="1497.74" width="25.32" height="92.57" fill="#13a6a6" stroke="#000" stroke-width="1.2"/>
<line x1="1938.75" y1="1399.51" x2="1938.75" y2="1432.32" stroke="#111" stroke-width="1.3"/>
<line x1="1932.45" y1="1399.51" x2="1945.05" y2="1399.51" stroke="#111" stroke-width="1.5"/>
<line x1="1932.45" y1="1432.32" x2="1945.05" y2="1432.32" stroke="#111" stroke-width="1.5"/>
<line x1="1976.22" y1="1443.05" x2="1976.22" y2="1456.22" stroke="#111" stroke-width="1.3"/>
<line x1="1969.92" y1="1443.05" x2="1982.52" y2="1443.05" stroke="#111" stroke-width="1.5"/>
<line x1="1969.92" y1="1456.22" x2="1982.52" y2="1456.22" stroke="#111" stroke-width="1.5"/>
<line x1="2013.69" y1="1458.25" x2="2013.69" y2="1485.59" stroke="#111" stroke-width="1.3"/>
<line x1="2007.39" y1="1458.25" x2="2019.99" y2="1458.25" stroke="#111" stroke-width="1.5"/>
<line x1="2007.39" y1="1485.59" x2="2019.99" y2="1485.59" stroke="#111" stroke-width="1.5"/>
<line x1="2051.57" y1="1460.27" x2="2051.57" y2="1484.58" stroke="#111" stroke-width="1.3"/>
<line x1="2045.27" y1="1460.27" x2="2057.87" y2="1460.27" stroke="#111" stroke-width="1.5"/>
<line x1="2045.27" y1="1484.58" x2="2057.87" y2="1484.58" stroke="#111" stroke-width="1.5"/>
<line x1="2089.65" y1="1480.53" x2="2089.65" y2="1516.58" stroke="#111" stroke-width="1.3"/>
<line x1="2083.35" y1="1480.53" x2="2095.95" y2="1480.53" stroke="#111" stroke-width="1.5"/>
<line x1="2083.35" y1="1516.58" x2="2095.95" y2="1516.58" stroke="#111" stroke-width="1.5"/>
<g fill="#000">
<circle cx="1929.63" cy="1390.39" r="5.5"/>
<circle cx="1938.75" cy="1392.42" r="5.5"/>
<circle cx="1948.27" cy="1390.39" r="5.5"/>
<circle cx="1933.68" cy="1423.41" r="5.5"/>
<circle cx="1943.81" cy="1424.22" r="5.5"/>
<circle cx="1938.75" cy="1441.03" r="5.5"/>
<circle cx="1967.71" cy="1441.03" r="5.5"/>
<circle cx="1985.94" cy="1444.07" r="5.5"/>
<circle cx="1976.22" cy="1449.13" r="5.5"/>
<circle cx="1967.71" cy="1456.22" r="5.5"/>
<circle cx="1985.94" cy="1453.18" r="5.5"/>
<circle cx="1976.22" cy="1450.14" r="5.5"/>
<circle cx="2014.3" cy="1447.11" r="5.5"/>
<circle cx="2004.98" cy="1470.4" r="5.5"/>
<circle cx="2022.81" cy="1470.4" r="5.5"/>
<circle cx="2014.3" cy="1474.45" r="5.5"/>
<circle cx="2009.64" cy="1483.56" r="5.5"/>
<circle cx="2018.76" cy="1481.54" r="5.5"/>
<circle cx="2052.18" cy="1453.79" r="5.5"/>
<circle cx="2052.18" cy="1463.92" r="5.5"/>
<circle cx="2042.05" cy="1477.49" r="5.5"/>
<circle cx="2061.29" cy="1475.46" r="5.5"/>
<circle cx="2042.05" cy="1483.56" r="5.5"/>
<circle cx="2061.29" cy="1482.55" r="5.5"/>
<circle cx="2089.65" cy="1474.86" r="5.5"/>
<circle cx="2080.53" cy="1486.6" r="5.5"/>
<circle cx="2098.76" cy="1491.06" r="5.5"/>
<circle cx="2080.53" cy="1494.71" r="5.5"/>
<circle cx="2098.76" cy="1501.19" r="5.5"/>
<circle cx="2089.65" cy="1533.19" r="5.5"/>
</g>
<line x1="1913.43" y1="1320.11" x2="1913.43" y2="1590.31" stroke="#333" stroke-width="1.5"/>
<line x1="1904.72" y1="1590.31" x2="2115.98" y2="1590.31" stroke="#111" stroke-width="1.4"/>
<line x1="1904.72" y1="1320.11" x2="1913.43" y2="1320.11" stroke="#333" stroke-width="1.3"/>
<text x="1896.32" y="1327.31" font-size="21.2" text-anchor="end">1.5</text>
<line x1="1904.72" y1="1410.65" x2="1913.43" y2="1410.65" stroke="#333" stroke-width="1.3"/>
<text x="1896.32" y="1417.85" font-size="21.2" text-anchor="end">1.0</text>
<line x1="1904.72" y1="1500.78" x2="1913.43" y2="1500.78" stroke="#333" stroke-width="1.3"/>
<text x="1896.32" y="1507.98" font-size="21.2" text-anchor="end">0.5</text>
<line x1="1904.72" y1="1590.31" x2="1913.43" y2="1590.31" stroke="#333" stroke-width="1.3"/>
<text x="1896.32" y="1597.51" font-size="21.2" text-anchor="end">0</text>
<line x1="1938.75" y1="1590.31" x2="1938.75" y2="1598.81" stroke="#333" stroke-width="1.3"/>
<line x1="1976.22" y1="1590.31" x2="1976.22" y2="1598.81" stroke="#333" stroke-width="1.3"/>
<line x1="2013.69" y1="1590.31" x2="2013.69" y2="1598.81" stroke="#333" stroke-width="1.3"/>
<line x1="2051.57" y1="1590.31" x2="2051.57" y2="1598.81" stroke="#333" stroke-width="1.3"/>
<line x1="2089.65" y1="1590.31" x2="2089.65" y2="1598.81" stroke="#333" stroke-width="1.3"/>
<polyline points="1938.75,1385.76 1938.75,1380.26 1971.76,1380.26 1971.76,1385.76" fill="none" stroke="#222" stroke-width="1.3"/>
<text x="1955.56" y="1384.71" font-size="25" text-anchor="middle" letter-spacing="0.6" stroke="#000" stroke-width="0.35">**</text>
<polyline points="1938.75,1372.19 1938.75,1366.69 2012.68,1366.69 2012.68,1372.19" fill="none" stroke="#222" stroke-width="1.3"/>
<text x="1976.01" y="1371.14" font-size="25" text-anchor="middle" letter-spacing="0.6" stroke="#000" stroke-width="0.35">****</text>
<polyline points="1938.75,1358.01 1938.75,1352.51 2050.15,1352.51 2050.15,1358.01" fill="none" stroke="#222" stroke-width="1.3"/>
<text x="1994.75" y="1356.96" font-size="25" text-anchor="middle" letter-spacing="0.6" stroke="#000" stroke-width="0.35">****</text>
<polyline points="1938.75,1344.24 1938.75,1338.74 2087.22,1338.74 2087.22,1344.24" fill="none" stroke="#222" stroke-width="1.3"/>
<text x="2013.28" y="1343.19" font-size="25" text-anchor="middle" letter-spacing="0.6" stroke="#000" stroke-width="0.35">****</text>
<g fill="none" stroke="#e8121e" stroke-width="3.2" stroke-linecap="round">
<circle cx="1949.6" cy="1293.9" r="5.0"/>
<line x1="1949.6" y1="1300.4" x2="1949.6" y2="1308"/>
<line x1="1944.3" y1="1303.6" x2="1955" y2="1303.6"/>
</g>
<text x="1970.47" y="1307" font-size="21.2">PFA6</text>
<text x="1852.93" y="1455.21" font-size="21.2" text-anchor="middle" transform="rotate(-90 1852.93 1455.21)">Counts relative to control</text>
<text x="1956.15" y="1622.3" font-size="21.2" text-anchor="end">Control</text>
<text x="1976.22" y="1622.3" font-size="21.2" text-anchor="middle">2.5</text>
<text x="2013.69" y="1622.3" font-size="21.2" text-anchor="middle">5</text>
<text x="2051.57" y="1622.3" font-size="21.2" text-anchor="middle">10</text>
<text x="2089.65" y="1622.3" font-size="21.2" text-anchor="middle">20</text>
<text x="2014.7" y="1653.6" font-size="21.2" text-anchor="middle">Enzalutamide concentration (µM)</text>
<rect x="113.01" y="1812.35" width="24.98" height="176.87" fill="#838383" stroke="#000" stroke-width="1.2"/>
<rect x="150.28" y="1804.29" width="24.98" height="184.93" fill="#ff8f46" stroke="#000" stroke-width="1.2"/>
<rect x="187.55" y="1827.06" width="24.98" height="162.17" fill="#ff8f46" stroke="#000" stroke-width="1.2"/>
<rect x="224.82" y="1852.84" width="24.98" height="136.38" fill="#ff8f46" stroke="#000" stroke-width="1.2"/>
<rect x="261.89" y="1866.95" width="24.98" height="122.28" fill="#ff8f46" stroke="#000" stroke-width="1.2"/>
<line x1="125.5" y1="1796.84" x2="125.5" y2="1828.07" stroke="#111" stroke-width="1.3"/>
<line x1="119.2" y1="1796.84" x2="131.8" y2="1796.84" stroke="#111" stroke-width="1.5"/>
<line x1="119.2" y1="1828.07" x2="131.8" y2="1828.07" stroke="#111" stroke-width="1.5"/>
<line x1="162.77" y1="1796.84" x2="162.77" y2="1822.02" stroke="#111" stroke-width="1.3"/>
<line x1="156.47" y1="1796.84" x2="169.07" y2="1796.84" stroke="#111" stroke-width="1.5"/>
<line x1="156.47" y1="1822.02" x2="169.07" y2="1822.02" stroke="#111" stroke-width="1.5"/>
<line x1="200.04" y1="1810.54" x2="200.04" y2="1843.58" stroke="#111" stroke-width="1.3"/>
<line x1="193.74" y1="1810.54" x2="206.34" y2="1810.54" stroke="#111" stroke-width="1.5"/>
<line x1="193.74" y1="1843.58" x2="206.34" y2="1843.58" stroke="#111" stroke-width="1.5"/>
<line x1="237.31" y1="1845.19" x2="237.31" y2="1859.29" stroke="#111" stroke-width="1.3"/>
<line x1="231.01" y1="1845.19" x2="243.61" y2="1845.19" stroke="#111" stroke-width="1.5"/>
<line x1="231.01" y1="1859.29" x2="243.61" y2="1859.29" stroke="#111" stroke-width="1.5"/>
<line x1="274.38" y1="1857.28" x2="274.38" y2="1886.08" stroke="#111" stroke-width="1.3"/>
<line x1="268.08" y1="1857.28" x2="280.68" y2="1857.28" stroke="#111" stroke-width="1.5"/>
<line x1="268.08" y1="1886.08" x2="280.68" y2="1886.08" stroke="#111" stroke-width="1.5"/>
<g fill="#000">
<circle cx="125.91" cy="1794.42" r="6.8"/>
<circle cx="117.85" cy="1801.88" r="6.8"/>
<circle cx="133.36" cy="1801.88" r="6.8"/>
<circle cx="125.91" cy="1817.39" r="6.8"/>
<circle cx="133.36" cy="1824.64" r="6.8"/>
<circle cx="118.45" cy="1833.51" r="6.8"/>
<circle cx="155.12" cy="1791.2" r="6.8"/>
<circle cx="162.77" cy="1789.79" r="6.8"/>
<circle cx="170.83" cy="1791.2" r="6.8"/>
<circle cx="162.77" cy="1800.47" r="6.8"/>
<circle cx="166.2" cy="1822.02" r="6.8"/>
<circle cx="159.15" cy="1830.08" r="6.8"/>
<circle cx="192.39" cy="1813.96" r="6.8"/>
<circle cx="207.09" cy="1806.91" r="6.8"/>
<circle cx="207.09" cy="1819.61" r="6.8"/>
<circle cx="192.39" cy="1830.08" r="6.8"/>
<circle cx="207.09" cy="1836.73" r="6.8"/>
<circle cx="200.04" cy="1853.25" r="6.8"/>
<circle cx="229.65" cy="1844.79" r="6.8"/>
<circle cx="237.31" cy="1843.17" r="6.8"/>
<circle cx="244.76" cy="1846.8" r="6.8"/>
<circle cx="237.31" cy="1854.25" r="6.8"/>
<circle cx="244.76" cy="1862.31" r="6.8"/>
<circle cx="229.65" cy="1867.75" r="6.8"/>
<circle cx="267.93" cy="1847.2" r="6.8"/>
<circle cx="282.03" cy="1851.64" r="6.8"/>
<circle cx="274.38" cy="1856.27" r="6.8"/>
<circle cx="270.35" cy="1870.98" r="6.8"/>
<circle cx="278" cy="1876.41" r="6.8"/>
<circle cx="274.38" cy="1899.58" r="6.8"/>
</g>
<line x1="104.75" y1="1722.91" x2="104.75" y2="1989.23" stroke="#333" stroke-width="1.5"/>
<line x1="96.7" y1="1989.23" x2="300.77" y2="1989.23" stroke="#111" stroke-width="1.4"/>
<line x1="96.7" y1="1722.91" x2="104.75" y2="1722.91" stroke="#333" stroke-width="1.3"/>
<text x="88.3" y="1730.11" font-size="21.2" text-anchor="end">1.5</text>
<line x1="96.7" y1="1812.35" x2="104.75" y2="1812.35" stroke="#333" stroke-width="1.3"/>
<text x="88.3" y="1819.55" font-size="21.2" text-anchor="end">1.0</text>
<line x1="96.7" y1="1900.99" x2="104.75" y2="1900.99" stroke="#333" stroke-width="1.3"/>
<text x="88.3" y="1908.19" font-size="21.2" text-anchor="end">0.5</text>
<line x1="96.7" y1="1989.23" x2="104.75" y2="1989.23" stroke="#333" stroke-width="1.3"/>
<text x="88.3" y="1996.43" font-size="21.2" text-anchor="end">0</text>
<line x1="125.5" y1="1989.23" x2="125.5" y2="1997.73" stroke="#333" stroke-width="1.3"/>
<line x1="162.77" y1="1989.23" x2="162.77" y2="1997.73" stroke="#333" stroke-width="1.3"/>
<line x1="200.04" y1="1989.23" x2="200.04" y2="1997.73" stroke="#333" stroke-width="1.3"/>
<line x1="237.31" y1="1989.23" x2="237.31" y2="1997.73" stroke="#333" stroke-width="1.3"/>
<line x1="274.38" y1="1989.23" x2="274.38" y2="1997.73" stroke="#333" stroke-width="1.3"/>
<polyline points="125.5,1773.74 125.5,1768.24 239.32,1768.24 239.32,1773.74" fill="none" stroke="#222" stroke-width="1.3"/>
<text x="182.71" y="1772.69" font-size="25" text-anchor="middle" letter-spacing="0.6" stroke="#000" stroke-width="0.35">**</text>
<polyline points="125.5,1752.99 125.5,1747.49 274.38,1747.49 274.38,1752.99" fill="none" stroke="#222" stroke-width="1.3"/>
<text x="200.24" y="1751.94" font-size="25" text-anchor="middle" letter-spacing="0.6" stroke="#000" stroke-width="0.35">****</text>
<g fill="none" stroke="#0a80ef" stroke-width="3.2" stroke-linecap="round" stroke-linejoin="round">
<circle cx="135.33" cy="1705.1" r="4.9"/>
<polyline points="138.33,1700.9 142.13,1691.6"/>
<polyline points="135.53,1694.8 142.53,1691.1 143.13,1698.2"/>
</g>
<text x="158.05" y="1710.6" font-size="21.2">PFA5</text>
<text x="44.25" y="1856.07" font-size="21.2" text-anchor="middle" transform="rotate(-90 44.25 1856.07)">Counts relative to control</text>
<text x="142.9" y="2021.5" font-size="21.2" text-anchor="end">Control</text>
<text x="162.77" y="2021.5" font-size="21.2" text-anchor="middle">2.5</text>
<text x="200.04" y="2021.5" font-size="21.2" text-anchor="middle">5</text>
<text x="237.31" y="2021.5" font-size="21.2" text-anchor="middle">10</text>
<text x="274.38" y="2021.5" font-size="21.2" text-anchor="middle">20</text>
<text x="205.94" y="2052.5" font-size="21.2" text-anchor="middle">MTX-23 concentration (µM)</text>
<rect x="456.9" y="1812.35" width="24.58" height="176.87" fill="#838383" stroke="#000" stroke-width="1.2"/>
<rect x="494.17" y="1821.02" width="24.58" height="168.21" fill="#ff8f46" stroke="#000" stroke-width="1.2"/>
<rect x="531.43" y="1860.3" width="24.58" height="128.93" fill="#ff8f46" stroke="#000" stroke-width="1.2"/>
<rect x="568.7" y="1894.54" width="24.58" height="94.68" fill="#ff8f46" stroke="#000" stroke-width="1.2"/>
<rect x="605.57" y="1910.66" width="24.58" height="78.57" fill="#ff8f46" stroke="#000" stroke-width="1.2"/>
<line x1="469.19" y1="1781.33" x2="469.19" y2="1843.17" stroke="#111" stroke-width="1.3"/>
<line x1="462.89" y1="1781.33" x2="475.49" y2="1781.33" stroke="#111" stroke-width="1.5"/>
<line x1="462.89" y1="1843.17" x2="475.49" y2="1843.17" stroke="#111" stroke-width="1.5"/>
<line x1="506.45" y1="1785.36" x2="506.45" y2="1856.27" stroke="#111" stroke-width="1.3"/>
<line x1="500.15" y1="1785.36" x2="512.75" y2="1785.36" stroke="#111" stroke-width="1.5"/>
<line x1="500.15" y1="1856.27" x2="512.75" y2="1856.27" stroke="#111" stroke-width="1.5"/>
<line x1="543.72" y1="1831.09" x2="543.72" y2="1889.51" stroke="#111" stroke-width="1.3"/>
<line x1="537.42" y1="1831.09" x2="550.02" y2="1831.09" stroke="#111" stroke-width="1.5"/>
<line x1="537.42" y1="1889.51" x2="550.02" y2="1889.51" stroke="#111" stroke-width="1.5"/>
<line x1="580.99" y1="1878.43" x2="580.99" y2="1909.65" stroke="#111" stroke-width="1.3"/>
<line x1="574.69" y1="1878.43" x2="587.29" y2="1878.43" stroke="#111" stroke-width="1.5"/>
<line x1="574.69" y1="1909.65" x2="587.29" y2="1909.65" stroke="#111" stroke-width="1.5"/>
<line x1="617.86" y1="1898.57" x2="617.86" y2="1921.74" stroke="#111" stroke-width="1.3"/>
<line x1="611.56" y1="1898.57" x2="624.16" y2="1898.57" stroke="#111" stroke-width="1.5"/>
<line x1="611.56" y1="1921.74" x2="624.16" y2="1921.74" stroke="#111" stroke-width="1.5"/>
<g fill="#000">
<circle cx="470.8" cy="1764.61" r="6.8"/>
<circle cx="470.8" cy="1792.81" r="6.8"/>
<circle cx="470.8" cy="1803.29" r="6.8"/>
<circle cx="470.8" cy="1830.08" r="6.8"/>
<circle cx="463.14" cy="1842.17" r="6.8"/>
<circle cx="478.45" cy="1840.76" r="6.8"/>
<circle cx="508.07" cy="1768.24" r="6.8"/>
<circle cx="508.07" cy="1796.44" r="6.8"/>
<circle cx="500.61" cy="1823.43" r="6.8"/>
<circle cx="515.52" cy="1819.4" r="6.8"/>
<circle cx="500.61" cy="1862.31" r="6.8"/>
<circle cx="515.52" cy="1856.87" r="6.8"/>
<circle cx="538.28" cy="1831.49" r="6.8"/>
<circle cx="552.99" cy="1830.08" r="6.8"/>
<circle cx="544.93" cy="1842.77" r="6.8"/>
<circle cx="544.93" cy="1865.74" r="6.8"/>
<circle cx="552.99" cy="1890.52" r="6.8"/>
<circle cx="538.28" cy="1899.18" r="6.8"/>
<circle cx="575.15" cy="1874.4" r="6.8"/>
<circle cx="589.65" cy="1881.85" r="6.8"/>
<circle cx="575.15" cy="1886.49" r="6.8"/>
<circle cx="575.15" cy="1899.18" r="6.8"/>
<circle cx="589.65" cy="1908.04" r="6.8"/>
<circle cx="575.15" cy="1915.29" r="6.8"/>
<circle cx="626.92" cy="1895.55" r="6.8"/>
<circle cx="611.81" cy="1908.04" r="6.8"/>
<circle cx="619.87" cy="1902.6" r="6.8"/>
<circle cx="626.92" cy="1908.04" r="6.8"/>
<circle cx="622.89" cy="1926.17" r="6.8"/>
<circle cx="615.84" cy="1933.42" r="6.8"/>
</g>
<line x1="449.24" y1="1722.91" x2="449.24" y2="1989.23" stroke="#333" stroke-width="1.5"/>
<line x1="441.59" y1="1989.23" x2="644.05" y2="1989.23" stroke="#111" stroke-width="1.4"/>
<line x1="441.59" y1="1722.91" x2="449.24" y2="1722.91" stroke="#333" stroke-width="1.3"/>
<text x="433.19" y="1730.11" font-size="21.2" text-anchor="end">1.5</text>
<line x1="441.59" y1="1812.35" x2="449.24" y2="1812.35" stroke="#333" stroke-width="1.3"/>
<text x="433.19" y="1819.55" font-size="21.2" text-anchor="end">1.0</text>
<line x1="441.59" y1="1900.99" x2="449.24" y2="1900.99" stroke="#333" stroke-width="1.3"/>
<text x="433.19" y="1908.19" font-size="21.2" text-anchor="end">0.5</text>
<line x1="441.59" y1="1989.23" x2="449.24" y2="1989.23" stroke="#333" stroke-width="1.3"/>
<text x="433.19" y="1996.43" font-size="21.2" text-anchor="end">0</text>
<line x1="469.19" y1="1989.23" x2="469.19" y2="1997.73" stroke="#333" stroke-width="1.3"/>
<line x1="506.45" y1="1989.23" x2="506.45" y2="1997.73" stroke="#333" stroke-width="1.3"/>
<line x1="543.72" y1="1989.23" x2="543.72" y2="1997.73" stroke="#333" stroke-width="1.3"/>
<line x1="580.99" y1="1989.23" x2="580.99" y2="1997.73" stroke="#333" stroke-width="1.3"/>
<line x1="617.86" y1="1989.23" x2="617.86" y2="1997.73" stroke="#333" stroke-width="1.3"/>
<polyline points="470.8,1757.01 470.8,1751.51 545.33,1751.51 545.33,1757.01" fill="none" stroke="#222" stroke-width="1.3"/>
<text x="508.37" y="1755.96" font-size="25" text-anchor="middle" letter-spacing="0.6" stroke="#000" stroke-width="0.35">*</text>
<polyline points="470.8,1745.33 470.8,1739.83 582.6,1739.83 582.6,1745.33" fill="none" stroke="#222" stroke-width="1.3"/>
<text x="527" y="1744.28" font-size="25" text-anchor="middle" letter-spacing="0.6" stroke="#000" stroke-width="0.35">***</text>
<polyline points="470.8,1733.24 470.8,1727.74 621.48,1727.74 621.48,1733.24" fill="none" stroke="#222" stroke-width="1.3"/>
<text x="546.44" y="1732.19" font-size="25" text-anchor="middle" letter-spacing="0.6" stroke="#000" stroke-width="0.35">****</text>
<g fill="none" stroke="#0a80ef" stroke-width="3.2" stroke-linecap="round" stroke-linejoin="round">
<circle cx="478.6" cy="1705.1" r="4.9"/>
<polyline points="481.6,1700.9 485.4,1691.6"/>
<polyline points="478.8,1694.8 485.8,1691.1 486.4,1698.2"/>
</g>
<text x="500.93" y="1710.6" font-size="21.2">PFA7</text>
<text x="388.74" y="1856.07" font-size="21.2" text-anchor="middle" transform="rotate(-90 388.74 1856.07)">Counts relative to control</text>
<text x="486.59" y="2021.5" font-size="21.2" text-anchor="end">Control</text>
<text x="506.45" y="2021.5" font-size="21.2" text-anchor="middle">2.5</text>
<text x="543.72" y="2021.5" font-size="21.2" text-anchor="middle">5</text>
<text x="580.99" y="2021.5" font-size="21.2" text-anchor="middle">10</text>
<text x="617.86" y="2021.5" font-size="21.2" text-anchor="middle">20</text>
<text x="549.52" y="2052.5" font-size="21.2" text-anchor="middle">MTX-23 concentration (µM)</text>
<rect x="838.15" y="1812.35" width="24.78" height="176.87" fill="#838383" stroke="#000" stroke-width="1.2"/>
<rect x="875.22" y="1838.54" width="24.78" height="150.68" fill="#ff8f46" stroke="#000" stroke-width="1.2"/>
<rect x="912.49" y="1853.65" width="24.78" height="135.58" fill="#ff8f46" stroke="#000" stroke-width="1.2"/>
<rect x="949.75" y="1860.3" width="24.78" height="128.93" fill="#ff8f46" stroke="#000" stroke-width="1.2"/>
<rect x="987.02" y="1910.26" width="24.78" height="78.97" fill="#ff8f46" stroke="#000" stroke-width="1.2"/>
<line x1="850.54" y1="1795.83" x2="850.54" y2="1828.07" stroke="#111" stroke-width="1.3"/>
<line x1="844.24" y1="1795.83" x2="856.84" y2="1795.83" stroke="#111" stroke-width="1.5"/>
<line x1="844.24" y1="1828.07" x2="856.84" y2="1828.07" stroke="#111" stroke-width="1.5"/>
<line x1="887.61" y1="1833.1" x2="887.61" y2="1844.18" stroke="#111" stroke-width="1.3"/>
<line x1="881.31" y1="1833.1" x2="893.91" y2="1833.1" stroke="#111" stroke-width="1.5"/>
<line x1="881.31" y1="1844.18" x2="893.91" y2="1844.18" stroke="#111" stroke-width="1.5"/>
<line x1="924.88" y1="1845.19" x2="924.88" y2="1862.31" stroke="#111" stroke-width="1.3"/>
<line x1="918.58" y1="1845.19" x2="931.18" y2="1845.19" stroke="#111" stroke-width="1.5"/>
<line x1="918.58" y1="1862.31" x2="931.18" y2="1862.31" stroke="#111" stroke-width="1.5"/>
<line x1="962.14" y1="1855.26" x2="962.14" y2="1865.33" stroke="#111" stroke-width="1.3"/>
<line x1="955.84" y1="1855.26" x2="968.44" y2="1855.26" stroke="#111" stroke-width="1.5"/>
<line x1="955.84" y1="1865.33" x2="968.44" y2="1865.33" stroke="#111" stroke-width="1.5"/>
<line x1="999.41" y1="1895.55" x2="999.41" y2="1924.76" stroke="#111" stroke-width="1.3"/>
<line x1="993.11" y1="1895.55" x2="1005.71" y2="1895.55" stroke="#111" stroke-width="1.5"/>
<line x1="993.11" y1="1924.76" x2="1005.71" y2="1924.76" stroke="#111" stroke-width="1.5"/>
<g fill="#000">
<circle cx="849.94" cy="1786.77" r="6.8"/>
<circle cx="857.99" cy="1802.88" r="6.8"/>
<circle cx="842.48" cy="1810.94" r="6.8"/>
<circle cx="856.99" cy="1814.57" r="6.8"/>
<circle cx="849.94" cy="1821.02" r="6.8"/>
<circle cx="849.94" cy="1832.1" r="6.8"/>
<circle cx="880.15" cy="1828.07" r="6.8"/>
<circle cx="887.2" cy="1825.45" r="6.8"/>
<circle cx="894.86" cy="1834.71" r="6.8"/>
<circle cx="887.2" cy="1840.15" r="6.8"/>
<circle cx="880.15" cy="1850.23" r="6.8"/>
<circle cx="894.86" cy="1850.23" r="6.8"/>
<circle cx="924.47" cy="1836.12" r="6.8"/>
<circle cx="917.42" cy="1860.3" r="6.8"/>
<circle cx="931.93" cy="1860.3" r="6.8"/>
<circle cx="924.47" cy="1855.26" r="6.8"/>
<circle cx="924.47" cy="1861.31" r="6.8"/>
<circle cx="930.52" cy="1857.28" r="6.8"/>
<circle cx="954.69" cy="1848.21" r="6.8"/>
<circle cx="962.75" cy="1850.83" r="6.8"/>
<circle cx="969.8" cy="1856.27" r="6.8"/>
<circle cx="954.69" cy="1870.98" r="6.8"/>
<circle cx="969.4" cy="1868.36" r="6.8"/>
<circle cx="962.75" cy="1861.31" r="6.8"/>
<circle cx="999.01" cy="1882.46" r="6.8"/>
<circle cx="999.01" cy="1905.62" r="6.8"/>
<circle cx="991.96" cy="1918.72" r="6.8"/>
<circle cx="1006.06" cy="1917.71" r="6.8"/>
<circle cx="999.01" cy="1920.73" r="6.8"/>
<circle cx="994.98" cy="1921.74" r="6.8"/>
</g>
<line x1="829.39" y1="1722.91" x2="829.39" y2="1989.23" stroke="#333" stroke-width="1.5"/>
<line x1="821.33" y1="1989.23" x2="1025.8" y2="1989.23" stroke="#111" stroke-width="1.4"/>
<line x1="821.33" y1="1722.91" x2="829.39" y2="1722.91" stroke="#333" stroke-width="1.3"/>
<text x="812.93" y="1730.11" font-size="21.2" text-anchor="end">1.5</text>
<line x1="821.33" y1="1811.95" x2="829.39" y2="1811.95" stroke="#333" stroke-width="1.3"/>
<text x="812.93" y="1819.15" font-size="21.2" text-anchor="end">1.0</text>
<line x1="821.33" y1="1900.59" x2="829.39" y2="1900.59" stroke="#333" stroke-width="1.3"/>
<text x="812.93" y="1907.79" font-size="21.2" text-anchor="end">0.5</text>
<line x1="821.33" y1="1989.23" x2="829.39" y2="1989.23" stroke="#333" stroke-width="1.3"/>
<text x="812.93" y="1996.43" font-size="21.2" text-anchor="end">0</text>
<line x1="850.54" y1="1989.23" x2="850.54" y2="1997.73" stroke="#333" stroke-width="1.3"/>
<line x1="887.61" y1="1989.23" x2="887.61" y2="1997.73" stroke="#333" stroke-width="1.3"/>
<line x1="924.88" y1="1989.23" x2="924.88" y2="1997.73" stroke="#333" stroke-width="1.3"/>
<line x1="962.14" y1="1989.23" x2="962.14" y2="1997.73" stroke="#333" stroke-width="1.3"/>
<line x1="999.41" y1="1989.23" x2="999.41" y2="1997.73" stroke="#333" stroke-width="1.3"/>
<polyline points="849.94,1778.17 849.94,1772.67 886.2,1772.67 886.2,1778.17" fill="none" stroke="#222" stroke-width="1.3"/>
<text x="868.37" y="1777.12" font-size="25" text-anchor="middle" letter-spacing="0.6" stroke="#000" stroke-width="0.35">**</text>
<polyline points="849.94,1765.68 849.94,1760.18 925.48,1760.18 925.48,1765.68" fill="none" stroke="#222" stroke-width="1.3"/>
<text x="888.01" y="1764.63" font-size="25" text-anchor="middle" letter-spacing="0.6" stroke="#000" stroke-width="0.35">****</text>
<polyline points="849.94,1752.58 849.94,1747.08 960.73,1747.08 960.73,1752.58" fill="none" stroke="#222" stroke-width="1.3"/>
<text x="905.63" y="1751.53" font-size="25" text-anchor="middle" letter-spacing="0.6" stroke="#000" stroke-width="0.35">****</text>
<polyline points="849.94,1739.49 849.94,1733.99 999.01,1733.99 999.01,1739.49" fill="none" stroke="#222" stroke-width="1.3"/>
<text x="924.77" y="1738.44" font-size="25" text-anchor="middle" letter-spacing="0.6" stroke="#000" stroke-width="0.35">****</text>
<g fill="none" stroke="#0a80ef" stroke-width="3.2" stroke-linecap="round" stroke-linejoin="round">
<circle cx="858.15" cy="1705.1" r="4.9"/>
<polyline points="861.15,1700.9 864.95,1691.6"/>
<polyline points="858.35,1694.8 865.35,1691.1 865.95,1698.2"/>
</g>
<text x="880.47" y="1710.6" font-size="21.2">PFA9</text>
<text x="768.89" y="1856.07" font-size="21.2" text-anchor="middle" transform="rotate(-90 768.89 1856.07)">Counts relative to control</text>
<text x="867.94" y="2021.5" font-size="21.2" text-anchor="end">Control</text>
<text x="887.61" y="2021.5" font-size="21.2" text-anchor="middle">2.5</text>
<text x="924.88" y="2021.5" font-size="21.2" text-anchor="middle">5</text>
<text x="962.14" y="2021.5" font-size="21.2" text-anchor="middle">10</text>
<text x="999.41" y="2021.5" font-size="21.2" text-anchor="middle">20</text>
<text x="930.98" y="2052.5" font-size="21.2" text-anchor="middle">MTX-23 concentration (µM)</text>
<rect x="1182.34" y="1812.55" width="24.17" height="176.67" fill="#838383" stroke="#000" stroke-width="1.2"/>
<rect x="1219.61" y="1813.36" width="24.17" height="175.87" fill="#ff8f46" stroke="#000" stroke-width="1.2"/>
<rect x="1256.87" y="1869.36" width="24.17" height="119.86" fill="#ff8f46" stroke="#000" stroke-width="1.2"/>
<rect x="1293.94" y="1869.36" width="24.17" height="119.86" fill="#ff8f46" stroke="#000" stroke-width="1.2"/>
<rect x="1331.21" y="1908.65" width="24.17" height="80.58" fill="#ff8f46" stroke="#000" stroke-width="1.2"/>
<line x1="1194.42" y1="1799.86" x2="1194.42" y2="1824.64" stroke="#111" stroke-width="1.3"/>
<line x1="1188.12" y1="1799.86" x2="1200.72" y2="1799.86" stroke="#111" stroke-width="1.5"/>
<line x1="1188.12" y1="1824.64" x2="1200.72" y2="1824.64" stroke="#111" stroke-width="1.5"/>
<line x1="1231.69" y1="1793.82" x2="1231.69" y2="1832.9" stroke="#111" stroke-width="1.3"/>
<line x1="1225.39" y1="1793.82" x2="1237.99" y2="1793.82" stroke="#111" stroke-width="1.5"/>
<line x1="1225.39" y1="1832.9" x2="1237.99" y2="1832.9" stroke="#111" stroke-width="1.5"/>
<line x1="1268.96" y1="1849.22" x2="1268.96" y2="1887.49" stroke="#111" stroke-width="1.3"/>
<line x1="1262.66" y1="1849.22" x2="1275.26" y2="1849.22" stroke="#111" stroke-width="1.5"/>
<line x1="1262.66" y1="1887.49" x2="1275.26" y2="1887.49" stroke="#111" stroke-width="1.5"/>
<line x1="1306.03" y1="1857.28" x2="1306.03" y2="1885.88" stroke="#111" stroke-width="1.3"/>
<line x1="1299.73" y1="1857.28" x2="1312.33" y2="1857.28" stroke="#111" stroke-width="1.5"/>
<line x1="1299.73" y1="1885.88" x2="1312.33" y2="1885.88" stroke="#111" stroke-width="1.5"/>
<line x1="1343.3" y1="1893.54" x2="1343.3" y2="1921.74" stroke="#111" stroke-width="1.3"/>
<line x1="1337" y1="1893.54" x2="1349.6" y2="1893.54" stroke="#111" stroke-width="1.5"/>
<line x1="1337" y1="1921.74" x2="1349.6" y2="1921.74" stroke="#111" stroke-width="1.5"/>
<g fill="#000">
<circle cx="1194.42" cy="1792.81" r="6.8"/>
<circle cx="1186.77" cy="1810.94" r="6.8"/>
<circle cx="1201.88" cy="1812.55" r="6.8"/>
<circle cx="1194.42" cy="1808.93" r="6.8"/>
<circle cx="1194.42" cy="1821.02" r="6.8"/>
<circle cx="1194.42" cy="1830.08" r="6.8"/>
<circle cx="1231.09" cy="1774.28" r="6.8"/>
<circle cx="1224.04" cy="1780.32" r="6.8"/>
<circle cx="1231.49" cy="1786.77" r="6.8"/>
<circle cx="1224.04" cy="1846.2" r="6.8"/>
<circle cx="1231.49" cy="1844.18" r="6.8"/>
<circle cx="1239.15" cy="1844.18" r="6.8"/>
<circle cx="1261.71" cy="1844.18" r="6.8"/>
<circle cx="1275.81" cy="1846.2" r="6.8"/>
<circle cx="1268.96" cy="1869.36" r="6.8"/>
<circle cx="1261.71" cy="1879.44" r="6.8"/>
<circle cx="1275.81" cy="1883.46" r="6.8"/>
<circle cx="1261.71" cy="1889.51" r="6.8"/>
<circle cx="1306.03" cy="1849.22" r="6.8"/>
<circle cx="1298.57" cy="1868.96" r="6.8"/>
<circle cx="1312.68" cy="1869.36" r="6.8"/>
<circle cx="1306.03" cy="1879.03" r="6.8"/>
<circle cx="1306.03" cy="1893.54" r="6.8"/>
<circle cx="1303.61" cy="1868.36" r="6.8"/>
<circle cx="1335.84" cy="1897.57" r="6.8"/>
<circle cx="1342.89" cy="1896.56" r="6.8"/>
<circle cx="1350.35" cy="1899.58" r="6.8"/>
<circle cx="1342.89" cy="1908.65" r="6.8"/>
<circle cx="1346.92" cy="1920.73" r="6.8"/>
<circle cx="1339.47" cy="1926.17" r="6.8"/>
</g>
<line x1="1173.27" y1="1723.31" x2="1173.27" y2="1989.23" stroke="#333" stroke-width="1.5"/>
<line x1="1165.62" y1="1989.23" x2="1369.69" y2="1989.23" stroke="#111" stroke-width="1.4"/>
<line x1="1165.62" y1="1723.31" x2="1173.27" y2="1723.31" stroke="#333" stroke-width="1.3"/>
<text x="1157.22" y="1730.51" font-size="21.2" text-anchor="end">1.5</text>
<line x1="1165.62" y1="1812.55" x2="1173.27" y2="1812.55" stroke="#333" stroke-width="1.3"/>
<text x="1157.22" y="1819.75" font-size="21.2" text-anchor="end">1.0</text>
<line x1="1165.62" y1="1901.19" x2="1173.27" y2="1901.19" stroke="#333" stroke-width="1.3"/>
<text x="1157.22" y="1908.39" font-size="21.2" text-anchor="end">0.5</text>
<line x1="1165.62" y1="1989.23" x2="1173.27" y2="1989.23" stroke="#333" stroke-width="1.3"/>
<text x="1157.22" y="1996.43" font-size="21.2" text-anchor="end">0</text>
<line x1="1194.42" y1="1989.23" x2="1194.42" y2="1997.73" stroke="#333" stroke-width="1.3"/>
<line x1="1231.69" y1="1989.23" x2="1231.69" y2="1997.73" stroke="#333" stroke-width="1.3"/>
<line x1="1268.96" y1="1989.23" x2="1268.96" y2="1997.73" stroke="#333" stroke-width="1.3"/>
<line x1="1306.03" y1="1989.23" x2="1306.03" y2="1997.73" stroke="#333" stroke-width="1.3"/>
<line x1="1343.3" y1="1989.23" x2="1343.3" y2="1997.73" stroke="#333" stroke-width="1.3"/>
<polyline points="1194.42,1770.51 1194.42,1765.01 1269.36,1765.01 1269.36,1770.51" fill="none" stroke="#222" stroke-width="1.3"/>
<text x="1232.19" y="1769.46" font-size="25" text-anchor="middle" letter-spacing="0.6" stroke="#000" stroke-width="0.35">***</text>
<polyline points="1194.42,1756.41 1194.42,1750.91 1306.63,1750.91 1306.63,1756.41" fill="none" stroke="#222" stroke-width="1.3"/>
<text x="1250.83" y="1755.36" font-size="25" text-anchor="middle" letter-spacing="0.6" stroke="#000" stroke-width="0.35">***</text>
<polyline points="1194.42,1741.91 1194.42,1736.41 1344.3,1736.41 1344.3,1741.91" fill="none" stroke="#222" stroke-width="1.3"/>
<text x="1269.66" y="1740.86" font-size="25" text-anchor="middle" letter-spacing="0.6" stroke="#000" stroke-width="0.35">****</text>
<g fill="none" stroke="#0a80ef" stroke-width="3.2" stroke-linecap="round" stroke-linejoin="round">
<circle cx="1195.58" cy="1705.1" r="4.9"/>
<polyline points="1198.58,1700.9 1202.38,1691.6"/>
<polyline points="1195.78,1694.8 1202.78,1691.1 1203.38,1698.2"/>
</g>
<text x="1217.91" y="1710.6" font-size="21.2">PFA15</text>
<text x="1112.77" y="1856.27" font-size="21.2" text-anchor="middle" transform="rotate(-90 1112.77 1856.27)">Counts relative to control</text>
<text x="1211.82" y="2021.5" font-size="21.2" text-anchor="end">Control</text>
<text x="1231.69" y="2021.5" font-size="21.2" text-anchor="middle">2.5</text>
<text x="1268.96" y="2021.5" font-size="21.2" text-anchor="middle">5</text>
<text x="1306.03" y="2021.5" font-size="21.2" text-anchor="middle">10</text>
<text x="1343.3" y="2021.5" font-size="21.2" text-anchor="middle">20</text>
<text x="1274.86" y="2052.5" font-size="21.2" text-anchor="middle">MTX-23 concentration (µM)</text>
<rect x="1559.86" y="1812.35" width="24.17" height="176.87" fill="#838383" stroke="#000" stroke-width="1.2"/>
<rect x="1597.13" y="1839.55" width="24.17" height="149.68" fill="#ff8f46" stroke="#000" stroke-width="1.2"/>
<rect x="1634" y="1848.82" width="24.17" height="140.41" fill="#ff8f46" stroke="#000" stroke-width="1.2"/>
<rect x="1671.67" y="1854.86" width="24.17" height="134.37" fill="#ff8f46" stroke="#000" stroke-width="1.2"/>
<rect x="1708.53" y="1898.57" width="24.17" height="90.65" fill="#ff8f46" stroke="#000" stroke-width="1.2"/>
<line x1="1571.95" y1="1799.86" x2="1571.95" y2="1825.04" stroke="#111" stroke-width="1.3"/>
<line x1="1565.65" y1="1799.86" x2="1578.25" y2="1799.86" stroke="#111" stroke-width="1.5"/>
<line x1="1565.65" y1="1825.04" x2="1578.25" y2="1825.04" stroke="#111" stroke-width="1.5"/>
<line x1="1609.22" y1="1818.6" x2="1609.22" y2="1860.3" stroke="#111" stroke-width="1.3"/>
<line x1="1602.92" y1="1818.6" x2="1615.52" y2="1818.6" stroke="#111" stroke-width="1.5"/>
<line x1="1602.92" y1="1860.3" x2="1615.52" y2="1860.3" stroke="#111" stroke-width="1.5"/>
<line x1="1646.08" y1="1829.48" x2="1646.08" y2="1865.33" stroke="#111" stroke-width="1.3"/>
<line x1="1639.78" y1="1829.48" x2="1652.38" y2="1829.48" stroke="#111" stroke-width="1.5"/>
<line x1="1639.78" y1="1865.33" x2="1652.38" y2="1865.33" stroke="#111" stroke-width="1.5"/>
<line x1="1683.76" y1="1849.22" x2="1683.76" y2="1861.31" stroke="#111" stroke-width="1.3"/>
<line x1="1677.46" y1="1849.22" x2="1690.06" y2="1849.22" stroke="#111" stroke-width="1.5"/>
<line x1="1677.46" y1="1861.31" x2="1690.06" y2="1861.31" stroke="#111" stroke-width="1.5"/>
<line x1="1720.62" y1="1881.45" x2="1720.62" y2="1903.61" stroke="#111" stroke-width="1.3"/>
<line x1="1714.32" y1="1881.45" x2="1726.92" y2="1881.45" stroke="#111" stroke-width="1.5"/>
<line x1="1714.32" y1="1903.61" x2="1726.92" y2="1903.61" stroke="#111" stroke-width="1.5"/>
<g fill="#000">
<circle cx="1573.36" cy="1794.42" r="6.8"/>
<circle cx="1565.91" cy="1810.54" r="6.8"/>
<circle cx="1581.02" cy="1812.55" r="6.8"/>
<circle cx="1573.36" cy="1803.89" r="6.8"/>
<circle cx="1576.99" cy="1823.43" r="6.8"/>
<circle cx="1569.94" cy="1829.07" r="6.8"/>
<circle cx="1603.58" cy="1824.64" r="6.8"/>
<circle cx="1618.28" cy="1817.99" r="6.8"/>
<circle cx="1618.28" cy="1829.07" r="6.8"/>
<circle cx="1610.83" cy="1840.76" r="6.8"/>
<circle cx="1610.83" cy="1852.24" r="6.8"/>
<circle cx="1610.83" cy="1873.8" r="6.8"/>
<circle cx="1647.9" cy="1821.02" r="6.8"/>
<circle cx="1647.9" cy="1835.12" r="6.8"/>
<circle cx="1655.55" cy="1846.2" r="6.8"/>
<circle cx="1640.44" cy="1852.84" r="6.8"/>
<circle cx="1647.9" cy="1864.93" r="6.8"/>
<circle cx="1647.9" cy="1877.82" r="6.8"/>
<circle cx="1684.76" cy="1843.58" r="6.8"/>
<circle cx="1678.72" cy="1852.24" r="6.8"/>
<circle cx="1691.81" cy="1852.84" r="6.8"/>
<circle cx="1677.71" cy="1858.89" r="6.8"/>
<circle cx="1692.22" cy="1862.31" r="6.8"/>
<circle cx="1684.76" cy="1857.28" r="6.8"/>
<circle cx="1722.03" cy="1872.39" r="6.8"/>
<circle cx="1714.98" cy="1895.95" r="6.8"/>
<circle cx="1729.08" cy="1889.11" r="6.8"/>
<circle cx="1729.69" cy="1899.18" r="6.8"/>
<circle cx="1714.98" cy="1907.64" r="6.8"/>
<circle cx="1722.03" cy="1898.57" r="6.8"/>
</g>
<line x1="1552.21" y1="1722.91" x2="1552.21" y2="1989.23" stroke="#333" stroke-width="1.5"/>
<line x1="1544.35" y1="1989.23" x2="1746.81" y2="1989.23" stroke="#111" stroke-width="1.4"/>
<line x1="1544.35" y1="1722.91" x2="1552.21" y2="1722.91" stroke="#333" stroke-width="1.3"/>
<text x="1535.95" y="1730.11" font-size="21.2" text-anchor="end">1.5</text>
<line x1="1544.35" y1="1812.35" x2="1552.21" y2="1812.35" stroke="#333" stroke-width="1.3"/>
<text x="1535.95" y="1819.55" font-size="21.2" text-anchor="end">1.0</text>
<line x1="1544.35" y1="1900.99" x2="1552.21" y2="1900.99" stroke="#333" stroke-width="1.3"/>
<text x="1535.95" y="1908.19" font-size="21.2" text-anchor="end">0.5</text>
<line x1="1544.35" y1="1989.23" x2="1552.21" y2="1989.23" stroke="#333" stroke-width="1.3"/>
<text x="1535.95" y="1996.43" font-size="21.2" text-anchor="end">0</text>
<line x1="1571.95" y1="1989.23" x2="1571.95" y2="1997.73" stroke="#333" stroke-width="1.3"/>
<line x1="1609.22" y1="1989.23" x2="1609.22" y2="1997.73" stroke="#333" stroke-width="1.3"/>
<line x1="1646.08" y1="1989.23" x2="1646.08" y2="1997.73" stroke="#333" stroke-width="1.3"/>
<line x1="1683.76" y1="1989.23" x2="1683.76" y2="1997.73" stroke="#333" stroke-width="1.3"/>
<line x1="1720.62" y1="1989.23" x2="1720.62" y2="1997.73" stroke="#333" stroke-width="1.3"/>
<polyline points="1574.57,1785.22 1574.57,1779.72 1611.23,1779.72 1611.23,1785.22" fill="none" stroke="#222" stroke-width="1.3"/>
<text x="1593.2" y="1784.17" font-size="25" text-anchor="middle" letter-spacing="0.6" stroke="#000" stroke-width="0.35">*</text>
<polyline points="1574.57,1773.74 1574.57,1768.24 1647.9,1768.24 1647.9,1773.74" fill="none" stroke="#222" stroke-width="1.3"/>
<text x="1611.53" y="1772.69" font-size="25" text-anchor="middle" letter-spacing="0.6" stroke="#000" stroke-width="0.35">**</text>
<polyline points="1574.57,1760.44 1574.57,1754.94 1685.37,1754.94 1685.37,1760.44" fill="none" stroke="#222" stroke-width="1.3"/>
<text x="1630.27" y="1759.39" font-size="25" text-anchor="middle" letter-spacing="0.6" stroke="#000" stroke-width="0.35">***</text>
<polyline points="1574.57,1745.94 1574.57,1740.44 1722.43,1740.44 1722.43,1745.94" fill="none" stroke="#222" stroke-width="1.3"/>
<text x="1648.8" y="1744.89" font-size="25" text-anchor="middle" letter-spacing="0.6" stroke="#000" stroke-width="0.35">****</text>
<g fill="none" stroke="#e8121e" stroke-width="3.2" stroke-linecap="round">
<circle cx="1583.79" cy="1697.5" r="5.0"/>
<line x1="1583.79" y1="1704" x2="1583.79" y2="1711.6"/>
<line x1="1578.49" y1="1707.2" x2="1589.19" y2="1707.2"/>
</g>
<text x="1605.5" y="1710.6" font-size="21.2">PFA4</text>
<text x="1491.71" y="1856.07" font-size="21.2" text-anchor="middle" transform="rotate(-90 1491.71 1856.07)">Counts relative to control</text>
<text x="1589.35" y="2021.5" font-size="21.2" text-anchor="end">Control</text>
<text x="1609.22" y="2021.5" font-size="21.2" text-anchor="middle">2.5</text>
<text x="1646.08" y="2021.5" font-size="21.2" text-anchor="middle">5</text>
<text x="1683.76" y="2021.5" font-size="21.2" text-anchor="middle">10</text>
<text x="1720.62" y="2021.5" font-size="21.2" text-anchor="middle">20</text>
<text x="1652.29" y="2052.5" font-size="21.2" text-anchor="middle">MTX-23 concentration (µM)</text>
<rect x="1921.93" y="1812.41" width="24.18" height="176.94" fill="#838383" stroke="#000" stroke-width="1.2"/>
<rect x="1959.21" y="1830.75" width="24.18" height="158.61" fill="#ff8f46" stroke="#000" stroke-width="1.2"/>
<rect x="1996.49" y="1861.38" width="24.18" height="127.97" fill="#ff8f46" stroke="#000" stroke-width="1.2"/>
<rect x="2033.78" y="1882.14" width="24.18" height="107.21" fill="#ff8f46" stroke="#000" stroke-width="1.2"/>
<rect x="2071.06" y="1945.62" width="24.18" height="43.73" fill="#ff8f46" stroke="#000" stroke-width="1.2"/>
<line x1="1934.02" y1="1800.92" x2="1934.02" y2="1828.73" stroke="#111" stroke-width="1.3"/>
<line x1="1927.72" y1="1800.92" x2="1940.32" y2="1800.92" stroke="#111" stroke-width="1.5"/>
<line x1="1927.72" y1="1828.73" x2="1940.32" y2="1828.73" stroke="#111" stroke-width="1.5"/>
<line x1="1971.3" y1="1812.41" x2="1971.3" y2="1846.87" stroke="#111" stroke-width="1.3"/>
<line x1="1965" y1="1812.41" x2="1977.6" y2="1812.41" stroke="#111" stroke-width="1.5"/>
<line x1="1965" y1="1846.87" x2="1977.6" y2="1846.87" stroke="#111" stroke-width="1.5"/>
<line x1="2008.59" y1="1844.85" x2="2008.59" y2="1876.49" stroke="#111" stroke-width="1.3"/>
<line x1="2002.29" y1="1844.85" x2="2014.89" y2="1844.85" stroke="#111" stroke-width="1.5"/>
<line x1="2002.29" y1="1876.49" x2="2014.89" y2="1876.49" stroke="#111" stroke-width="1.5"/>
<line x1="2045.87" y1="1867.42" x2="2045.87" y2="1896.65" stroke="#111" stroke-width="1.3"/>
<line x1="2039.57" y1="1867.42" x2="2052.17" y2="1867.42" stroke="#111" stroke-width="1.5"/>
<line x1="2039.57" y1="1896.65" x2="2052.17" y2="1896.65" stroke="#111" stroke-width="1.5"/>
<line x1="2083.15" y1="1933.93" x2="2083.15" y2="1958.11" stroke="#111" stroke-width="1.3"/>
<line x1="2076.85" y1="1933.93" x2="2089.45" y2="1933.93" stroke="#111" stroke-width="1.5"/>
<line x1="2076.85" y1="1958.11" x2="2089.45" y2="1958.11" stroke="#111" stroke-width="1.5"/>
<g fill="#000">
<circle cx="1928.98" cy="1801.93" r="6.8"/>
<circle cx="1936.64" cy="1798.9" r="6.8"/>
<circle cx="1943.49" cy="1806.96" r="6.8"/>
<circle cx="1936.03" cy="1814.02" r="6.8"/>
<circle cx="1933.01" cy="1808.98" r="6.8"/>
<circle cx="1934.02" cy="1843.24" r="6.8"/>
<circle cx="1971.3" cy="1801.32" r="6.8"/>
<circle cx="1963.64" cy="1824.7" r="6.8"/>
<circle cx="1978.96" cy="1825.51" r="6.8"/>
<circle cx="1963.64" cy="1835.18" r="6.8"/>
<circle cx="1978.96" cy="1839.21" r="6.8"/>
<circle cx="1971.3" cy="1852.31" r="6.8"/>
<circle cx="2008.59" cy="1834.17" r="6.8"/>
<circle cx="2008.59" cy="1849.29" r="6.8"/>
<circle cx="2001.53" cy="1863.39" r="6.8"/>
<circle cx="2001.53" cy="1873.47" r="6.8"/>
<circle cx="2016.04" cy="1870.45" r="6.8"/>
<circle cx="2010.6" cy="1874.48" r="6.8"/>
<circle cx="2038.21" cy="1864.4" r="6.8"/>
<circle cx="2052.92" cy="1867.83" r="6.8"/>
<circle cx="2038.21" cy="1875.49" r="6.8"/>
<circle cx="2038.21" cy="1888.59" r="6.8"/>
<circle cx="2052.92" cy="1895.24" r="6.8"/>
<circle cx="2038.21" cy="1898.66" r="6.8"/>
<circle cx="2075.7" cy="1933.53" r="6.8"/>
<circle cx="2090.21" cy="1933.53" r="6.8"/>
<circle cx="2083.15" cy="1939.98" r="6.8"/>
<circle cx="2083.15" cy="1951.06" r="6.8"/>
<circle cx="2078.11" cy="1948.04" r="6.8"/>
<circle cx="2083.15" cy="1966.17" r="6.8"/>
</g>
<line x1="1913.26" y1="1722.93" x2="1913.26" y2="1989.35" stroke="#333" stroke-width="1.5"/>
<line x1="1905.2" y1="1989.35" x2="2109.35" y2="1989.35" stroke="#111" stroke-width="1.4"/>
<line x1="1905.2" y1="1722.93" x2="1913.26" y2="1722.93" stroke="#333" stroke-width="1.3"/>
<text x="1896.8" y="1730.13" font-size="21.2" text-anchor="end">1.5</text>
<line x1="1905.2" y1="1812.41" x2="1913.26" y2="1812.41" stroke="#333" stroke-width="1.3"/>
<text x="1896.8" y="1819.61" font-size="21.2" text-anchor="end">1.0</text>
<line x1="1905.2" y1="1901.08" x2="1913.26" y2="1901.08" stroke="#333" stroke-width="1.3"/>
<text x="1896.8" y="1908.28" font-size="21.2" text-anchor="end">0.5</text>
<line x1="1905.2" y1="1989.35" x2="1913.26" y2="1989.35" stroke="#333" stroke-width="1.3"/>
<text x="1896.8" y="1996.55" font-size="21.2" text-anchor="end">0</text>
<line x1="1934.02" y1="1989.35" x2="1934.02" y2="1997.85" stroke="#333" stroke-width="1.3"/>
<line x1="1971.3" y1="1989.35" x2="1971.3" y2="1997.85" stroke="#333" stroke-width="1.3"/>
<line x1="2008.59" y1="1989.35" x2="2008.59" y2="1997.85" stroke="#333" stroke-width="1.3"/>
<line x1="2045.87" y1="1989.35" x2="2045.87" y2="1997.85" stroke="#333" stroke-width="1.3"/>
<line x1="2083.15" y1="1989.35" x2="2083.15" y2="1997.85" stroke="#333" stroke-width="1.3"/>
<polyline points="1934.02,1788.28 1934.02,1782.78 2008.59,1782.78 2008.59,1788.28" fill="none" stroke="#222" stroke-width="1.3"/>
<text x="1971.6" y="1787.23" font-size="25" text-anchor="middle" letter-spacing="0.6" stroke="#000" stroke-width="0.35">***</text>
<polyline points="1934.02,1768.13 1934.02,1762.63 2045.87,1762.63 2045.87,1768.13" fill="none" stroke="#222" stroke-width="1.3"/>
<text x="1990.24" y="1767.08" font-size="25" text-anchor="middle" letter-spacing="0.6" stroke="#000" stroke-width="0.35">****</text>
<polyline points="1934.02,1748.98 1934.02,1743.48 2083.15,1743.48 2083.15,1748.98" fill="none" stroke="#222" stroke-width="1.3"/>
<text x="2008.89" y="1747.93" font-size="25" text-anchor="middle" letter-spacing="0.6" stroke="#000" stroke-width="0.35">****</text>
<g fill="none" stroke="#e8121e" stroke-width="3.2" stroke-linecap="round">
<circle cx="1943.84" cy="1697.5" r="5.0"/>
<line x1="1943.84" y1="1704" x2="1943.84" y2="1711.6"/>
<line x1="1938.54" y1="1707.2" x2="1949.24" y2="1707.2"/>
</g>
<text x="1965.17" y="1710.6" font-size="21.2">PFA6</text>
<text x="1852.76" y="1856.14" font-size="21.2" text-anchor="middle" transform="rotate(-90 1852.76 1856.14)">Counts relative to control</text>
<text x="1951.42" y="2021.5" font-size="21.2" text-anchor="end">Control</text>
<text x="1971.3" y="2021.5" font-size="21.2" text-anchor="middle">2.5</text>
<text x="2008.59" y="2021.5" font-size="21.2" text-anchor="middle">5</text>
<text x="2045.87" y="2021.5" font-size="21.2" text-anchor="middle">10</text>
<text x="2083.15" y="2021.5" font-size="21.2" text-anchor="middle">20</text>
<text x="2014.59" y="2052.5" font-size="21.2" text-anchor="middle">MTX-23 concentration (µM)</text>
<text transform="translate(0 24.6) scale(1.06 1)" font-size="33" font-weight="bold" stroke="#000" stroke-width="1.1" stroke-linejoin="round">a</text>
<text transform="translate(555 24.6) scale(1.06 1)" font-size="33" font-weight="bold" stroke="#000" stroke-width="1.1" stroke-linejoin="round">b</text>
<text transform="translate(1092 24.2) scale(1.06 1)" font-size="33" font-weight="bold" stroke="#000" stroke-width="1.1" stroke-linejoin="round">c</text>
<text transform="translate(1651 24.6) scale(1.06 1)" font-size="33" font-weight="bold" stroke="#000" stroke-width="1.1" stroke-linejoin="round">d</text>
<text transform="translate(0 247.3) scale(1.06 1)" font-size="33" font-weight="bold" stroke="#000" stroke-width="1.1" stroke-linejoin="round">e</text>
<text transform="translate(716.5 243.5) scale(1.06 1)" font-size="33" font-weight="bold" stroke="#000" stroke-width="1.1" stroke-linejoin="round">g</text>
<text transform="translate(1432.5 247.1) scale(1.06 1)" font-size="33" font-weight="bold" stroke="#000" stroke-width="1.1" stroke-linejoin="round">h</text>
<text transform="translate(-0.5 858) scale(1.06 1)" font-size="33" font-weight="bold" stroke="#000" stroke-width="1.1" stroke-linejoin="round">f</text>
<text transform="translate(1 1310.6) scale(1.06 1)" font-size="33" font-weight="bold" stroke="#000" stroke-width="1.1" stroke-linejoin="round">i</text>
<text transform="translate(8 1712.5) scale(1.06 1)" font-size="33" font-weight="bold" stroke="#000" stroke-width="1.1" stroke-linejoin="round">j</text>
</svg>
</body></html>
